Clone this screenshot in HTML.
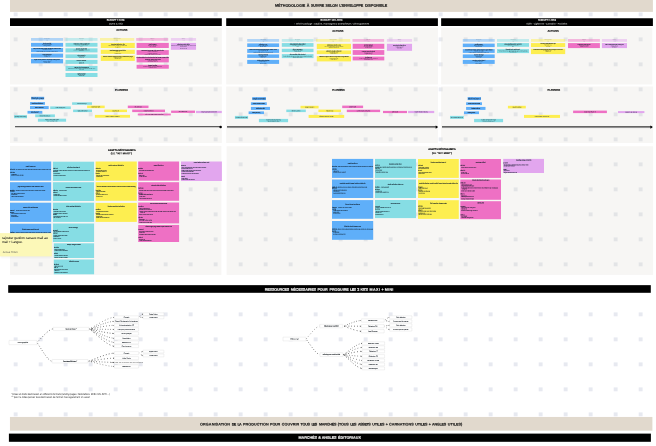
<!DOCTYPE html>
<html lang="fr">
<head>
<meta charset="utf-8">
<title>Méthodologie à suivre selon l'enveloppe disponible</title>
<style>
html,body{margin:0;padding:0;background:#fff;}
body{width:656px;height:446px;overflow:hidden;font-family:"Liberation Sans",sans-serif;}
svg{display:block;position:absolute;left:0;top:0;}
.k{stroke:#0e1a26;stroke-width:.07px;}
.k2{stroke:#000;stroke-width:.08px;}
.r2{stroke:#000;stroke-width:.07px;}
.s{stroke:#1c1c1a;stroke-width:.05px;}
.ak{stroke:#0e1a26;stroke-width:.04px;}
.ar{stroke:#0e1a26;stroke-width:.03px;}
.f{stroke:#222;stroke-width:.03px;}
.h{stroke:#000;stroke-width:.13px;}
.hw{stroke:#fff;stroke-width:.06px;}
.r{stroke:#0e1a26;stroke-width:.07px;}
</style>
</head>
<body>
<svg width="656" height="446" viewBox="0 0 656 446" font-family="'Liberation Sans', sans-serif">
<defs><filter id="bl" x="-20%" y="-20%" width="140%" height="140%"><feGaussianBlur stdDeviation="0.9"/></filter></defs>
<g fill="#e7e9f0"><rect x="13.7" y="12.4" width="3.9" height="3.9"/><rect x="38.7" y="12.4" width="3.9" height="3.9"/><rect x="63.7" y="12.4" width="3.9" height="3.9"/><rect x="88.7" y="12.4" width="3.9" height="3.9"/><rect x="113.7" y="12.4" width="3.9" height="3.9"/><rect x="138.7" y="12.4" width="3.9" height="3.9"/><rect x="163.7" y="12.4" width="3.9" height="3.9"/><rect x="188.7" y="12.4" width="3.9" height="3.9"/><rect x="213.7" y="12.4" width="3.9" height="3.9"/><rect x="238.7" y="12.4" width="3.9" height="3.9"/><rect x="263.7" y="12.4" width="3.9" height="3.9"/><rect x="288.7" y="12.4" width="3.9" height="3.9"/><rect x="313.7" y="12.4" width="3.9" height="3.9"/><rect x="338.7" y="12.4" width="3.9" height="3.9"/><rect x="363.7" y="12.4" width="3.9" height="3.9"/><rect x="388.7" y="12.4" width="3.9" height="3.9"/><rect x="413.7" y="12.4" width="3.9" height="3.9"/><rect x="438.7" y="12.4" width="3.9" height="3.9"/><rect x="463.7" y="12.4" width="3.9" height="3.9"/><rect x="488.7" y="12.4" width="3.9" height="3.9"/><rect x="513.7" y="12.4" width="3.9" height="3.9"/><rect x="538.7" y="12.4" width="3.9" height="3.9"/><rect x="563.7" y="12.4" width="3.9" height="3.9"/><rect x="588.7" y="12.4" width="3.9" height="3.9"/><rect x="613.7" y="12.4" width="3.9" height="3.9"/><rect x="638.7" y="12.4" width="3.9" height="3.9"/><rect x="13.7" y="37.4" width="3.9" height="3.9"/><rect x="38.7" y="37.4" width="3.9" height="3.9"/><rect x="63.7" y="37.4" width="3.9" height="3.9"/><rect x="88.7" y="37.4" width="3.9" height="3.9"/><rect x="113.7" y="37.4" width="3.9" height="3.9"/><rect x="138.7" y="37.4" width="3.9" height="3.9"/><rect x="163.7" y="37.4" width="3.9" height="3.9"/><rect x="188.7" y="37.4" width="3.9" height="3.9"/><rect x="213.7" y="37.4" width="3.9" height="3.9"/><rect x="238.7" y="37.4" width="3.9" height="3.9"/><rect x="263.7" y="37.4" width="3.9" height="3.9"/><rect x="288.7" y="37.4" width="3.9" height="3.9"/><rect x="313.7" y="37.4" width="3.9" height="3.9"/><rect x="338.7" y="37.4" width="3.9" height="3.9"/><rect x="363.7" y="37.4" width="3.9" height="3.9"/><rect x="388.7" y="37.4" width="3.9" height="3.9"/><rect x="413.7" y="37.4" width="3.9" height="3.9"/><rect x="438.7" y="37.4" width="3.9" height="3.9"/><rect x="463.7" y="37.4" width="3.9" height="3.9"/><rect x="488.7" y="37.4" width="3.9" height="3.9"/><rect x="513.7" y="37.4" width="3.9" height="3.9"/><rect x="538.7" y="37.4" width="3.9" height="3.9"/><rect x="563.7" y="37.4" width="3.9" height="3.9"/><rect x="588.7" y="37.4" width="3.9" height="3.9"/><rect x="613.7" y="37.4" width="3.9" height="3.9"/><rect x="638.7" y="37.4" width="3.9" height="3.9"/><rect x="13.7" y="62.4" width="3.9" height="3.9"/><rect x="38.7" y="62.4" width="3.9" height="3.9"/><rect x="63.7" y="62.4" width="3.9" height="3.9"/><rect x="88.7" y="62.4" width="3.9" height="3.9"/><rect x="113.7" y="62.4" width="3.9" height="3.9"/><rect x="138.7" y="62.4" width="3.9" height="3.9"/><rect x="163.7" y="62.4" width="3.9" height="3.9"/><rect x="188.7" y="62.4" width="3.9" height="3.9"/><rect x="213.7" y="62.4" width="3.9" height="3.9"/><rect x="238.7" y="62.4" width="3.9" height="3.9"/><rect x="263.7" y="62.4" width="3.9" height="3.9"/><rect x="288.7" y="62.4" width="3.9" height="3.9"/><rect x="313.7" y="62.4" width="3.9" height="3.9"/><rect x="338.7" y="62.4" width="3.9" height="3.9"/><rect x="363.7" y="62.4" width="3.9" height="3.9"/><rect x="388.7" y="62.4" width="3.9" height="3.9"/><rect x="413.7" y="62.4" width="3.9" height="3.9"/><rect x="438.7" y="62.4" width="3.9" height="3.9"/><rect x="463.7" y="62.4" width="3.9" height="3.9"/><rect x="488.7" y="62.4" width="3.9" height="3.9"/><rect x="513.7" y="62.4" width="3.9" height="3.9"/><rect x="538.7" y="62.4" width="3.9" height="3.9"/><rect x="563.7" y="62.4" width="3.9" height="3.9"/><rect x="588.7" y="62.4" width="3.9" height="3.9"/><rect x="613.7" y="62.4" width="3.9" height="3.9"/><rect x="638.7" y="62.4" width="3.9" height="3.9"/><rect x="13.7" y="87.4" width="3.9" height="3.9"/><rect x="38.7" y="87.4" width="3.9" height="3.9"/><rect x="63.7" y="87.4" width="3.9" height="3.9"/><rect x="88.7" y="87.4" width="3.9" height="3.9"/><rect x="113.7" y="87.4" width="3.9" height="3.9"/><rect x="138.7" y="87.4" width="3.9" height="3.9"/><rect x="163.7" y="87.4" width="3.9" height="3.9"/><rect x="188.7" y="87.4" width="3.9" height="3.9"/><rect x="213.7" y="87.4" width="3.9" height="3.9"/><rect x="238.7" y="87.4" width="3.9" height="3.9"/><rect x="263.7" y="87.4" width="3.9" height="3.9"/><rect x="288.7" y="87.4" width="3.9" height="3.9"/><rect x="313.7" y="87.4" width="3.9" height="3.9"/><rect x="338.7" y="87.4" width="3.9" height="3.9"/><rect x="363.7" y="87.4" width="3.9" height="3.9"/><rect x="388.7" y="87.4" width="3.9" height="3.9"/><rect x="413.7" y="87.4" width="3.9" height="3.9"/><rect x="438.7" y="87.4" width="3.9" height="3.9"/><rect x="463.7" y="87.4" width="3.9" height="3.9"/><rect x="488.7" y="87.4" width="3.9" height="3.9"/><rect x="513.7" y="87.4" width="3.9" height="3.9"/><rect x="538.7" y="87.4" width="3.9" height="3.9"/><rect x="563.7" y="87.4" width="3.9" height="3.9"/><rect x="588.7" y="87.4" width="3.9" height="3.9"/><rect x="613.7" y="87.4" width="3.9" height="3.9"/><rect x="638.7" y="87.4" width="3.9" height="3.9"/><rect x="13.7" y="112.4" width="3.9" height="3.9"/><rect x="38.7" y="112.4" width="3.9" height="3.9"/><rect x="63.7" y="112.4" width="3.9" height="3.9"/><rect x="88.7" y="112.4" width="3.9" height="3.9"/><rect x="113.7" y="112.4" width="3.9" height="3.9"/><rect x="138.7" y="112.4" width="3.9" height="3.9"/><rect x="163.7" y="112.4" width="3.9" height="3.9"/><rect x="188.7" y="112.4" width="3.9" height="3.9"/><rect x="213.7" y="112.4" width="3.9" height="3.9"/><rect x="238.7" y="112.4" width="3.9" height="3.9"/><rect x="263.7" y="112.4" width="3.9" height="3.9"/><rect x="288.7" y="112.4" width="3.9" height="3.9"/><rect x="313.7" y="112.4" width="3.9" height="3.9"/><rect x="338.7" y="112.4" width="3.9" height="3.9"/><rect x="363.7" y="112.4" width="3.9" height="3.9"/><rect x="388.7" y="112.4" width="3.9" height="3.9"/><rect x="413.7" y="112.4" width="3.9" height="3.9"/><rect x="438.7" y="112.4" width="3.9" height="3.9"/><rect x="463.7" y="112.4" width="3.9" height="3.9"/><rect x="488.7" y="112.4" width="3.9" height="3.9"/><rect x="513.7" y="112.4" width="3.9" height="3.9"/><rect x="538.7" y="112.4" width="3.9" height="3.9"/><rect x="563.7" y="112.4" width="3.9" height="3.9"/><rect x="588.7" y="112.4" width="3.9" height="3.9"/><rect x="613.7" y="112.4" width="3.9" height="3.9"/><rect x="638.7" y="112.4" width="3.9" height="3.9"/><rect x="13.7" y="137.4" width="3.9" height="3.9"/><rect x="38.7" y="137.4" width="3.9" height="3.9"/><rect x="63.7" y="137.4" width="3.9" height="3.9"/><rect x="88.7" y="137.4" width="3.9" height="3.9"/><rect x="113.7" y="137.4" width="3.9" height="3.9"/><rect x="138.7" y="137.4" width="3.9" height="3.9"/><rect x="163.7" y="137.4" width="3.9" height="3.9"/><rect x="188.7" y="137.4" width="3.9" height="3.9"/><rect x="213.7" y="137.4" width="3.9" height="3.9"/><rect x="238.7" y="137.4" width="3.9" height="3.9"/><rect x="263.7" y="137.4" width="3.9" height="3.9"/><rect x="288.7" y="137.4" width="3.9" height="3.9"/><rect x="313.7" y="137.4" width="3.9" height="3.9"/><rect x="338.7" y="137.4" width="3.9" height="3.9"/><rect x="363.7" y="137.4" width="3.9" height="3.9"/><rect x="388.7" y="137.4" width="3.9" height="3.9"/><rect x="413.7" y="137.4" width="3.9" height="3.9"/><rect x="438.7" y="137.4" width="3.9" height="3.9"/><rect x="463.7" y="137.4" width="3.9" height="3.9"/><rect x="488.7" y="137.4" width="3.9" height="3.9"/><rect x="513.7" y="137.4" width="3.9" height="3.9"/><rect x="538.7" y="137.4" width="3.9" height="3.9"/><rect x="563.7" y="137.4" width="3.9" height="3.9"/><rect x="588.7" y="137.4" width="3.9" height="3.9"/><rect x="613.7" y="137.4" width="3.9" height="3.9"/><rect x="638.7" y="137.4" width="3.9" height="3.9"/><rect x="13.7" y="162.4" width="3.9" height="3.9"/><rect x="38.7" y="162.4" width="3.9" height="3.9"/><rect x="63.7" y="162.4" width="3.9" height="3.9"/><rect x="88.7" y="162.4" width="3.9" height="3.9"/><rect x="113.7" y="162.4" width="3.9" height="3.9"/><rect x="138.7" y="162.4" width="3.9" height="3.9"/><rect x="163.7" y="162.4" width="3.9" height="3.9"/><rect x="188.7" y="162.4" width="3.9" height="3.9"/><rect x="213.7" y="162.4" width="3.9" height="3.9"/><rect x="238.7" y="162.4" width="3.9" height="3.9"/><rect x="263.7" y="162.4" width="3.9" height="3.9"/><rect x="288.7" y="162.4" width="3.9" height="3.9"/><rect x="313.7" y="162.4" width="3.9" height="3.9"/><rect x="338.7" y="162.4" width="3.9" height="3.9"/><rect x="363.7" y="162.4" width="3.9" height="3.9"/><rect x="388.7" y="162.4" width="3.9" height="3.9"/><rect x="413.7" y="162.4" width="3.9" height="3.9"/><rect x="438.7" y="162.4" width="3.9" height="3.9"/><rect x="463.7" y="162.4" width="3.9" height="3.9"/><rect x="488.7" y="162.4" width="3.9" height="3.9"/><rect x="513.7" y="162.4" width="3.9" height="3.9"/><rect x="538.7" y="162.4" width="3.9" height="3.9"/><rect x="563.7" y="162.4" width="3.9" height="3.9"/><rect x="588.7" y="162.4" width="3.9" height="3.9"/><rect x="613.7" y="162.4" width="3.9" height="3.9"/><rect x="638.7" y="162.4" width="3.9" height="3.9"/><rect x="13.7" y="187.4" width="3.9" height="3.9"/><rect x="38.7" y="187.4" width="3.9" height="3.9"/><rect x="63.7" y="187.4" width="3.9" height="3.9"/><rect x="88.7" y="187.4" width="3.9" height="3.9"/><rect x="113.7" y="187.4" width="3.9" height="3.9"/><rect x="138.7" y="187.4" width="3.9" height="3.9"/><rect x="163.7" y="187.4" width="3.9" height="3.9"/><rect x="188.7" y="187.4" width="3.9" height="3.9"/><rect x="213.7" y="187.4" width="3.9" height="3.9"/><rect x="238.7" y="187.4" width="3.9" height="3.9"/><rect x="263.7" y="187.4" width="3.9" height="3.9"/><rect x="288.7" y="187.4" width="3.9" height="3.9"/><rect x="313.7" y="187.4" width="3.9" height="3.9"/><rect x="338.7" y="187.4" width="3.9" height="3.9"/><rect x="363.7" y="187.4" width="3.9" height="3.9"/><rect x="388.7" y="187.4" width="3.9" height="3.9"/><rect x="413.7" y="187.4" width="3.9" height="3.9"/><rect x="438.7" y="187.4" width="3.9" height="3.9"/><rect x="463.7" y="187.4" width="3.9" height="3.9"/><rect x="488.7" y="187.4" width="3.9" height="3.9"/><rect x="513.7" y="187.4" width="3.9" height="3.9"/><rect x="538.7" y="187.4" width="3.9" height="3.9"/><rect x="563.7" y="187.4" width="3.9" height="3.9"/><rect x="588.7" y="187.4" width="3.9" height="3.9"/><rect x="613.7" y="187.4" width="3.9" height="3.9"/><rect x="638.7" y="187.4" width="3.9" height="3.9"/><rect x="13.7" y="212.4" width="3.9" height="3.9"/><rect x="38.7" y="212.4" width="3.9" height="3.9"/><rect x="63.7" y="212.4" width="3.9" height="3.9"/><rect x="88.7" y="212.4" width="3.9" height="3.9"/><rect x="113.7" y="212.4" width="3.9" height="3.9"/><rect x="138.7" y="212.4" width="3.9" height="3.9"/><rect x="163.7" y="212.4" width="3.9" height="3.9"/><rect x="188.7" y="212.4" width="3.9" height="3.9"/><rect x="213.7" y="212.4" width="3.9" height="3.9"/><rect x="238.7" y="212.4" width="3.9" height="3.9"/><rect x="263.7" y="212.4" width="3.9" height="3.9"/><rect x="288.7" y="212.4" width="3.9" height="3.9"/><rect x="313.7" y="212.4" width="3.9" height="3.9"/><rect x="338.7" y="212.4" width="3.9" height="3.9"/><rect x="363.7" y="212.4" width="3.9" height="3.9"/><rect x="388.7" y="212.4" width="3.9" height="3.9"/><rect x="413.7" y="212.4" width="3.9" height="3.9"/><rect x="438.7" y="212.4" width="3.9" height="3.9"/><rect x="463.7" y="212.4" width="3.9" height="3.9"/><rect x="488.7" y="212.4" width="3.9" height="3.9"/><rect x="513.7" y="212.4" width="3.9" height="3.9"/><rect x="538.7" y="212.4" width="3.9" height="3.9"/><rect x="563.7" y="212.4" width="3.9" height="3.9"/><rect x="588.7" y="212.4" width="3.9" height="3.9"/><rect x="613.7" y="212.4" width="3.9" height="3.9"/><rect x="638.7" y="212.4" width="3.9" height="3.9"/><rect x="13.7" y="237.4" width="3.9" height="3.9"/><rect x="38.7" y="237.4" width="3.9" height="3.9"/><rect x="63.7" y="237.4" width="3.9" height="3.9"/><rect x="88.7" y="237.4" width="3.9" height="3.9"/><rect x="113.7" y="237.4" width="3.9" height="3.9"/><rect x="138.7" y="237.4" width="3.9" height="3.9"/><rect x="163.7" y="237.4" width="3.9" height="3.9"/><rect x="188.7" y="237.4" width="3.9" height="3.9"/><rect x="213.7" y="237.4" width="3.9" height="3.9"/><rect x="238.7" y="237.4" width="3.9" height="3.9"/><rect x="263.7" y="237.4" width="3.9" height="3.9"/><rect x="288.7" y="237.4" width="3.9" height="3.9"/><rect x="313.7" y="237.4" width="3.9" height="3.9"/><rect x="338.7" y="237.4" width="3.9" height="3.9"/><rect x="363.7" y="237.4" width="3.9" height="3.9"/><rect x="388.7" y="237.4" width="3.9" height="3.9"/><rect x="413.7" y="237.4" width="3.9" height="3.9"/><rect x="438.7" y="237.4" width="3.9" height="3.9"/><rect x="463.7" y="237.4" width="3.9" height="3.9"/><rect x="488.7" y="237.4" width="3.9" height="3.9"/><rect x="513.7" y="237.4" width="3.9" height="3.9"/><rect x="538.7" y="237.4" width="3.9" height="3.9"/><rect x="563.7" y="237.4" width="3.9" height="3.9"/><rect x="588.7" y="237.4" width="3.9" height="3.9"/><rect x="613.7" y="237.4" width="3.9" height="3.9"/><rect x="638.7" y="237.4" width="3.9" height="3.9"/><rect x="13.7" y="262.4" width="3.9" height="3.9"/><rect x="38.7" y="262.4" width="3.9" height="3.9"/><rect x="63.7" y="262.4" width="3.9" height="3.9"/><rect x="88.7" y="262.4" width="3.9" height="3.9"/><rect x="113.7" y="262.4" width="3.9" height="3.9"/><rect x="138.7" y="262.4" width="3.9" height="3.9"/><rect x="163.7" y="262.4" width="3.9" height="3.9"/><rect x="188.7" y="262.4" width="3.9" height="3.9"/><rect x="213.7" y="262.4" width="3.9" height="3.9"/><rect x="238.7" y="262.4" width="3.9" height="3.9"/><rect x="263.7" y="262.4" width="3.9" height="3.9"/><rect x="288.7" y="262.4" width="3.9" height="3.9"/><rect x="313.7" y="262.4" width="3.9" height="3.9"/><rect x="338.7" y="262.4" width="3.9" height="3.9"/><rect x="363.7" y="262.4" width="3.9" height="3.9"/><rect x="388.7" y="262.4" width="3.9" height="3.9"/><rect x="413.7" y="262.4" width="3.9" height="3.9"/><rect x="438.7" y="262.4" width="3.9" height="3.9"/><rect x="463.7" y="262.4" width="3.9" height="3.9"/><rect x="488.7" y="262.4" width="3.9" height="3.9"/><rect x="513.7" y="262.4" width="3.9" height="3.9"/><rect x="538.7" y="262.4" width="3.9" height="3.9"/><rect x="563.7" y="262.4" width="3.9" height="3.9"/><rect x="588.7" y="262.4" width="3.9" height="3.9"/><rect x="613.7" y="262.4" width="3.9" height="3.9"/><rect x="638.7" y="262.4" width="3.9" height="3.9"/><rect x="13.7" y="287.4" width="3.9" height="3.9"/><rect x="38.7" y="287.4" width="3.9" height="3.9"/><rect x="63.7" y="287.4" width="3.9" height="3.9"/><rect x="88.7" y="287.4" width="3.9" height="3.9"/><rect x="113.7" y="287.4" width="3.9" height="3.9"/><rect x="138.7" y="287.4" width="3.9" height="3.9"/><rect x="163.7" y="287.4" width="3.9" height="3.9"/><rect x="188.7" y="287.4" width="3.9" height="3.9"/><rect x="213.7" y="287.4" width="3.9" height="3.9"/><rect x="238.7" y="287.4" width="3.9" height="3.9"/><rect x="263.7" y="287.4" width="3.9" height="3.9"/><rect x="288.7" y="287.4" width="3.9" height="3.9"/><rect x="313.7" y="287.4" width="3.9" height="3.9"/><rect x="338.7" y="287.4" width="3.9" height="3.9"/><rect x="363.7" y="287.4" width="3.9" height="3.9"/><rect x="388.7" y="287.4" width="3.9" height="3.9"/><rect x="413.7" y="287.4" width="3.9" height="3.9"/><rect x="438.7" y="287.4" width="3.9" height="3.9"/><rect x="463.7" y="287.4" width="3.9" height="3.9"/><rect x="488.7" y="287.4" width="3.9" height="3.9"/><rect x="513.7" y="287.4" width="3.9" height="3.9"/><rect x="538.7" y="287.4" width="3.9" height="3.9"/><rect x="563.7" y="287.4" width="3.9" height="3.9"/><rect x="588.7" y="287.4" width="3.9" height="3.9"/><rect x="613.7" y="287.4" width="3.9" height="3.9"/><rect x="638.7" y="287.4" width="3.9" height="3.9"/><rect x="13.7" y="312.4" width="3.9" height="3.9"/><rect x="38.7" y="312.4" width="3.9" height="3.9"/><rect x="63.7" y="312.4" width="3.9" height="3.9"/><rect x="88.7" y="312.4" width="3.9" height="3.9"/><rect x="113.7" y="312.4" width="3.9" height="3.9"/><rect x="138.7" y="312.4" width="3.9" height="3.9"/><rect x="163.7" y="312.4" width="3.9" height="3.9"/><rect x="188.7" y="312.4" width="3.9" height="3.9"/><rect x="213.7" y="312.4" width="3.9" height="3.9"/><rect x="238.7" y="312.4" width="3.9" height="3.9"/><rect x="263.7" y="312.4" width="3.9" height="3.9"/><rect x="288.7" y="312.4" width="3.9" height="3.9"/><rect x="313.7" y="312.4" width="3.9" height="3.9"/><rect x="338.7" y="312.4" width="3.9" height="3.9"/><rect x="363.7" y="312.4" width="3.9" height="3.9"/><rect x="388.7" y="312.4" width="3.9" height="3.9"/><rect x="413.7" y="312.4" width="3.9" height="3.9"/><rect x="438.7" y="312.4" width="3.9" height="3.9"/><rect x="463.7" y="312.4" width="3.9" height="3.9"/><rect x="488.7" y="312.4" width="3.9" height="3.9"/><rect x="513.7" y="312.4" width="3.9" height="3.9"/><rect x="538.7" y="312.4" width="3.9" height="3.9"/><rect x="563.7" y="312.4" width="3.9" height="3.9"/><rect x="588.7" y="312.4" width="3.9" height="3.9"/><rect x="613.7" y="312.4" width="3.9" height="3.9"/><rect x="638.7" y="312.4" width="3.9" height="3.9"/><rect x="13.7" y="337.4" width="3.9" height="3.9"/><rect x="38.7" y="337.4" width="3.9" height="3.9"/><rect x="63.7" y="337.4" width="3.9" height="3.9"/><rect x="88.7" y="337.4" width="3.9" height="3.9"/><rect x="113.7" y="337.4" width="3.9" height="3.9"/><rect x="138.7" y="337.4" width="3.9" height="3.9"/><rect x="163.7" y="337.4" width="3.9" height="3.9"/><rect x="188.7" y="337.4" width="3.9" height="3.9"/><rect x="213.7" y="337.4" width="3.9" height="3.9"/><rect x="238.7" y="337.4" width="3.9" height="3.9"/><rect x="263.7" y="337.4" width="3.9" height="3.9"/><rect x="288.7" y="337.4" width="3.9" height="3.9"/><rect x="313.7" y="337.4" width="3.9" height="3.9"/><rect x="338.7" y="337.4" width="3.9" height="3.9"/><rect x="363.7" y="337.4" width="3.9" height="3.9"/><rect x="388.7" y="337.4" width="3.9" height="3.9"/><rect x="413.7" y="337.4" width="3.9" height="3.9"/><rect x="438.7" y="337.4" width="3.9" height="3.9"/><rect x="463.7" y="337.4" width="3.9" height="3.9"/><rect x="488.7" y="337.4" width="3.9" height="3.9"/><rect x="513.7" y="337.4" width="3.9" height="3.9"/><rect x="538.7" y="337.4" width="3.9" height="3.9"/><rect x="563.7" y="337.4" width="3.9" height="3.9"/><rect x="588.7" y="337.4" width="3.9" height="3.9"/><rect x="613.7" y="337.4" width="3.9" height="3.9"/><rect x="638.7" y="337.4" width="3.9" height="3.9"/><rect x="13.7" y="362.4" width="3.9" height="3.9"/><rect x="38.7" y="362.4" width="3.9" height="3.9"/><rect x="63.7" y="362.4" width="3.9" height="3.9"/><rect x="88.7" y="362.4" width="3.9" height="3.9"/><rect x="113.7" y="362.4" width="3.9" height="3.9"/><rect x="138.7" y="362.4" width="3.9" height="3.9"/><rect x="163.7" y="362.4" width="3.9" height="3.9"/><rect x="188.7" y="362.4" width="3.9" height="3.9"/><rect x="213.7" y="362.4" width="3.9" height="3.9"/><rect x="238.7" y="362.4" width="3.9" height="3.9"/><rect x="263.7" y="362.4" width="3.9" height="3.9"/><rect x="288.7" y="362.4" width="3.9" height="3.9"/><rect x="313.7" y="362.4" width="3.9" height="3.9"/><rect x="338.7" y="362.4" width="3.9" height="3.9"/><rect x="363.7" y="362.4" width="3.9" height="3.9"/><rect x="388.7" y="362.4" width="3.9" height="3.9"/><rect x="413.7" y="362.4" width="3.9" height="3.9"/><rect x="438.7" y="362.4" width="3.9" height="3.9"/><rect x="463.7" y="362.4" width="3.9" height="3.9"/><rect x="488.7" y="362.4" width="3.9" height="3.9"/><rect x="513.7" y="362.4" width="3.9" height="3.9"/><rect x="538.7" y="362.4" width="3.9" height="3.9"/><rect x="563.7" y="362.4" width="3.9" height="3.9"/><rect x="588.7" y="362.4" width="3.9" height="3.9"/><rect x="613.7" y="362.4" width="3.9" height="3.9"/><rect x="638.7" y="362.4" width="3.9" height="3.9"/><rect x="13.7" y="387.4" width="3.9" height="3.9"/><rect x="38.7" y="387.4" width="3.9" height="3.9"/><rect x="63.7" y="387.4" width="3.9" height="3.9"/><rect x="88.7" y="387.4" width="3.9" height="3.9"/><rect x="113.7" y="387.4" width="3.9" height="3.9"/><rect x="138.7" y="387.4" width="3.9" height="3.9"/><rect x="163.7" y="387.4" width="3.9" height="3.9"/><rect x="188.7" y="387.4" width="3.9" height="3.9"/><rect x="213.7" y="387.4" width="3.9" height="3.9"/><rect x="238.7" y="387.4" width="3.9" height="3.9"/><rect x="263.7" y="387.4" width="3.9" height="3.9"/><rect x="288.7" y="387.4" width="3.9" height="3.9"/><rect x="313.7" y="387.4" width="3.9" height="3.9"/><rect x="338.7" y="387.4" width="3.9" height="3.9"/><rect x="363.7" y="387.4" width="3.9" height="3.9"/><rect x="388.7" y="387.4" width="3.9" height="3.9"/><rect x="413.7" y="387.4" width="3.9" height="3.9"/><rect x="438.7" y="387.4" width="3.9" height="3.9"/><rect x="463.7" y="387.4" width="3.9" height="3.9"/><rect x="488.7" y="387.4" width="3.9" height="3.9"/><rect x="513.7" y="387.4" width="3.9" height="3.9"/><rect x="538.7" y="387.4" width="3.9" height="3.9"/><rect x="563.7" y="387.4" width="3.9" height="3.9"/><rect x="588.7" y="387.4" width="3.9" height="3.9"/><rect x="613.7" y="387.4" width="3.9" height="3.9"/><rect x="638.7" y="387.4" width="3.9" height="3.9"/><rect x="13.7" y="412.4" width="3.9" height="3.9"/><rect x="38.7" y="412.4" width="3.9" height="3.9"/><rect x="63.7" y="412.4" width="3.9" height="3.9"/><rect x="88.7" y="412.4" width="3.9" height="3.9"/><rect x="113.7" y="412.4" width="3.9" height="3.9"/><rect x="138.7" y="412.4" width="3.9" height="3.9"/><rect x="163.7" y="412.4" width="3.9" height="3.9"/><rect x="188.7" y="412.4" width="3.9" height="3.9"/><rect x="213.7" y="412.4" width="3.9" height="3.9"/><rect x="238.7" y="412.4" width="3.9" height="3.9"/><rect x="263.7" y="412.4" width="3.9" height="3.9"/><rect x="288.7" y="412.4" width="3.9" height="3.9"/><rect x="313.7" y="412.4" width="3.9" height="3.9"/><rect x="338.7" y="412.4" width="3.9" height="3.9"/><rect x="363.7" y="412.4" width="3.9" height="3.9"/><rect x="388.7" y="412.4" width="3.9" height="3.9"/><rect x="413.7" y="412.4" width="3.9" height="3.9"/><rect x="438.7" y="412.4" width="3.9" height="3.9"/><rect x="463.7" y="412.4" width="3.9" height="3.9"/><rect x="488.7" y="412.4" width="3.9" height="3.9"/><rect x="513.7" y="412.4" width="3.9" height="3.9"/><rect x="538.7" y="412.4" width="3.9" height="3.9"/><rect x="563.7" y="412.4" width="3.9" height="3.9"/><rect x="588.7" y="412.4" width="3.9" height="3.9"/><rect x="613.7" y="412.4" width="3.9" height="3.9"/><rect x="638.7" y="412.4" width="3.9" height="3.9"/><rect x="13.7" y="437.4" width="3.9" height="3.9"/><rect x="38.7" y="437.4" width="3.9" height="3.9"/><rect x="63.7" y="437.4" width="3.9" height="3.9"/><rect x="88.7" y="437.4" width="3.9" height="3.9"/><rect x="113.7" y="437.4" width="3.9" height="3.9"/><rect x="138.7" y="437.4" width="3.9" height="3.9"/><rect x="163.7" y="437.4" width="3.9" height="3.9"/><rect x="188.7" y="437.4" width="3.9" height="3.9"/><rect x="213.7" y="437.4" width="3.9" height="3.9"/><rect x="238.7" y="437.4" width="3.9" height="3.9"/><rect x="263.7" y="437.4" width="3.9" height="3.9"/><rect x="288.7" y="437.4" width="3.9" height="3.9"/><rect x="313.7" y="437.4" width="3.9" height="3.9"/><rect x="338.7" y="437.4" width="3.9" height="3.9"/><rect x="363.7" y="437.4" width="3.9" height="3.9"/><rect x="388.7" y="437.4" width="3.9" height="3.9"/><rect x="413.7" y="437.4" width="3.9" height="3.9"/><rect x="438.7" y="437.4" width="3.9" height="3.9"/><rect x="463.7" y="437.4" width="3.9" height="3.9"/><rect x="488.7" y="437.4" width="3.9" height="3.9"/><rect x="513.7" y="437.4" width="3.9" height="3.9"/><rect x="538.7" y="437.4" width="3.9" height="3.9"/><rect x="563.7" y="437.4" width="3.9" height="3.9"/><rect x="588.7" y="437.4" width="3.9" height="3.9"/><rect x="613.7" y="437.4" width="3.9" height="3.9"/><rect x="638.7" y="437.4" width="3.9" height="3.9"/></g>
<rect x="10" y="0" width="642.9" height="11.9" fill="#e1d9cd"/>
<text y="6.85" font-size="3.75" transform="matrix(1 0.0005 0 1 0 -0.1656)" font-weight="700" fill="#111" stroke="#111" stroke-width="0.14"><tspan x="274.9" textLength="30.5" lengthAdjust="spacing">MÉTHODOLOGIE</tspan> <tspan x="306.7" textLength="2.9" lengthAdjust="spacing">À</tspan> <tspan x="310.9" textLength="13.4" lengthAdjust="spacing">SUIVRE</tspan> <tspan x="325.6" textLength="12.2" lengthAdjust="spacing">SELON</tspan> <tspan x="339.3" textLength="24.1" lengthAdjust="spacing">L'ENVELOPPE</tspan> <tspan x="364.9" textLength="22.4" lengthAdjust="spacing">DISPONIBLE</tspan></text>
<rect x="10" y="18.25" width="211.8" height="7.75" fill="#000"/>
<rect x="226.2" y="18.25" width="211.7" height="7.75" fill="#000"/>
<rect x="441.15" y="18.25" width="211.75" height="7.75" fill="#000"/>
<defs><clipPath id="pc"><rect x="10" y="27.7" width="211.8" height="56.75"/><rect x="10" y="86.45" width="211.8" height="56.6"/><rect x="226.2" y="27.7" width="211.7" height="56.75"/><rect x="226.2" y="86.45" width="211.7" height="56.6"/><rect x="441.15" y="27.7" width="211.15" height="56.75"/><rect x="441.15" y="86.45" width="211.95" height="56.6"/><rect x="10" y="145.9" width="211.4" height="129"/><rect x="226.6" y="146.25" width="426.5" height="128.65"/></clipPath></defs>
<rect x="10" y="27.7" width="211.8" height="56.75" fill="#f7f6f4"/>
<rect x="10" y="86.45" width="211.8" height="56.6" fill="#f7f6f4"/>
<rect x="226.2" y="27.7" width="211.7" height="56.75" fill="#f7f6f4"/>
<rect x="226.2" y="86.45" width="211.7" height="56.6" fill="#f7f6f4"/>
<rect x="441.15" y="27.7" width="211.15" height="56.75" fill="#f7f6f4"/>
<rect x="441.15" y="86.45" width="211.95" height="56.6" fill="#f7f6f4"/>
<rect x="10" y="145.9" width="211.4" height="129" fill="#f7f6f4"/>
<rect x="226.6" y="146.25" width="426.5" height="128.65" fill="#f7f6f4"/>
<g fill="#e3e4e6" clip-path="url(#pc)"><rect x="13.7" y="12.4" width="3.9" height="3.9"/><rect x="38.7" y="12.4" width="3.9" height="3.9"/><rect x="63.7" y="12.4" width="3.9" height="3.9"/><rect x="88.7" y="12.4" width="3.9" height="3.9"/><rect x="113.7" y="12.4" width="3.9" height="3.9"/><rect x="138.7" y="12.4" width="3.9" height="3.9"/><rect x="163.7" y="12.4" width="3.9" height="3.9"/><rect x="188.7" y="12.4" width="3.9" height="3.9"/><rect x="213.7" y="12.4" width="3.9" height="3.9"/><rect x="238.7" y="12.4" width="3.9" height="3.9"/><rect x="263.7" y="12.4" width="3.9" height="3.9"/><rect x="288.7" y="12.4" width="3.9" height="3.9"/><rect x="313.7" y="12.4" width="3.9" height="3.9"/><rect x="338.7" y="12.4" width="3.9" height="3.9"/><rect x="363.7" y="12.4" width="3.9" height="3.9"/><rect x="388.7" y="12.4" width="3.9" height="3.9"/><rect x="413.7" y="12.4" width="3.9" height="3.9"/><rect x="438.7" y="12.4" width="3.9" height="3.9"/><rect x="463.7" y="12.4" width="3.9" height="3.9"/><rect x="488.7" y="12.4" width="3.9" height="3.9"/><rect x="513.7" y="12.4" width="3.9" height="3.9"/><rect x="538.7" y="12.4" width="3.9" height="3.9"/><rect x="563.7" y="12.4" width="3.9" height="3.9"/><rect x="588.7" y="12.4" width="3.9" height="3.9"/><rect x="613.7" y="12.4" width="3.9" height="3.9"/><rect x="638.7" y="12.4" width="3.9" height="3.9"/><rect x="13.7" y="37.4" width="3.9" height="3.9"/><rect x="38.7" y="37.4" width="3.9" height="3.9"/><rect x="63.7" y="37.4" width="3.9" height="3.9"/><rect x="88.7" y="37.4" width="3.9" height="3.9"/><rect x="113.7" y="37.4" width="3.9" height="3.9"/><rect x="138.7" y="37.4" width="3.9" height="3.9"/><rect x="163.7" y="37.4" width="3.9" height="3.9"/><rect x="188.7" y="37.4" width="3.9" height="3.9"/><rect x="213.7" y="37.4" width="3.9" height="3.9"/><rect x="238.7" y="37.4" width="3.9" height="3.9"/><rect x="263.7" y="37.4" width="3.9" height="3.9"/><rect x="288.7" y="37.4" width="3.9" height="3.9"/><rect x="313.7" y="37.4" width="3.9" height="3.9"/><rect x="338.7" y="37.4" width="3.9" height="3.9"/><rect x="363.7" y="37.4" width="3.9" height="3.9"/><rect x="388.7" y="37.4" width="3.9" height="3.9"/><rect x="413.7" y="37.4" width="3.9" height="3.9"/><rect x="438.7" y="37.4" width="3.9" height="3.9"/><rect x="463.7" y="37.4" width="3.9" height="3.9"/><rect x="488.7" y="37.4" width="3.9" height="3.9"/><rect x="513.7" y="37.4" width="3.9" height="3.9"/><rect x="538.7" y="37.4" width="3.9" height="3.9"/><rect x="563.7" y="37.4" width="3.9" height="3.9"/><rect x="588.7" y="37.4" width="3.9" height="3.9"/><rect x="613.7" y="37.4" width="3.9" height="3.9"/><rect x="638.7" y="37.4" width="3.9" height="3.9"/><rect x="13.7" y="62.4" width="3.9" height="3.9"/><rect x="38.7" y="62.4" width="3.9" height="3.9"/><rect x="63.7" y="62.4" width="3.9" height="3.9"/><rect x="88.7" y="62.4" width="3.9" height="3.9"/><rect x="113.7" y="62.4" width="3.9" height="3.9"/><rect x="138.7" y="62.4" width="3.9" height="3.9"/><rect x="163.7" y="62.4" width="3.9" height="3.9"/><rect x="188.7" y="62.4" width="3.9" height="3.9"/><rect x="213.7" y="62.4" width="3.9" height="3.9"/><rect x="238.7" y="62.4" width="3.9" height="3.9"/><rect x="263.7" y="62.4" width="3.9" height="3.9"/><rect x="288.7" y="62.4" width="3.9" height="3.9"/><rect x="313.7" y="62.4" width="3.9" height="3.9"/><rect x="338.7" y="62.4" width="3.9" height="3.9"/><rect x="363.7" y="62.4" width="3.9" height="3.9"/><rect x="388.7" y="62.4" width="3.9" height="3.9"/><rect x="413.7" y="62.4" width="3.9" height="3.9"/><rect x="438.7" y="62.4" width="3.9" height="3.9"/><rect x="463.7" y="62.4" width="3.9" height="3.9"/><rect x="488.7" y="62.4" width="3.9" height="3.9"/><rect x="513.7" y="62.4" width="3.9" height="3.9"/><rect x="538.7" y="62.4" width="3.9" height="3.9"/><rect x="563.7" y="62.4" width="3.9" height="3.9"/><rect x="588.7" y="62.4" width="3.9" height="3.9"/><rect x="613.7" y="62.4" width="3.9" height="3.9"/><rect x="638.7" y="62.4" width="3.9" height="3.9"/><rect x="13.7" y="87.4" width="3.9" height="3.9"/><rect x="38.7" y="87.4" width="3.9" height="3.9"/><rect x="63.7" y="87.4" width="3.9" height="3.9"/><rect x="88.7" y="87.4" width="3.9" height="3.9"/><rect x="113.7" y="87.4" width="3.9" height="3.9"/><rect x="138.7" y="87.4" width="3.9" height="3.9"/><rect x="163.7" y="87.4" width="3.9" height="3.9"/><rect x="188.7" y="87.4" width="3.9" height="3.9"/><rect x="213.7" y="87.4" width="3.9" height="3.9"/><rect x="238.7" y="87.4" width="3.9" height="3.9"/><rect x="263.7" y="87.4" width="3.9" height="3.9"/><rect x="288.7" y="87.4" width="3.9" height="3.9"/><rect x="313.7" y="87.4" width="3.9" height="3.9"/><rect x="338.7" y="87.4" width="3.9" height="3.9"/><rect x="363.7" y="87.4" width="3.9" height="3.9"/><rect x="388.7" y="87.4" width="3.9" height="3.9"/><rect x="413.7" y="87.4" width="3.9" height="3.9"/><rect x="438.7" y="87.4" width="3.9" height="3.9"/><rect x="463.7" y="87.4" width="3.9" height="3.9"/><rect x="488.7" y="87.4" width="3.9" height="3.9"/><rect x="513.7" y="87.4" width="3.9" height="3.9"/><rect x="538.7" y="87.4" width="3.9" height="3.9"/><rect x="563.7" y="87.4" width="3.9" height="3.9"/><rect x="588.7" y="87.4" width="3.9" height="3.9"/><rect x="613.7" y="87.4" width="3.9" height="3.9"/><rect x="638.7" y="87.4" width="3.9" height="3.9"/><rect x="13.7" y="112.4" width="3.9" height="3.9"/><rect x="38.7" y="112.4" width="3.9" height="3.9"/><rect x="63.7" y="112.4" width="3.9" height="3.9"/><rect x="88.7" y="112.4" width="3.9" height="3.9"/><rect x="113.7" y="112.4" width="3.9" height="3.9"/><rect x="138.7" y="112.4" width="3.9" height="3.9"/><rect x="163.7" y="112.4" width="3.9" height="3.9"/><rect x="188.7" y="112.4" width="3.9" height="3.9"/><rect x="213.7" y="112.4" width="3.9" height="3.9"/><rect x="238.7" y="112.4" width="3.9" height="3.9"/><rect x="263.7" y="112.4" width="3.9" height="3.9"/><rect x="288.7" y="112.4" width="3.9" height="3.9"/><rect x="313.7" y="112.4" width="3.9" height="3.9"/><rect x="338.7" y="112.4" width="3.9" height="3.9"/><rect x="363.7" y="112.4" width="3.9" height="3.9"/><rect x="388.7" y="112.4" width="3.9" height="3.9"/><rect x="413.7" y="112.4" width="3.9" height="3.9"/><rect x="438.7" y="112.4" width="3.9" height="3.9"/><rect x="463.7" y="112.4" width="3.9" height="3.9"/><rect x="488.7" y="112.4" width="3.9" height="3.9"/><rect x="513.7" y="112.4" width="3.9" height="3.9"/><rect x="538.7" y="112.4" width="3.9" height="3.9"/><rect x="563.7" y="112.4" width="3.9" height="3.9"/><rect x="588.7" y="112.4" width="3.9" height="3.9"/><rect x="613.7" y="112.4" width="3.9" height="3.9"/><rect x="638.7" y="112.4" width="3.9" height="3.9"/><rect x="13.7" y="137.4" width="3.9" height="3.9"/><rect x="38.7" y="137.4" width="3.9" height="3.9"/><rect x="63.7" y="137.4" width="3.9" height="3.9"/><rect x="88.7" y="137.4" width="3.9" height="3.9"/><rect x="113.7" y="137.4" width="3.9" height="3.9"/><rect x="138.7" y="137.4" width="3.9" height="3.9"/><rect x="163.7" y="137.4" width="3.9" height="3.9"/><rect x="188.7" y="137.4" width="3.9" height="3.9"/><rect x="213.7" y="137.4" width="3.9" height="3.9"/><rect x="238.7" y="137.4" width="3.9" height="3.9"/><rect x="263.7" y="137.4" width="3.9" height="3.9"/><rect x="288.7" y="137.4" width="3.9" height="3.9"/><rect x="313.7" y="137.4" width="3.9" height="3.9"/><rect x="338.7" y="137.4" width="3.9" height="3.9"/><rect x="363.7" y="137.4" width="3.9" height="3.9"/><rect x="388.7" y="137.4" width="3.9" height="3.9"/><rect x="413.7" y="137.4" width="3.9" height="3.9"/><rect x="438.7" y="137.4" width="3.9" height="3.9"/><rect x="463.7" y="137.4" width="3.9" height="3.9"/><rect x="488.7" y="137.4" width="3.9" height="3.9"/><rect x="513.7" y="137.4" width="3.9" height="3.9"/><rect x="538.7" y="137.4" width="3.9" height="3.9"/><rect x="563.7" y="137.4" width="3.9" height="3.9"/><rect x="588.7" y="137.4" width="3.9" height="3.9"/><rect x="613.7" y="137.4" width="3.9" height="3.9"/><rect x="638.7" y="137.4" width="3.9" height="3.9"/><rect x="13.7" y="162.4" width="3.9" height="3.9"/><rect x="38.7" y="162.4" width="3.9" height="3.9"/><rect x="63.7" y="162.4" width="3.9" height="3.9"/><rect x="88.7" y="162.4" width="3.9" height="3.9"/><rect x="113.7" y="162.4" width="3.9" height="3.9"/><rect x="138.7" y="162.4" width="3.9" height="3.9"/><rect x="163.7" y="162.4" width="3.9" height="3.9"/><rect x="188.7" y="162.4" width="3.9" height="3.9"/><rect x="213.7" y="162.4" width="3.9" height="3.9"/><rect x="238.7" y="162.4" width="3.9" height="3.9"/><rect x="263.7" y="162.4" width="3.9" height="3.9"/><rect x="288.7" y="162.4" width="3.9" height="3.9"/><rect x="313.7" y="162.4" width="3.9" height="3.9"/><rect x="338.7" y="162.4" width="3.9" height="3.9"/><rect x="363.7" y="162.4" width="3.9" height="3.9"/><rect x="388.7" y="162.4" width="3.9" height="3.9"/><rect x="413.7" y="162.4" width="3.9" height="3.9"/><rect x="438.7" y="162.4" width="3.9" height="3.9"/><rect x="463.7" y="162.4" width="3.9" height="3.9"/><rect x="488.7" y="162.4" width="3.9" height="3.9"/><rect x="513.7" y="162.4" width="3.9" height="3.9"/><rect x="538.7" y="162.4" width="3.9" height="3.9"/><rect x="563.7" y="162.4" width="3.9" height="3.9"/><rect x="588.7" y="162.4" width="3.9" height="3.9"/><rect x="613.7" y="162.4" width="3.9" height="3.9"/><rect x="638.7" y="162.4" width="3.9" height="3.9"/><rect x="13.7" y="187.4" width="3.9" height="3.9"/><rect x="38.7" y="187.4" width="3.9" height="3.9"/><rect x="63.7" y="187.4" width="3.9" height="3.9"/><rect x="88.7" y="187.4" width="3.9" height="3.9"/><rect x="113.7" y="187.4" width="3.9" height="3.9"/><rect x="138.7" y="187.4" width="3.9" height="3.9"/><rect x="163.7" y="187.4" width="3.9" height="3.9"/><rect x="188.7" y="187.4" width="3.9" height="3.9"/><rect x="213.7" y="187.4" width="3.9" height="3.9"/><rect x="238.7" y="187.4" width="3.9" height="3.9"/><rect x="263.7" y="187.4" width="3.9" height="3.9"/><rect x="288.7" y="187.4" width="3.9" height="3.9"/><rect x="313.7" y="187.4" width="3.9" height="3.9"/><rect x="338.7" y="187.4" width="3.9" height="3.9"/><rect x="363.7" y="187.4" width="3.9" height="3.9"/><rect x="388.7" y="187.4" width="3.9" height="3.9"/><rect x="413.7" y="187.4" width="3.9" height="3.9"/><rect x="438.7" y="187.4" width="3.9" height="3.9"/><rect x="463.7" y="187.4" width="3.9" height="3.9"/><rect x="488.7" y="187.4" width="3.9" height="3.9"/><rect x="513.7" y="187.4" width="3.9" height="3.9"/><rect x="538.7" y="187.4" width="3.9" height="3.9"/><rect x="563.7" y="187.4" width="3.9" height="3.9"/><rect x="588.7" y="187.4" width="3.9" height="3.9"/><rect x="613.7" y="187.4" width="3.9" height="3.9"/><rect x="638.7" y="187.4" width="3.9" height="3.9"/><rect x="13.7" y="212.4" width="3.9" height="3.9"/><rect x="38.7" y="212.4" width="3.9" height="3.9"/><rect x="63.7" y="212.4" width="3.9" height="3.9"/><rect x="88.7" y="212.4" width="3.9" height="3.9"/><rect x="113.7" y="212.4" width="3.9" height="3.9"/><rect x="138.7" y="212.4" width="3.9" height="3.9"/><rect x="163.7" y="212.4" width="3.9" height="3.9"/><rect x="188.7" y="212.4" width="3.9" height="3.9"/><rect x="213.7" y="212.4" width="3.9" height="3.9"/><rect x="238.7" y="212.4" width="3.9" height="3.9"/><rect x="263.7" y="212.4" width="3.9" height="3.9"/><rect x="288.7" y="212.4" width="3.9" height="3.9"/><rect x="313.7" y="212.4" width="3.9" height="3.9"/><rect x="338.7" y="212.4" width="3.9" height="3.9"/><rect x="363.7" y="212.4" width="3.9" height="3.9"/><rect x="388.7" y="212.4" width="3.9" height="3.9"/><rect x="413.7" y="212.4" width="3.9" height="3.9"/><rect x="438.7" y="212.4" width="3.9" height="3.9"/><rect x="463.7" y="212.4" width="3.9" height="3.9"/><rect x="488.7" y="212.4" width="3.9" height="3.9"/><rect x="513.7" y="212.4" width="3.9" height="3.9"/><rect x="538.7" y="212.4" width="3.9" height="3.9"/><rect x="563.7" y="212.4" width="3.9" height="3.9"/><rect x="588.7" y="212.4" width="3.9" height="3.9"/><rect x="613.7" y="212.4" width="3.9" height="3.9"/><rect x="638.7" y="212.4" width="3.9" height="3.9"/><rect x="13.7" y="237.4" width="3.9" height="3.9"/><rect x="38.7" y="237.4" width="3.9" height="3.9"/><rect x="63.7" y="237.4" width="3.9" height="3.9"/><rect x="88.7" y="237.4" width="3.9" height="3.9"/><rect x="113.7" y="237.4" width="3.9" height="3.9"/><rect x="138.7" y="237.4" width="3.9" height="3.9"/><rect x="163.7" y="237.4" width="3.9" height="3.9"/><rect x="188.7" y="237.4" width="3.9" height="3.9"/><rect x="213.7" y="237.4" width="3.9" height="3.9"/><rect x="238.7" y="237.4" width="3.9" height="3.9"/><rect x="263.7" y="237.4" width="3.9" height="3.9"/><rect x="288.7" y="237.4" width="3.9" height="3.9"/><rect x="313.7" y="237.4" width="3.9" height="3.9"/><rect x="338.7" y="237.4" width="3.9" height="3.9"/><rect x="363.7" y="237.4" width="3.9" height="3.9"/><rect x="388.7" y="237.4" width="3.9" height="3.9"/><rect x="413.7" y="237.4" width="3.9" height="3.9"/><rect x="438.7" y="237.4" width="3.9" height="3.9"/><rect x="463.7" y="237.4" width="3.9" height="3.9"/><rect x="488.7" y="237.4" width="3.9" height="3.9"/><rect x="513.7" y="237.4" width="3.9" height="3.9"/><rect x="538.7" y="237.4" width="3.9" height="3.9"/><rect x="563.7" y="237.4" width="3.9" height="3.9"/><rect x="588.7" y="237.4" width="3.9" height="3.9"/><rect x="613.7" y="237.4" width="3.9" height="3.9"/><rect x="638.7" y="237.4" width="3.9" height="3.9"/><rect x="13.7" y="262.4" width="3.9" height="3.9"/><rect x="38.7" y="262.4" width="3.9" height="3.9"/><rect x="63.7" y="262.4" width="3.9" height="3.9"/><rect x="88.7" y="262.4" width="3.9" height="3.9"/><rect x="113.7" y="262.4" width="3.9" height="3.9"/><rect x="138.7" y="262.4" width="3.9" height="3.9"/><rect x="163.7" y="262.4" width="3.9" height="3.9"/><rect x="188.7" y="262.4" width="3.9" height="3.9"/><rect x="213.7" y="262.4" width="3.9" height="3.9"/><rect x="238.7" y="262.4" width="3.9" height="3.9"/><rect x="263.7" y="262.4" width="3.9" height="3.9"/><rect x="288.7" y="262.4" width="3.9" height="3.9"/><rect x="313.7" y="262.4" width="3.9" height="3.9"/><rect x="338.7" y="262.4" width="3.9" height="3.9"/><rect x="363.7" y="262.4" width="3.9" height="3.9"/><rect x="388.7" y="262.4" width="3.9" height="3.9"/><rect x="413.7" y="262.4" width="3.9" height="3.9"/><rect x="438.7" y="262.4" width="3.9" height="3.9"/><rect x="463.7" y="262.4" width="3.9" height="3.9"/><rect x="488.7" y="262.4" width="3.9" height="3.9"/><rect x="513.7" y="262.4" width="3.9" height="3.9"/><rect x="538.7" y="262.4" width="3.9" height="3.9"/><rect x="563.7" y="262.4" width="3.9" height="3.9"/><rect x="588.7" y="262.4" width="3.9" height="3.9"/><rect x="613.7" y="262.4" width="3.9" height="3.9"/><rect x="638.7" y="262.4" width="3.9" height="3.9"/><rect x="13.7" y="287.4" width="3.9" height="3.9"/><rect x="38.7" y="287.4" width="3.9" height="3.9"/><rect x="63.7" y="287.4" width="3.9" height="3.9"/><rect x="88.7" y="287.4" width="3.9" height="3.9"/><rect x="113.7" y="287.4" width="3.9" height="3.9"/><rect x="138.7" y="287.4" width="3.9" height="3.9"/><rect x="163.7" y="287.4" width="3.9" height="3.9"/><rect x="188.7" y="287.4" width="3.9" height="3.9"/><rect x="213.7" y="287.4" width="3.9" height="3.9"/><rect x="238.7" y="287.4" width="3.9" height="3.9"/><rect x="263.7" y="287.4" width="3.9" height="3.9"/><rect x="288.7" y="287.4" width="3.9" height="3.9"/><rect x="313.7" y="287.4" width="3.9" height="3.9"/><rect x="338.7" y="287.4" width="3.9" height="3.9"/><rect x="363.7" y="287.4" width="3.9" height="3.9"/><rect x="388.7" y="287.4" width="3.9" height="3.9"/><rect x="413.7" y="287.4" width="3.9" height="3.9"/><rect x="438.7" y="287.4" width="3.9" height="3.9"/><rect x="463.7" y="287.4" width="3.9" height="3.9"/><rect x="488.7" y="287.4" width="3.9" height="3.9"/><rect x="513.7" y="287.4" width="3.9" height="3.9"/><rect x="538.7" y="287.4" width="3.9" height="3.9"/><rect x="563.7" y="287.4" width="3.9" height="3.9"/><rect x="588.7" y="287.4" width="3.9" height="3.9"/><rect x="613.7" y="287.4" width="3.9" height="3.9"/><rect x="638.7" y="287.4" width="3.9" height="3.9"/><rect x="13.7" y="312.4" width="3.9" height="3.9"/><rect x="38.7" y="312.4" width="3.9" height="3.9"/><rect x="63.7" y="312.4" width="3.9" height="3.9"/><rect x="88.7" y="312.4" width="3.9" height="3.9"/><rect x="113.7" y="312.4" width="3.9" height="3.9"/><rect x="138.7" y="312.4" width="3.9" height="3.9"/><rect x="163.7" y="312.4" width="3.9" height="3.9"/><rect x="188.7" y="312.4" width="3.9" height="3.9"/><rect x="213.7" y="312.4" width="3.9" height="3.9"/><rect x="238.7" y="312.4" width="3.9" height="3.9"/><rect x="263.7" y="312.4" width="3.9" height="3.9"/><rect x="288.7" y="312.4" width="3.9" height="3.9"/><rect x="313.7" y="312.4" width="3.9" height="3.9"/><rect x="338.7" y="312.4" width="3.9" height="3.9"/><rect x="363.7" y="312.4" width="3.9" height="3.9"/><rect x="388.7" y="312.4" width="3.9" height="3.9"/><rect x="413.7" y="312.4" width="3.9" height="3.9"/><rect x="438.7" y="312.4" width="3.9" height="3.9"/><rect x="463.7" y="312.4" width="3.9" height="3.9"/><rect x="488.7" y="312.4" width="3.9" height="3.9"/><rect x="513.7" y="312.4" width="3.9" height="3.9"/><rect x="538.7" y="312.4" width="3.9" height="3.9"/><rect x="563.7" y="312.4" width="3.9" height="3.9"/><rect x="588.7" y="312.4" width="3.9" height="3.9"/><rect x="613.7" y="312.4" width="3.9" height="3.9"/><rect x="638.7" y="312.4" width="3.9" height="3.9"/><rect x="13.7" y="337.4" width="3.9" height="3.9"/><rect x="38.7" y="337.4" width="3.9" height="3.9"/><rect x="63.7" y="337.4" width="3.9" height="3.9"/><rect x="88.7" y="337.4" width="3.9" height="3.9"/><rect x="113.7" y="337.4" width="3.9" height="3.9"/><rect x="138.7" y="337.4" width="3.9" height="3.9"/><rect x="163.7" y="337.4" width="3.9" height="3.9"/><rect x="188.7" y="337.4" width="3.9" height="3.9"/><rect x="213.7" y="337.4" width="3.9" height="3.9"/><rect x="238.7" y="337.4" width="3.9" height="3.9"/><rect x="263.7" y="337.4" width="3.9" height="3.9"/><rect x="288.7" y="337.4" width="3.9" height="3.9"/><rect x="313.7" y="337.4" width="3.9" height="3.9"/><rect x="338.7" y="337.4" width="3.9" height="3.9"/><rect x="363.7" y="337.4" width="3.9" height="3.9"/><rect x="388.7" y="337.4" width="3.9" height="3.9"/><rect x="413.7" y="337.4" width="3.9" height="3.9"/><rect x="438.7" y="337.4" width="3.9" height="3.9"/><rect x="463.7" y="337.4" width="3.9" height="3.9"/><rect x="488.7" y="337.4" width="3.9" height="3.9"/><rect x="513.7" y="337.4" width="3.9" height="3.9"/><rect x="538.7" y="337.4" width="3.9" height="3.9"/><rect x="563.7" y="337.4" width="3.9" height="3.9"/><rect x="588.7" y="337.4" width="3.9" height="3.9"/><rect x="613.7" y="337.4" width="3.9" height="3.9"/><rect x="638.7" y="337.4" width="3.9" height="3.9"/><rect x="13.7" y="362.4" width="3.9" height="3.9"/><rect x="38.7" y="362.4" width="3.9" height="3.9"/><rect x="63.7" y="362.4" width="3.9" height="3.9"/><rect x="88.7" y="362.4" width="3.9" height="3.9"/><rect x="113.7" y="362.4" width="3.9" height="3.9"/><rect x="138.7" y="362.4" width="3.9" height="3.9"/><rect x="163.7" y="362.4" width="3.9" height="3.9"/><rect x="188.7" y="362.4" width="3.9" height="3.9"/><rect x="213.7" y="362.4" width="3.9" height="3.9"/><rect x="238.7" y="362.4" width="3.9" height="3.9"/><rect x="263.7" y="362.4" width="3.9" height="3.9"/><rect x="288.7" y="362.4" width="3.9" height="3.9"/><rect x="313.7" y="362.4" width="3.9" height="3.9"/><rect x="338.7" y="362.4" width="3.9" height="3.9"/><rect x="363.7" y="362.4" width="3.9" height="3.9"/><rect x="388.7" y="362.4" width="3.9" height="3.9"/><rect x="413.7" y="362.4" width="3.9" height="3.9"/><rect x="438.7" y="362.4" width="3.9" height="3.9"/><rect x="463.7" y="362.4" width="3.9" height="3.9"/><rect x="488.7" y="362.4" width="3.9" height="3.9"/><rect x="513.7" y="362.4" width="3.9" height="3.9"/><rect x="538.7" y="362.4" width="3.9" height="3.9"/><rect x="563.7" y="362.4" width="3.9" height="3.9"/><rect x="588.7" y="362.4" width="3.9" height="3.9"/><rect x="613.7" y="362.4" width="3.9" height="3.9"/><rect x="638.7" y="362.4" width="3.9" height="3.9"/><rect x="13.7" y="387.4" width="3.9" height="3.9"/><rect x="38.7" y="387.4" width="3.9" height="3.9"/><rect x="63.7" y="387.4" width="3.9" height="3.9"/><rect x="88.7" y="387.4" width="3.9" height="3.9"/><rect x="113.7" y="387.4" width="3.9" height="3.9"/><rect x="138.7" y="387.4" width="3.9" height="3.9"/><rect x="163.7" y="387.4" width="3.9" height="3.9"/><rect x="188.7" y="387.4" width="3.9" height="3.9"/><rect x="213.7" y="387.4" width="3.9" height="3.9"/><rect x="238.7" y="387.4" width="3.9" height="3.9"/><rect x="263.7" y="387.4" width="3.9" height="3.9"/><rect x="288.7" y="387.4" width="3.9" height="3.9"/><rect x="313.7" y="387.4" width="3.9" height="3.9"/><rect x="338.7" y="387.4" width="3.9" height="3.9"/><rect x="363.7" y="387.4" width="3.9" height="3.9"/><rect x="388.7" y="387.4" width="3.9" height="3.9"/><rect x="413.7" y="387.4" width="3.9" height="3.9"/><rect x="438.7" y="387.4" width="3.9" height="3.9"/><rect x="463.7" y="387.4" width="3.9" height="3.9"/><rect x="488.7" y="387.4" width="3.9" height="3.9"/><rect x="513.7" y="387.4" width="3.9" height="3.9"/><rect x="538.7" y="387.4" width="3.9" height="3.9"/><rect x="563.7" y="387.4" width="3.9" height="3.9"/><rect x="588.7" y="387.4" width="3.9" height="3.9"/><rect x="613.7" y="387.4" width="3.9" height="3.9"/><rect x="638.7" y="387.4" width="3.9" height="3.9"/><rect x="13.7" y="412.4" width="3.9" height="3.9"/><rect x="38.7" y="412.4" width="3.9" height="3.9"/><rect x="63.7" y="412.4" width="3.9" height="3.9"/><rect x="88.7" y="412.4" width="3.9" height="3.9"/><rect x="113.7" y="412.4" width="3.9" height="3.9"/><rect x="138.7" y="412.4" width="3.9" height="3.9"/><rect x="163.7" y="412.4" width="3.9" height="3.9"/><rect x="188.7" y="412.4" width="3.9" height="3.9"/><rect x="213.7" y="412.4" width="3.9" height="3.9"/><rect x="238.7" y="412.4" width="3.9" height="3.9"/><rect x="263.7" y="412.4" width="3.9" height="3.9"/><rect x="288.7" y="412.4" width="3.9" height="3.9"/><rect x="313.7" y="412.4" width="3.9" height="3.9"/><rect x="338.7" y="412.4" width="3.9" height="3.9"/><rect x="363.7" y="412.4" width="3.9" height="3.9"/><rect x="388.7" y="412.4" width="3.9" height="3.9"/><rect x="413.7" y="412.4" width="3.9" height="3.9"/><rect x="438.7" y="412.4" width="3.9" height="3.9"/><rect x="463.7" y="412.4" width="3.9" height="3.9"/><rect x="488.7" y="412.4" width="3.9" height="3.9"/><rect x="513.7" y="412.4" width="3.9" height="3.9"/><rect x="538.7" y="412.4" width="3.9" height="3.9"/><rect x="563.7" y="412.4" width="3.9" height="3.9"/><rect x="588.7" y="412.4" width="3.9" height="3.9"/><rect x="613.7" y="412.4" width="3.9" height="3.9"/><rect x="638.7" y="412.4" width="3.9" height="3.9"/><rect x="13.7" y="437.4" width="3.9" height="3.9"/><rect x="38.7" y="437.4" width="3.9" height="3.9"/><rect x="63.7" y="437.4" width="3.9" height="3.9"/><rect x="88.7" y="437.4" width="3.9" height="3.9"/><rect x="113.7" y="437.4" width="3.9" height="3.9"/><rect x="138.7" y="437.4" width="3.9" height="3.9"/><rect x="163.7" y="437.4" width="3.9" height="3.9"/><rect x="188.7" y="437.4" width="3.9" height="3.9"/><rect x="213.7" y="437.4" width="3.9" height="3.9"/><rect x="238.7" y="437.4" width="3.9" height="3.9"/><rect x="263.7" y="437.4" width="3.9" height="3.9"/><rect x="288.7" y="437.4" width="3.9" height="3.9"/><rect x="313.7" y="437.4" width="3.9" height="3.9"/><rect x="338.7" y="437.4" width="3.9" height="3.9"/><rect x="363.7" y="437.4" width="3.9" height="3.9"/><rect x="388.7" y="437.4" width="3.9" height="3.9"/><rect x="413.7" y="437.4" width="3.9" height="3.9"/><rect x="438.7" y="437.4" width="3.9" height="3.9"/><rect x="463.7" y="437.4" width="3.9" height="3.9"/><rect x="488.7" y="437.4" width="3.9" height="3.9"/><rect x="513.7" y="437.4" width="3.9" height="3.9"/><rect x="538.7" y="437.4" width="3.9" height="3.9"/><rect x="563.7" y="437.4" width="3.9" height="3.9"/><rect x="588.7" y="437.4" width="3.9" height="3.9"/><rect x="613.7" y="437.4" width="3.9" height="3.9"/><rect x="638.7" y="437.4" width="3.9" height="3.9"/></g>
<text x="106.8" y="20.75" font-size="2.33" transform="matrix(1 0.0005 0 1 0 -0.0534)" class="hw" font-weight="700" fill="#fff" textLength="17.8" lengthAdjust="spacing">BUDGET &lt; 10K€</text>
<text x="109" y="24.5" font-size="2.3" transform="matrix(1 0.0005 0 1 0 -0.0545)" fill="#e8e8e8" textLength="13.6" lengthAdjust="spacing">Guest &amp; Visit</text>
<text x="320.6" y="20.75" font-size="2.33" transform="matrix(1 0.0005 0 1 0 -0.1603)" class="hw" font-weight="700" fill="#fff" textLength="21.9" lengthAdjust="spacing">BUDGET 10K-20K€</text>
<text x="294" y="24.5" font-size="2.3" transform="matrix(1 0.0005 0 1 0 -0.147)" fill="#e8e8e8" textLength="75.2" lengthAdjust="spacing">+ Whole package : Studios, reportages &amp; Entrepôteurs - photogrammes</text>
<text x="538.3" y="20.75" font-size="2.33" transform="matrix(1 0.0005 0 1 0 -0.2692)" class="hw" font-weight="700" fill="#fff" textLength="17.7" lengthAdjust="spacing">BUDGET &gt; 20K€</text>
<text x="526.3" y="24.5" font-size="2.3" transform="matrix(1 0.0005 0 1 0 -0.2631)" fill="#e8e8e8" textLength="40.9" lengthAdjust="spacing">Vidéo - Lightroom - Carnation - Packshot</text>
<text x="116.2" y="30.85" font-size="2.5" transform="matrix(1 0.0005 0 1 0 -0.0581)" class="h" font-weight="700" fill="#000" textLength="11.2" lengthAdjust="spacing">ACTIONS</text>
<text x="332.3" y="31.65" font-size="2.5" transform="matrix(1 0.0005 0 1 0 -0.1662)" class="h" font-weight="700" fill="#000" textLength="11.2" lengthAdjust="spacing">ACTIONS</text>
<text x="547.5" y="31.65" font-size="2.5" transform="matrix(1 0.0005 0 1 0 -0.2737)" class="h" font-weight="700" fill="#000" textLength="11.2" lengthAdjust="spacing">ACTIONS</text>
<text x="115" y="90.85" font-size="2.48" transform="matrix(1 0.0005 0 1 0 -0.0575)" class="h" font-weight="700" fill="#000" textLength="12.9" lengthAdjust="spacing">PLANNING</text>
<text x="332.2" y="90.85" font-size="2.48" transform="matrix(1 0.0005 0 1 0 -0.1661)" class="h" font-weight="700" fill="#000" textLength="12.4" lengthAdjust="spacing">PLANNING</text>
<text x="547.5" y="90.85" font-size="2.48" transform="matrix(1 0.0005 0 1 0 -0.2737)" class="h" font-weight="700" fill="#000" textLength="12.7" lengthAdjust="spacing">PLANNING</text>
<rect x="31" y="38" width="32.1" height="2.8" fill="#5faff9" fill-opacity="0.47"/>
<text x="44.34" y="38.87" font-size="1.05" transform="matrix(1 0.0005 0 1 0 -0.0222)" fill="#3a4652" textLength="5.43" lengthAdjust="spacing" fill-opacity="0.7">Préparation</text>
<text x="46.15" y="40.4" font-size="0.95" transform="matrix(1 0.0005 0 1 0 -0.0231)" fill="#3a4652" textLength="1.9" lengthAdjust="spacing" fill-opacity="0.65">1 à 3</text>
<rect x="31" y="42.9" width="32.1" height="3.8" fill="#5faff9"/>
<text x="43.04" y="43.86" font-size="1.2" transform="matrix(1 0.0005 0 1 0 -0.0215)" class="ak" font-weight="700" fill="#0e1a26" textLength="8.03" lengthAdjust="spacing">droits marché</text>
<text x="42.23" y="44.98" font-size="1.1" transform="matrix(1 0.0005 0 1 0 -0.0211)" class="ar" fill="#0e1a26" textLength="9.63" lengthAdjust="spacing">droits marque collecti</text>
<text x="43.52" y="45.88" font-size="1.1" transform="matrix(1 0.0005 0 1 0 -0.0218)" class="ar" fill="#0e1a26" textLength="7.06" lengthAdjust="spacing">landing newslet</text>
<rect x="31" y="48" width="32.1" height="4.1" fill="#5faff9"/>
<text x="33.25" y="48.91" font-size="1.2" transform="matrix(1 0.0005 0 1 0 -0.0166)" class="ak" font-weight="700" fill="#0e1a26" textLength="27.61" lengthAdjust="spacing">marque durée clés images newsletter ambiance droi</text>
<text x="42.56" y="49.78" font-size="1.1" transform="matrix(1 0.0005 0 1 0 -0.0213)" class="ar" fill="#0e1a26" textLength="8.99" lengthAdjust="spacing">décor format produi</text>
<text x="36.62" y="51.73" font-size="1.1" transform="matrix(1 0.0005 0 1 0 -0.0183)" class="ar" fill="#0e1a26" textLength="20.87" lengthAdjust="spacing">éditorial budget clés reportage sélection livrai</text>
<rect x="31" y="53.6" width="32.1" height="4" fill="#5faff9"/>
<text x="42.56" y="54.96" font-size="1.2" transform="matrix(1 0.0005 0 1 0 -0.0213)" class="ak" font-weight="700" fill="#0e1a26" textLength="8.99" lengthAdjust="spacing">droits interne im</text>
<text x="43.84" y="55.93" font-size="1.1" transform="matrix(1 0.0005 0 1 0 -0.0219)" class="ar" fill="#0e1a26" textLength="6.42" lengthAdjust="spacing">interne social</text>
<text x="44.48" y="56.73" font-size="1.1" transform="matrix(1 0.0005 0 1 0 -0.0222)" class="ar" fill="#0e1a26" textLength="5.14" lengthAdjust="spacing">images sh</text>
<rect x="31" y="59" width="32.1" height="4.4" fill="#5faff9"/>
<text x="34.21" y="60.06" font-size="1.2" transform="matrix(1 0.0005 0 1 0 -0.0171)" class="ak" font-weight="700" fill="#0e1a26" textLength="25.68" lengthAdjust="spacing">angle visuels packshot reportage landing banni</text>
<text x="43.04" y="61.83" font-size="1.1" transform="matrix(1 0.0005 0 1 0 -0.0215)" class="ar" fill="#0e1a26" textLength="8.03" lengthAdjust="spacing">sélection studio u</text>
<text x="43.84" y="62.63" font-size="1.1" transform="matrix(1 0.0005 0 1 0 -0.0219)" class="ar" fill="#0e1a26" textLength="6.42" lengthAdjust="spacing">modèle droits</text>
<rect x="65.5" y="38" width="32" height="2.8" fill="#86dde4" fill-opacity="0.47"/>
<text x="78.99" y="38.87" font-size="1.05" transform="matrix(1 0.0005 0 1 0 -0.0395)" fill="#3a4652" textLength="5.02" lengthAdjust="spacing" fill-opacity="0.7">Production</text>
<text x="80.6" y="40.4" font-size="0.95" transform="matrix(1 0.0005 0 1 0 -0.0403)" fill="#3a4652" textLength="1.9" lengthAdjust="spacing" fill-opacity="0.65">1 à 3</text>
<rect x="65.5" y="42.9" width="32" height="3.8" fill="#86dde4"/>
<text x="73.5" y="44.36" font-size="1.2" transform="matrix(1 0.0005 0 1 0 -0.0367)" class="ak" font-weight="700" fill="#0e1a26" textLength="16" lengthAdjust="spacing">collection landing angle site</text>
<text x="75.1" y="45.13" font-size="1.1" transform="matrix(1 0.0005 0 1 0 -0.0376)" class="ar" fill="#0e1a26" textLength="12.8" lengthAdjust="spacing">clés lumière contenu shooti</text>
<text x="80.54" y="46.53" font-size="1.1" transform="matrix(1 0.0005 0 1 0 -0.0403)" class="ar" fill="#0e1a26" textLength="1.92" lengthAdjust="spacing">ext</text>
<rect x="65.5" y="48.3" width="32" height="4.1" fill="#86dde4"/>
<text x="75.9" y="49.36" font-size="1.2" transform="matrix(1 0.0005 0 1 0 -0.038)" class="ak" font-weight="700" fill="#0e1a26" textLength="11.2" lengthAdjust="spacing">produit usage intern</text>
<text x="73.5" y="50.23" font-size="1.1" transform="matrix(1 0.0005 0 1 0 -0.0367)" class="ar" fill="#0e1a26" textLength="16" lengthAdjust="spacing">carnation déclinaison marché prod</text>
<text x="79.1" y="51.03" font-size="1.1" transform="matrix(1 0.0005 0 1 0 -0.0395)" class="ar" fill="#0e1a26" textLength="4.8" lengthAdjust="spacing">retouche</text>
<rect x="65.5" y="54.4" width="32" height="3.7" fill="#86dde4"/>
<text x="77.5" y="55.76" font-size="1.2" transform="matrix(1 0.0005 0 1 0 -0.0387)" class="ak" font-weight="700" fill="#0e1a26" textLength="8" lengthAdjust="spacing">site marque lu</text>
<text x="78.3" y="56.73" font-size="1.1" transform="matrix(1 0.0005 0 1 0 -0.0391)" class="ar" fill="#0e1a26" textLength="6.4" lengthAdjust="spacing">studio visuels</text>
<text x="79.1" y="57.53" font-size="1.1" transform="matrix(1 0.0005 0 1 0 -0.0395)" class="ar" fill="#0e1a26" textLength="4.8" lengthAdjust="spacing">saison am</text>
<rect x="65.5" y="59.9" width="32" height="4" fill="#86dde4"/>
<text x="76.7" y="60.96" font-size="1.2" transform="matrix(1 0.0005 0 1 0 -0.0384)" class="ak" font-weight="700" fill="#0e1a26" textLength="9.6" lengthAdjust="spacing">livraison ambianc</text>
<text x="78.94" y="62.63" font-size="1.1" transform="matrix(1 0.0005 0 1 0 -0.0395)" class="ar" fill="#0e1a26" textLength="5.12" lengthAdjust="spacing">lumière val</text>
<text x="78.94" y="63.43" font-size="1.1" transform="matrix(1 0.0005 0 1 0 -0.0395)" class="ar" fill="#0e1a26" textLength="5.12" lengthAdjust="spacing">visuels stu</text>
<rect x="65.5" y="65.9" width="32" height="5.1" fill="#86dde4"/>
<text x="74.3" y="67.76" font-size="1.2" transform="matrix(1 0.0005 0 1 0 -0.0372)" class="ak" font-weight="700" fill="#0e1a26" textLength="14.4" lengthAdjust="spacing">agence shooting page pag</text>
<text x="67.9" y="68.83" font-size="1.1" transform="matrix(1 0.0005 0 1 0 -0.034)" class="ar" fill="#0e1a26" textLength="27.2" lengthAdjust="spacing">packshot durée validation livraison déclinaison visuels saiso</text>
<text x="79.1" y="69.73" font-size="1.1" transform="matrix(1 0.0005 0 1 0 -0.0395)" class="ar" fill="#0e1a26" textLength="4.8" lengthAdjust="spacing">clés landi</text>
<rect x="65.5" y="73" width="32" height="4" fill="#86dde4"/>
<text x="77.5" y="74.16" font-size="1.2" transform="matrix(1 0.0005 0 1 0 -0.0387)" class="ak" font-weight="700" fill="#0e1a26" textLength="8" lengthAdjust="spacing">agence carnati</text>
<text x="77.98" y="75.13" font-size="1.1" transform="matrix(1 0.0005 0 1 0 -0.039)" class="ar" fill="#0e1a26" textLength="7.04" lengthAdjust="spacing">casting produit</text>
<text x="78.94" y="76.03" font-size="1.1" transform="matrix(1 0.0005 0 1 0 -0.0395)" class="ar" fill="#0e1a26" textLength="5.12" lengthAdjust="spacing">décor casti</text>
<rect x="100" y="38" width="34.2" height="2.8" fill="#fdee50" fill-opacity="0.47"/>
<text x="113.42" y="38.87" font-size="1.05" transform="matrix(1 0.0005 0 1 0 -0.0567)" fill="#3a4652" textLength="7.35" lengthAdjust="spacing" fill-opacity="0.7">Post-production</text>
<text x="116.2" y="40.4" font-size="0.95" transform="matrix(1 0.0005 0 1 0 -0.0581)" fill="#3a4652" textLength="1.9" lengthAdjust="spacing" fill-opacity="0.65">1 à 3</text>
<rect x="100.8" y="42.9" width="34" height="5.1" fill="#fdee50"/>
<text x="111" y="44.76" font-size="1.2" transform="matrix(1 0.0005 0 1 0 -0.0555)" class="ak" font-weight="700" fill="#0e1a26" textLength="13.6" lengthAdjust="spacing">shooting déclinaison life</text>
<text x="108.45" y="45.83" font-size="1.1" transform="matrix(1 0.0005 0 1 0 -0.0542)" class="ar" fill="#0e1a26" textLength="18.7" lengthAdjust="spacing">vidéo bannière ambiance shooting packs</text>
<text x="115.25" y="47.23" font-size="1.1" transform="matrix(1 0.0005 0 1 0 -0.0576)" class="ar" fill="#0e1a26" textLength="5.1" lengthAdjust="spacing">usage cont</text>
<rect x="100.8" y="49.8" width="34" height="4.1" fill="#fdee50"/>
<text x="109.81" y="50.71" font-size="1.2" transform="matrix(1 0.0005 0 1 0 -0.0549)" class="ak" font-weight="700" fill="#0e1a26" textLength="15.98" lengthAdjust="spacing">newsletter agence marché lan</text>
<text x="115.76" y="51.93" font-size="1.1" transform="matrix(1 0.0005 0 1 0 -0.0579)" class="ar" fill="#0e1a26" textLength="4.08" lengthAdjust="spacing">droits m</text>
<text x="114.4" y="53.63" font-size="1.1" transform="matrix(1 0.0005 0 1 0 -0.0572)" class="ar" fill="#0e1a26" textLength="6.8" lengthAdjust="spacing">landing vidéo</text>
<rect x="100.8" y="55.6" width="34" height="5.3" fill="#fdee50"/>
<text x="103.01" y="56.96" font-size="1.2" transform="matrix(1 0.0005 0 1 0 -0.0515)" class="ak" font-weight="700" fill="#0e1a26" textLength="29.58" lengthAdjust="spacing">interne validation lifestyle livraison déclinaison page</text>
<text x="113.55" y="57.93" font-size="1.1" transform="matrix(1 0.0005 0 1 0 -0.0568)" class="ar" fill="#0e1a26" textLength="8.5" lengthAdjust="spacing">shooting carnation</text>
<text x="114.4" y="58.93" font-size="1.1" transform="matrix(1 0.0005 0 1 0 -0.0572)" class="ar" fill="#0e1a26" textLength="6.8" lengthAdjust="spacing">collection déco</text>
<rect x="136.2" y="38" width="32" height="2.8" fill="#ee70c4" fill-opacity="0.47"/>
<text x="150.17" y="38.87" font-size="1.05" transform="matrix(1 0.0005 0 1 0 -0.0751)" fill="#3a4652" textLength="4.07" lengthAdjust="spacing" fill-opacity="0.7">Diffusion</text>
<text x="151.3" y="40.4" font-size="0.95" transform="matrix(1 0.0005 0 1 0 -0.0756)" fill="#3a4652" textLength="1.9" lengthAdjust="spacing" fill-opacity="0.65">1 à 3</text>
<rect x="136.6" y="42.9" width="32.2" height="5.1" fill="#ee70c4"/>
<text x="148.84" y="44.86" font-size="1.2" transform="matrix(1 0.0005 0 1 0 -0.0744)" class="ak" font-weight="700" fill="#0e1a26" textLength="7.73" lengthAdjust="spacing">studio page n</text>
<text x="148.19" y="45.83" font-size="1.1" transform="matrix(1 0.0005 0 1 0 -0.0741)" class="ar" fill="#0e1a26" textLength="9.02" lengthAdjust="spacing">livraison sélection i</text>
<text x="149.48" y="46.83" font-size="1.1" transform="matrix(1 0.0005 0 1 0 -0.0747)" class="ar" fill="#0e1a26" textLength="6.44" lengthAdjust="spacing">saison ambia</text>
<rect x="136.6" y="50.1" width="32.2" height="4.8" fill="#ee70c4"/>
<text x="141.43" y="50.76" font-size="1.2" transform="matrix(1 0.0005 0 1 0 -0.0707)" class="ak" font-weight="700" fill="#0e1a26" textLength="22.54" lengthAdjust="spacing">reportage format page droits retouche sho</text>
<text x="147.87" y="51.73" font-size="1.1" transform="matrix(1 0.0005 0 1 0 -0.0739)" class="ar" fill="#0e1a26" textLength="9.66" lengthAdjust="spacing">images casting lumiè</text>
<text x="147.87" y="53.73" font-size="1.1" transform="matrix(1 0.0005 0 1 0 -0.0739)" class="ar" fill="#0e1a26" textLength="9.66" lengthAdjust="spacing">validation visuels vis</text>
<text x="144.65" y="54.63" font-size="1.1" transform="matrix(1 0.0005 0 1 0 -0.0723)" class="ar" fill="#0e1a26" textLength="16.1" lengthAdjust="spacing">produit page collection clés bannièr</text>
<rect x="136.6" y="56.9" width="32.2" height="5.5" fill="#ee70c4"/>
<text x="136.6" y="57.76" font-size="1.2" transform="matrix(1 0.0005 0 1 0 -0.0683)" class="ak" font-weight="700" fill="#0e1a26" textLength="32.2" lengthAdjust="spacing">shooting sélection planning planning images usage vidéo</text>
<text x="144.97" y="59.96" font-size="1.2" transform="matrix(1 0.0005 0 1 0 -0.0725)" class="ak" font-weight="700" fill="#0e1a26" textLength="15.46" lengthAdjust="spacing">collection durée saison vidé</text>
<text x="147.87" y="60.93" font-size="1.1" transform="matrix(1 0.0005 0 1 0 -0.0739)" class="ar" fill="#0e1a26" textLength="9.66" lengthAdjust="spacing">validation newsletter</text>
<text x="147.87" y="61.73" font-size="1.1" transform="matrix(1 0.0005 0 1 0 -0.0739)" class="ar" fill="#0e1a26" textLength="9.66" lengthAdjust="spacing">clés format décor sit</text>
<rect x="136.6" y="64.8" width="32.2" height="3.9" fill="#ee70c4"/>
<text x="148.19" y="65.86" font-size="1.2" transform="matrix(1 0.0005 0 1 0 -0.0741)" class="ak" font-weight="700" fill="#0e1a26" textLength="9.02" lengthAdjust="spacing">images bannière</text>
<text x="143.36" y="66.83" font-size="1.1" transform="matrix(1 0.0005 0 1 0 -0.0717)" class="ar" fill="#0e1a26" textLength="18.68" lengthAdjust="spacing">landing social clés marché landing agenc</text>
<text x="148.84" y="67.83" font-size="1.1" transform="matrix(1 0.0005 0 1 0 -0.0744)" class="ar" fill="#0e1a26" textLength="7.73" lengthAdjust="spacing">validation durée</text>
<rect x="170.9" y="38" width="25.15" height="2.8" fill="#e2a6ee" fill-opacity="0.47"/>
<text x="181.67" y="38.87" font-size="1.05" transform="matrix(1 0.0005 0 1 0 -0.0908)" fill="#3a4652" textLength="3.62" lengthAdjust="spacing" fill-opacity="0.7">Options</text>
<text x="182.58" y="40.4" font-size="0.95" transform="matrix(1 0.0005 0 1 0 -0.0913)" fill="#3a4652" textLength="1.9" lengthAdjust="spacing" fill-opacity="0.65">1 à 3</text>
<rect x="170.9" y="42.9" width="25.15" height="6.9" fill="#e2a6ee"/>
<text x="177.19" y="44.86" font-size="1.2" transform="matrix(1 0.0005 0 1 0 -0.0886)" class="ak" font-weight="700" fill="#0e1a26" textLength="12.58" lengthAdjust="spacing">sélection produit déclin</text>
<text x="170.9" y="45.83" font-size="1.1" transform="matrix(1 0.0005 0 1 0 -0.0855)" class="ar" fill="#0e1a26" textLength="25.15" lengthAdjust="spacing">packshot ambiance ambiance reportage marque retouc</text>
<text x="179.95" y="46.83" font-size="1.1" transform="matrix(1 0.0005 0 1 0 -0.09)" class="ar" fill="#0e1a26" textLength="7.04" lengthAdjust="spacing">bannière livrais</text>
<text x="179.95" y="48.83" font-size="1.1" transform="matrix(1 0.0005 0 1 0 -0.09)" class="ar" fill="#0e1a26" textLength="7.04" lengthAdjust="spacing">retouche déclin</text>
<rect x="247.2" y="39" width="31.9" height="2.8" fill="#5faff9" fill-opacity="0.47"/>
<text x="260.44" y="39.87" font-size="1.05" transform="matrix(1 0.0005 0 1 0 -0.1302)" fill="#3a4652" textLength="5.43" lengthAdjust="spacing" fill-opacity="0.7">Préparation</text>
<text x="262.25" y="41.4" font-size="0.95" transform="matrix(1 0.0005 0 1 0 -0.1311)" fill="#3a4652" textLength="1.9" lengthAdjust="spacing" fill-opacity="0.65">1 à 3</text>
<rect x="247.2" y="43.4" width="31.9" height="3.6" fill="#5faff9"/>
<text x="259.16" y="44.66" font-size="1.2" transform="matrix(1 0.0005 0 1 0 -0.1296)" class="ak" font-weight="700" fill="#0e1a26" textLength="7.98" lengthAdjust="spacing">sélection cont</text>
<text x="258.36" y="45.63" font-size="1.1" transform="matrix(1 0.0005 0 1 0 -0.1292)" class="ar" fill="#0e1a26" textLength="9.57" lengthAdjust="spacing">lumière angle newsle</text>
<text x="259.96" y="46.53" font-size="1.1" transform="matrix(1 0.0005 0 1 0 -0.13)" class="ar" fill="#0e1a26" textLength="6.38" lengthAdjust="spacing">visuels vidéo</text>
<rect x="247.2" y="49" width="31.9" height="3.9" fill="#5faff9"/>
<text x="249.43" y="50.06" font-size="1.2" transform="matrix(1 0.0005 0 1 0 -0.1247)" class="ak" font-weight="700" fill="#0e1a26" textLength="27.43" lengthAdjust="spacing">durée marché interne images images visuels carnat</text>
<text x="258.36" y="51.03" font-size="1.1" transform="matrix(1 0.0005 0 1 0 -0.1292)" class="ar" fill="#0e1a26" textLength="9.57" lengthAdjust="spacing">page page studio vis</text>
<text x="253.26" y="52.53" font-size="1.1" transform="matrix(1 0.0005 0 1 0 -0.1266)" class="ar" fill="#0e1a26" textLength="19.78" lengthAdjust="spacing">carnation déclinaison droits bannière packs</text>
<rect x="247.2" y="54.4" width="31.9" height="3.5" fill="#5faff9"/>
<text x="258.36" y="55.36" font-size="1.2" transform="matrix(1 0.0005 0 1 0 -0.1292)" class="ak" font-weight="700" fill="#0e1a26" textLength="9.57" lengthAdjust="spacing">reportage newslet</text>
<text x="259.64" y="56.43" font-size="1.1" transform="matrix(1 0.0005 0 1 0 -0.1298)" class="ar" fill="#0e1a26" textLength="7.02" lengthAdjust="spacing">lumière plannin</text>
<text x="260.6" y="57.33" font-size="1.1" transform="matrix(1 0.0005 0 1 0 -0.1303)" class="ar" fill="#0e1a26" textLength="5.1" lengthAdjust="spacing">angle sais</text>
<rect x="247.2" y="59.9" width="31.9" height="4" fill="#5faff9"/>
<text x="257.09" y="60.86" font-size="1.2" transform="matrix(1 0.0005 0 1 0 -0.1285)" class="ak" font-weight="700" fill="#0e1a26" textLength="12.12" lengthAdjust="spacing">vidéo produit planning</text>
<text x="259.64" y="61.83" font-size="1.1" transform="matrix(1 0.0005 0 1 0 -0.1298)" class="ar" fill="#0e1a26" textLength="7.02" lengthAdjust="spacing">vidéo droits ca</text>
<text x="259.96" y="63.53" font-size="1.1" transform="matrix(1 0.0005 0 1 0 -0.13)" class="ar" fill="#0e1a26" textLength="6.38" lengthAdjust="spacing">externe budg</text>
<rect x="281.8" y="39" width="31.7" height="2.8" fill="#86dde4" fill-opacity="0.47"/>
<text x="295.14" y="39.87" font-size="1.05" transform="matrix(1 0.0005 0 1 0 -0.1476)" fill="#3a4652" textLength="5.02" lengthAdjust="spacing" fill-opacity="0.7">Production</text>
<text x="296.75" y="41.4" font-size="0.95" transform="matrix(1 0.0005 0 1 0 -0.1484)" fill="#3a4652" textLength="1.9" lengthAdjust="spacing" fill-opacity="0.65">1 à 3</text>
<rect x="281.8" y="43.1" width="31.7" height="3.7" fill="#86dde4"/>
<text x="289.72" y="44.56" font-size="1.2" transform="matrix(1 0.0005 0 1 0 -0.1449)" class="ak" font-weight="700" fill="#0e1a26" textLength="15.85" lengthAdjust="spacing">angle collection vidéo collecti</text>
<text x="292.1" y="45.33" font-size="1.1" transform="matrix(1 0.0005 0 1 0 -0.1461)" class="ar" fill="#0e1a26" textLength="11.09" lengthAdjust="spacing">reportage studio durée</text>
<text x="296.7" y="46.73" font-size="1.1" transform="matrix(1 0.0005 0 1 0 -0.1483)" class="ar" fill="#0e1a26" textLength="1.9" lengthAdjust="spacing">bud</text>
<rect x="281.8" y="48.8" width="31.7" height="3.3" fill="#86dde4"/>
<text x="292.89" y="49.86" font-size="1.2" transform="matrix(1 0.0005 0 1 0 -0.1464)" class="ak" font-weight="700" fill="#0e1a26" textLength="9.51" lengthAdjust="spacing">décor reportage s</text>
<text x="292.89" y="50.83" font-size="1.1" transform="matrix(1 0.0005 0 1 0 -0.1464)" class="ar" fill="#0e1a26" textLength="9.51" lengthAdjust="spacing">sélection clés visuel</text>
<text x="294.48" y="51.73" font-size="1.1" transform="matrix(1 0.0005 0 1 0 -0.1472)" class="ar" fill="#0e1a26" textLength="6.34" lengthAdjust="spacing">durée visuels</text>
<rect x="281.8" y="54.1" width="31.7" height="4" fill="#86dde4"/>
<text x="289.72" y="54.76" font-size="1.2" transform="matrix(1 0.0005 0 1 0 -0.1449)" class="ak" font-weight="700" fill="#0e1a26" textLength="15.85" lengthAdjust="spacing">décor modèle vidéo visuels vi</text>
<text x="283.38" y="56.53" font-size="1.1" transform="matrix(1 0.0005 0 1 0 -0.1417)" class="ar" fill="#0e1a26" textLength="28.53" lengthAdjust="spacing">droits éditorial planning reportage vidéo casting brief produit</text>
<text x="292.89" y="57.43" font-size="1.1" transform="matrix(1 0.0005 0 1 0 -0.1464)" class="ar" fill="#0e1a26" textLength="9.51" lengthAdjust="spacing">agence durée visuel</text>
<rect x="316" y="39" width="34.2" height="2.8" fill="#fdee50" fill-opacity="0.47"/>
<text x="329.42" y="39.87" font-size="1.05" transform="matrix(1 0.0005 0 1 0 -0.1647)" fill="#3a4652" textLength="7.35" lengthAdjust="spacing" fill-opacity="0.7">Post-production</text>
<text x="332.2" y="41.4" font-size="0.95" transform="matrix(1 0.0005 0 1 0 -0.1661)" fill="#3a4652" textLength="1.9" lengthAdjust="spacing" fill-opacity="0.65">1 à 3</text>
<rect x="316.8" y="43.8" width="34.2" height="5.3" fill="#fdee50"/>
<text x="327.06" y="45.56" font-size="1.2" transform="matrix(1 0.0005 0 1 0 -0.1635)" class="ak" font-weight="700" fill="#0e1a26" textLength="13.68" lengthAdjust="spacing">déclinaison studio conte</text>
<text x="324.5" y="46.63" font-size="1.1" transform="matrix(1 0.0005 0 1 0 -0.1622)" class="ar" fill="#0e1a26" textLength="18.81" lengthAdjust="spacing">saison shooting images externe validatio</text>
<text x="328.77" y="47.83" font-size="1.1" transform="matrix(1 0.0005 0 1 0 -0.1644)" class="ar" fill="#0e1a26" textLength="10.26" lengthAdjust="spacing">validation collection sh</text>
<rect x="316.8" y="50.4" width="34.2" height="3.7" fill="#fdee50"/>
<text x="326.2" y="51.46" font-size="1.2" transform="matrix(1 0.0005 0 1 0 -0.1631)" class="ak" font-weight="700" fill="#0e1a26" textLength="15.39" lengthAdjust="spacing">sélection visuels produit pro</text>
<text x="329.62" y="53.03" font-size="1.1" transform="matrix(1 0.0005 0 1 0 -0.1648)" class="ar" fill="#0e1a26" textLength="8.55" lengthAdjust="spacing">clés lifestyle retou</text>
<text x="330.48" y="53.93" font-size="1.1" transform="matrix(1 0.0005 0 1 0 -0.1652)" class="ar" fill="#0e1a26" textLength="6.84" lengthAdjust="spacing">déclinaison ca</text>
<rect x="316.8" y="56.1" width="34.2" height="5.3" fill="#fdee50"/>
<text x="319.02" y="57.06" font-size="1.2" transform="matrix(1 0.0005 0 1 0 -0.1595)" class="ak" font-weight="700" fill="#0e1a26" textLength="29.75" lengthAdjust="spacing">validation budget collection usage droits usage éditoria</text>
<text x="329.62" y="59.03" font-size="1.1" transform="matrix(1 0.0005 0 1 0 -0.1648)" class="ar" fill="#0e1a26" textLength="8.55" lengthAdjust="spacing">produit angle marq</text>
<text x="330.48" y="60.03" font-size="1.1" transform="matrix(1 0.0005 0 1 0 -0.1652)" class="ar" fill="#0e1a26" textLength="6.84" lengthAdjust="spacing">studio décor s</text>
<rect x="352.5" y="39" width="31.6" height="2.8" fill="#ee70c4" fill-opacity="0.47"/>
<text x="366.27" y="39.87" font-size="1.05" transform="matrix(1 0.0005 0 1 0 -0.1831)" fill="#3a4652" textLength="4.07" lengthAdjust="spacing" fill-opacity="0.7">Diffusion</text>
<text x="367.4" y="41.4" font-size="0.95" transform="matrix(1 0.0005 0 1 0 -0.1837)" fill="#3a4652" textLength="1.9" lengthAdjust="spacing" fill-opacity="0.65">1 à 3</text>
<rect x="352.7" y="43.8" width="31.6" height="5" fill="#ee70c4"/>
<text x="364.08" y="45.46" font-size="1.2" transform="matrix(1 0.0005 0 1 0 -0.182)" class="ak" font-weight="700" fill="#0e1a26" textLength="8.85" lengthAdjust="spacing">produit durée st</text>
<text x="363.76" y="46.43" font-size="1.1" transform="matrix(1 0.0005 0 1 0 -0.1819)" class="ar" fill="#0e1a26" textLength="9.48" lengthAdjust="spacing">site budget lifestyle c</text>
<text x="365.34" y="47.43" font-size="1.1" transform="matrix(1 0.0005 0 1 0 -0.1827)" class="ar" fill="#0e1a26" textLength="6.32" lengthAdjust="spacing">images exter</text>
<rect x="352.7" y="50.1" width="31.6" height="4.8" fill="#ee70c4"/>
<text x="361.86" y="51.76" font-size="1.2" transform="matrix(1 0.0005 0 1 0 -0.1809)" class="ak" font-weight="700" fill="#0e1a26" textLength="13.27" lengthAdjust="spacing">contenu retouche shooti</text>
<text x="364.08" y="53.13" font-size="1.1" transform="matrix(1 0.0005 0 1 0 -0.182)" class="ar" fill="#0e1a26" textLength="8.85" lengthAdjust="spacing">planning décor for</text>
<text x="365.34" y="54.03" font-size="1.1" transform="matrix(1 0.0005 0 1 0 -0.1827)" class="ar" fill="#0e1a26" textLength="6.32" lengthAdjust="spacing">agence imag</text>
<rect x="352.7" y="56.6" width="31.6" height="3.8" fill="#ee70c4"/>
<text x="365.34" y="57.86" font-size="1.2" transform="matrix(1 0.0005 0 1 0 -0.1827)" class="ak" font-weight="700" fill="#0e1a26" textLength="6.32" lengthAdjust="spacing">landing ang</text>
<text x="359.34" y="58.83" font-size="1.1" transform="matrix(1 0.0005 0 1 0 -0.1797)" class="ar" fill="#0e1a26" textLength="18.33" lengthAdjust="spacing">social casting externe droits contenu ba</text>
<text x="364.08" y="59.83" font-size="1.1" transform="matrix(1 0.0005 0 1 0 -0.182)" class="ar" fill="#0e1a26" textLength="8.85" lengthAdjust="spacing">modèle livraison ex</text>
<rect x="386.9" y="39" width="25.15" height="2.8" fill="#e2a6ee" fill-opacity="0.47"/>
<text x="397.67" y="39.87" font-size="1.05" transform="matrix(1 0.0005 0 1 0 -0.1988)" fill="#3a4652" textLength="3.62" lengthAdjust="spacing" fill-opacity="0.7">Options</text>
<text x="398.58" y="41.4" font-size="0.95" transform="matrix(1 0.0005 0 1 0 -0.1993)" fill="#3a4652" textLength="1.9" lengthAdjust="spacing" fill-opacity="0.65">1 à 3</text>
<rect x="386.9" y="43.8" width="25.15" height="7.05" fill="#e2a6ee"/>
<text x="393.19" y="45.76" font-size="1.2" transform="matrix(1 0.0005 0 1 0 -0.1966)" class="ak" font-weight="700" fill="#0e1a26" textLength="12.58" lengthAdjust="spacing">retouche landing clés e</text>
<text x="395.7" y="47.33" font-size="1.1" transform="matrix(1 0.0005 0 1 0 -0.1979)" class="ar" fill="#0e1a26" textLength="7.55" lengthAdjust="spacing">landing page val</text>
<text x="396.96" y="48.23" font-size="1.1" transform="matrix(1 0.0005 0 1 0 -0.1985)" class="ar" fill="#0e1a26" textLength="5.03" lengthAdjust="spacing">site collecti</text>
<rect x="462.8" y="39" width="31.9" height="2.8" fill="#5faff9" fill-opacity="0.47"/>
<text x="476.04" y="39.87" font-size="1.05" transform="matrix(1 0.0005 0 1 0 -0.238)" fill="#3a4652" textLength="5.43" lengthAdjust="spacing" fill-opacity="0.7">Préparation</text>
<text x="477.85" y="41.4" font-size="0.95" transform="matrix(1 0.0005 0 1 0 -0.2389)" fill="#3a4652" textLength="1.9" lengthAdjust="spacing" fill-opacity="0.65">1 à 3</text>
<rect x="462.8" y="43.6" width="31.9" height="3.5" fill="#5faff9"/>
<text x="474.76" y="44.86" font-size="1.2" transform="matrix(1 0.0005 0 1 0 -0.2374)" class="ak" font-weight="700" fill="#0e1a26" textLength="7.97" lengthAdjust="spacing">modèle page v</text>
<text x="473.97" y="45.83" font-size="1.1" transform="matrix(1 0.0005 0 1 0 -0.237)" class="ar" fill="#0e1a26" textLength="9.57" lengthAdjust="spacing">vidéo contenu brief r</text>
<text x="475.56" y="46.73" font-size="1.1" transform="matrix(1 0.0005 0 1 0 -0.2378)" class="ar" fill="#0e1a26" textLength="6.38" lengthAdjust="spacing">visuels carnat</text>
<rect x="462.8" y="49.1" width="31.9" height="3.8" fill="#5faff9"/>
<text x="465.03" y="50.16" font-size="1.2" transform="matrix(1 0.0005 0 1 0 -0.2325)" class="ak" font-weight="700" fill="#0e1a26" textLength="27.43" lengthAdjust="spacing">social lifestyle droits durée carnation page déclinai</text>
<text x="473.97" y="51.13" font-size="1.1" transform="matrix(1 0.0005 0 1 0 -0.237)" class="ar" fill="#0e1a26" textLength="9.57" lengthAdjust="spacing">validation clés angle</text>
<text x="468.86" y="52.63" font-size="1.1" transform="matrix(1 0.0005 0 1 0 -0.2344)" class="ar" fill="#0e1a26" textLength="19.78" lengthAdjust="spacing">contenu agence modèle images droits mod</text>
<rect x="462.8" y="54.4" width="31.9" height="3.7" fill="#5faff9"/>
<text x="473.97" y="55.36" font-size="1.2" transform="matrix(1 0.0005 0 1 0 -0.237)" class="ak" font-weight="700" fill="#0e1a26" textLength="9.57" lengthAdjust="spacing">visuels reportage</text>
<text x="475.24" y="56.43" font-size="1.1" transform="matrix(1 0.0005 0 1 0 -0.2376)" class="ar" fill="#0e1a26" textLength="7.02" lengthAdjust="spacing">carnation sélec</text>
<text x="476.2" y="57.33" font-size="1.1" transform="matrix(1 0.0005 0 1 0 -0.2381)" class="ar" fill="#0e1a26" textLength="5.1" lengthAdjust="spacing">reportage</text>
<rect x="462.8" y="59.9" width="31.9" height="4" fill="#5faff9"/>
<text x="472.37" y="60.86" font-size="1.2" transform="matrix(1 0.0005 0 1 0 -0.2362)" class="ak" font-weight="700" fill="#0e1a26" textLength="12.76" lengthAdjust="spacing">carnation saison brief d</text>
<text x="474.76" y="61.83" font-size="1.1" transform="matrix(1 0.0005 0 1 0 -0.2374)" class="ar" fill="#0e1a26" textLength="7.97" lengthAdjust="spacing">interne saison st</text>
<text x="475.56" y="63.53" font-size="1.1" transform="matrix(1 0.0005 0 1 0 -0.2378)" class="ar" fill="#0e1a26" textLength="6.38" lengthAdjust="spacing">interne vidéo l</text>
<rect x="497" y="39" width="32" height="2.8" fill="#86dde4" fill-opacity="0.47"/>
<text x="510.49" y="39.87" font-size="1.05" transform="matrix(1 0.0005 0 1 0 -0.2552)" fill="#3a4652" textLength="5.02" lengthAdjust="spacing" fill-opacity="0.7">Production</text>
<text x="512.1" y="41.4" font-size="0.95" transform="matrix(1 0.0005 0 1 0 -0.256)" fill="#3a4652" textLength="1.9" lengthAdjust="spacing" fill-opacity="0.65">1 à 3</text>
<rect x="497" y="43.1" width="32" height="3.7" fill="#86dde4"/>
<text x="504.2" y="44.56" font-size="1.2" transform="matrix(1 0.0005 0 1 0 -0.2521)" class="ak" font-weight="700" fill="#0e1a26" textLength="17.6" lengthAdjust="spacing">usage landing studio carnation</text>
<text x="507.4" y="45.33" font-size="1.1" transform="matrix(1 0.0005 0 1 0 -0.2537)" class="ar" fill="#0e1a26" textLength="11.2" lengthAdjust="spacing">bannière format packsh</text>
<text x="512.04" y="46.73" font-size="1.1" transform="matrix(1 0.0005 0 1 0 -0.256)" class="ar" fill="#0e1a26" textLength="1.92" lengthAdjust="spacing">clés</text>
<rect x="497" y="49.1" width="32" height="4" fill="#86dde4"/>
<text x="505.8" y="49.86" font-size="1.2" transform="matrix(1 0.0005 0 1 0 -0.2529)" class="ak" font-weight="700" fill="#0e1a26" textLength="14.4" lengthAdjust="spacing">lifestyle droits ambiance cl</text>
<text x="498.6" y="51.13" font-size="1.1" transform="matrix(1 0.0005 0 1 0 -0.2493)" class="ar" fill="#0e1a26" textLength="28.8" lengthAdjust="spacing">éditorial interne clés planning visuels agence landing landing</text>
<text x="509" y="52.13" font-size="1.1" transform="matrix(1 0.0005 0 1 0 -0.2545)" class="ar" fill="#0e1a26" textLength="8" lengthAdjust="spacing">durée retouche n</text>
<rect x="531" y="39" width="34.2" height="2.8" fill="#fdee50" fill-opacity="0.47"/>
<text x="544.42" y="39.87" font-size="1.05" transform="matrix(1 0.0005 0 1 0 -0.2722)" fill="#3a4652" textLength="7.35" lengthAdjust="spacing" fill-opacity="0.7">Post-production</text>
<text x="547.2" y="41.4" font-size="0.95" transform="matrix(1 0.0005 0 1 0 -0.2736)" fill="#3a4652" textLength="1.9" lengthAdjust="spacing" fill-opacity="0.65">1 à 3</text>
<rect x="531" y="43.1" width="34.2" height="4" fill="#fdee50"/>
<text x="540.4" y="44.06" font-size="1.2" transform="matrix(1 0.0005 0 1 0 -0.2702)" class="ak" font-weight="700" fill="#0e1a26" textLength="15.39" lengthAdjust="spacing">shooting durée éditorial repo</text>
<text x="544.68" y="45.23" font-size="1.1" transform="matrix(1 0.0005 0 1 0 -0.2723)" class="ar" fill="#0e1a26" textLength="6.84" lengthAdjust="spacing">newsletter site</text>
<text x="546.05" y="46.63" font-size="1.1" transform="matrix(1 0.0005 0 1 0 -0.273)" class="ar" fill="#0e1a26" textLength="4.1" lengthAdjust="spacing">carnatio</text>
<rect x="531" y="48.8" width="34.2" height="5.3" fill="#fdee50"/>
<text x="533.57" y="49.96" font-size="1.2" transform="matrix(1 0.0005 0 1 0 -0.2668)" class="ak" font-weight="700" fill="#0e1a26" textLength="29.07" lengthAdjust="spacing">brief éditorial budget angle marque images social livra</text>
<text x="544.68" y="50.93" font-size="1.1" transform="matrix(1 0.0005 0 1 0 -0.2723)" class="ar" fill="#0e1a26" textLength="6.84" lengthAdjust="spacing">budget site pro</text>
<text x="545.53" y="51.93" font-size="1.1" transform="matrix(1 0.0005 0 1 0 -0.2728)" class="ar" fill="#0e1a26" textLength="5.13" lengthAdjust="spacing">déclinaison</text>
<rect x="568" y="39" width="31.9" height="2.8" fill="#ee70c4" fill-opacity="0.47"/>
<text x="581.92" y="39.87" font-size="1.05" transform="matrix(1 0.0005 0 1 0 -0.291)" fill="#3a4652" textLength="4.07" lengthAdjust="spacing" fill-opacity="0.7">Diffusion</text>
<text x="583.05" y="41.4" font-size="0.95" transform="matrix(1 0.0005 0 1 0 -0.2915)" fill="#3a4652" textLength="1.9" lengthAdjust="spacing" fill-opacity="0.65">1 à 3</text>
<rect x="568" y="43.1" width="31.9" height="5" fill="#ee70c4"/>
<text x="577.57" y="44.96" font-size="1.2" transform="matrix(1 0.0005 0 1 0 -0.2888)" class="ak" font-weight="700" fill="#0e1a26" textLength="12.76" lengthAdjust="spacing">validation vidéo droits</text>
<text x="579.17" y="46.03" font-size="1.1" transform="matrix(1 0.0005 0 1 0 -0.2896)" class="ar" fill="#0e1a26" textLength="9.57" lengthAdjust="spacing">landing clés shooting</text>
<text x="579.96" y="46.93" font-size="1.1" transform="matrix(1 0.0005 0 1 0 -0.29)" class="ar" fill="#0e1a26" textLength="7.97" lengthAdjust="spacing">validation march</text>
<rect x="601.9" y="39" width="25.1" height="2.8" fill="#e2a6ee" fill-opacity="0.47"/>
<text x="612.64" y="39.87" font-size="1.05" transform="matrix(1 0.0005 0 1 0 -0.3063)" fill="#3a4652" textLength="3.62" lengthAdjust="spacing" fill-opacity="0.7">Options</text>
<text x="613.55" y="41.4" font-size="0.95" transform="matrix(1 0.0005 0 1 0 -0.3068)" fill="#3a4652" textLength="1.9" lengthAdjust="spacing" fill-opacity="0.65">1 à 3</text>
<rect x="601.9" y="43.1" width="25.1" height="5" fill="#e2a6ee"/>
<text x="605.04" y="45.06" font-size="1.2" transform="matrix(1 0.0005 0 1 0 -0.3025)" class="ak" font-weight="700" fill="#0e1a26" textLength="18.83" lengthAdjust="spacing">saison interne marque casting usa</text>
<text x="610.69" y="46.33" font-size="1.1" transform="matrix(1 0.0005 0 1 0 -0.3053)" class="ar" fill="#0e1a26" textLength="7.53" lengthAdjust="spacing">modèle interne</text>
<text x="611.94" y="47.23" font-size="1.1" transform="matrix(1 0.0005 0 1 0 -0.306)" class="ar" fill="#0e1a26" textLength="5.02" lengthAdjust="spacing">ambiance i</text>
<rect x="31.1" y="96.8" width="13.1" height="2.8" fill="#5faff9"/>
<text x="31.49" y="98.75" font-size="2" transform="matrix(1 0.0005 0 1 0 -0.0157)" class="k" font-weight="700" fill="#10305c" textLength="12.31" lengthAdjust="spacing" fill-opacity="0.85">lifestyle page</text>
<rect x="30" y="102.1" width="15" height="2.7" fill="#5faff9"/>
<text x="31.8" y="103.81" font-size="1.2" transform="matrix(1 0.0005 0 1 0 -0.0159)" class="k" font-weight="700" fill="#0e1a26" textLength="11.4" lengthAdjust="spacing">bannière validation p</text>
<rect x="30" y="106.1" width="18.7" height="3" fill="#5faff9"/>
<text x="35.14" y="107.96" font-size="1.2" transform="matrix(1 0.0005 0 1 0 -0.0176)" class="k" font-weight="700" fill="#0e1a26" textLength="8.42" lengthAdjust="spacing">décor éditorial</text>
<rect x="27.5" y="110.9" width="14.8" height="2.7" fill="#5faff9"/>
<text x="31.2" y="112.61" font-size="1.2" transform="matrix(1 0.0005 0 1 0 -0.0156)" class="k" font-weight="700" fill="#0e1a26" textLength="7.4" lengthAdjust="spacing">retouche stud</text>
<rect x="50.2" y="106.4" width="20.6" height="2.7" fill="#86dde4"/>
<text x="55.87" y="108.11" font-size="1.2" transform="matrix(1 0.0005 0 1 0 -0.0279)" class="ar" fill="#0e1a26" textLength="9.27" lengthAdjust="spacing">brief marque prod</text>
<rect x="14.05" y="115.1" width="12.95" height="3.1" fill="#86dde4"/>
<text x="14.7" y="117.01" font-size="1.2" transform="matrix(1 0.0005 0 1 0 -0.0073)" class="ar" fill="#0e1a26" textLength="11.65" lengthAdjust="spacing">reportage droits casting</text>
<rect x="35.2" y="114.4" width="19.7" height="2.8" fill="#86dde4"/>
<text x="39.63" y="116.16" font-size="1.2" transform="matrix(1 0.0005 0 1 0 -0.0198)" class="ar" fill="#0e1a26" textLength="10.83" lengthAdjust="spacing">marché déclinaison c</text>
<rect x="37.9" y="118.7" width="28.2" height="3" fill="#86dde4"/>
<text x="44.95" y="120.01" font-size="1.2" transform="matrix(1 0.0005 0 1 0 -0.0225)" class="ar" fill="#0e1a26" textLength="14.1" lengthAdjust="spacing">contenu studio page visuels</text>
<text x="46.36" y="121.14" font-size="1.15" transform="matrix(1 0.0005 0 1 0 -0.0232)" class="ar" fill="#0e1a26" textLength="11.28" lengthAdjust="spacing">export reportage newsl</text>
<rect x="72.1" y="102.3" width="19.9" height="2.5" fill="#86dde4"/>
<text x="77.57" y="103.91" font-size="1.2" transform="matrix(1 0.0005 0 1 0 -0.0388)" class="ar" fill="#0e1a26" textLength="8.96" lengthAdjust="spacing">éditorial casting a</text>
<rect x="73.1" y="109.6" width="18.9" height="2.5" fill="#86dde4"/>
<text x="77.82" y="111.21" font-size="1.2" transform="matrix(1 0.0005 0 1 0 -0.0389)" class="ar" fill="#0e1a26" textLength="9.45" lengthAdjust="spacing">vidéo durée format</text>
<rect x="87.1" y="105.6" width="17.6" height="2.5" fill="#fdee50"/>
<text x="91.5" y="107.21" font-size="1.2" transform="matrix(1 0.0005 0 1 0 -0.0457)" class="ar" fill="#0e1a26" textLength="8.8" lengthAdjust="spacing">angle angle agen</text>
<rect x="104.4" y="109.6" width="22.6" height="2.5" fill="#fdee50"/>
<text x="112.31" y="111.21" font-size="1.2" transform="matrix(1 0.0005 0 1 0 -0.0562)" class="ar" fill="#0e1a26" textLength="6.78" lengthAdjust="spacing">budget droits</text>
<rect x="94.9" y="114.9" width="35.1" height="2.8" fill="#fdee50"/>
<text x="105.43" y="116.66" font-size="1.2" transform="matrix(1 0.0005 0 1 0 -0.0527)" class="ar" fill="#0e1a26" textLength="14.04" lengthAdjust="spacing">contenu collection budget pr</text>
<rect x="127.8" y="105.6" width="20.7" height="2.5" fill="#ee70c4"/>
<text x="134.53" y="107.21" font-size="1.2" transform="matrix(1 0.0005 0 1 0 -0.0673)" class="ar" fill="#0e1a26" textLength="7.25" lengthAdjust="spacing">site droits angl</text>
<rect x="132.2" y="109.6" width="32.8" height="2.5" fill="#ee70c4"/>
<text x="143.68" y="111.21" font-size="1.2" transform="matrix(1 0.0005 0 1 0 -0.0718)" class="ar" fill="#0e1a26" textLength="9.84" lengthAdjust="spacing">marché lumière ma</text>
<rect x="137.8" y="113.6" width="33" height="1.8" fill="#ee70c4"/>
<text x="145.23" y="114.86" font-size="1.2" transform="matrix(1 0.0005 0 1 0 -0.0726)" class="ar" fill="#0e1a26" textLength="18.15" lengthAdjust="spacing">clés social angle marque marché ret</text>
<rect x="171.1" y="110.6" width="23.9" height="2.3" fill="#ee70c4"/>
<text x="178.87" y="112.11" font-size="1.2" transform="matrix(1 0.0005 0 1 0 -0.0894)" class="ar" fill="#0e1a26" textLength="8.37" lengthAdjust="spacing">décor externe va</text>
<rect x="196" y="110.9" width="25.8" height="2.2" fill="#e2a6ee"/>
<text x="201.16" y="112.36" font-size="1.2" transform="matrix(1 0.0005 0 1 0 -0.1006)" class="ar" fill="#0e1a26" textLength="15.48" lengthAdjust="spacing">images page décor format édit</text>
<rect x="252.2" y="97.1" width="13.8" height="3" fill="#5faff9"/>
<text x="252.61" y="99.15" font-size="2" transform="matrix(1 0.0005 0 1 0 -0.1263)" class="k" font-weight="700" fill="#10305c" textLength="12.97" lengthAdjust="spacing" fill-opacity="0.85">angle carnatio</text>
<rect x="250.9" y="102.3" width="15.9" height="2.8" fill="#5faff9"/>
<text x="252.81" y="104.06" font-size="1.2" transform="matrix(1 0.0005 0 1 0 -0.1264)" class="k" font-weight="700" fill="#0e1a26" textLength="12.08" lengthAdjust="spacing">saison contenu landin</text>
<rect x="250.9" y="106.9" width="19.1" height="3" fill="#5faff9"/>
<text x="256.15" y="108.76" font-size="1.2" transform="matrix(1 0.0005 0 1 0 -0.1281)" class="k" font-weight="700" fill="#0e1a26" textLength="8.59" lengthAdjust="spacing">déclinaison édit</text>
<rect x="248.6" y="111.4" width="15.4" height="2.7" fill="#5faff9"/>
<text x="252.45" y="113.11" font-size="1.2" transform="matrix(1 0.0005 0 1 0 -0.1262)" class="k" font-weight="700" fill="#0e1a26" textLength="7.7" lengthAdjust="spacing">lifestyle marq</text>
<rect x="234.9" y="115.9" width="13.2" height="3" fill="#86dde4"/>
<text x="235.56" y="117.76" font-size="1.2" transform="matrix(1 0.0005 0 1 0 -0.1178)" class="ar" fill="#0e1a26" textLength="11.88" lengthAdjust="spacing">shooting sélection valid</text>
<rect x="258.9" y="118.9" width="29.2" height="3.3" fill="#86dde4"/>
<text x="266.2" y="120.36" font-size="1.2" transform="matrix(1 0.0005 0 1 0 -0.1331)" class="ar" fill="#0e1a26" textLength="14.6" lengthAdjust="spacing">studio éditorial reportage ang</text>
<text x="267.66" y="121.5" font-size="1.15" transform="matrix(1 0.0005 0 1 0 -0.1338)" class="ar" fill="#0e1a26" textLength="11.68" lengthAdjust="spacing">livraison éditorial saison</text>
<rect x="286.3" y="109.6" width="19.5" height="2.5" fill="#86dde4"/>
<text x="291.66" y="111.21" font-size="1.2" transform="matrix(1 0.0005 0 1 0 -0.1458)" class="ar" fill="#0e1a26" textLength="8.78" lengthAdjust="spacing">lifestyle contenu</text>
<rect x="300.5" y="105.8" width="18.1" height="2.6" fill="#fdee50"/>
<text x="305.02" y="107.46" font-size="1.2" transform="matrix(1 0.0005 0 1 0 -0.1525)" class="ar" fill="#0e1a26" textLength="9.05" lengthAdjust="spacing">budget social visu</text>
<rect x="318.4" y="109.6" width="22.6" height="2.5" fill="#fdee50"/>
<text x="326.31" y="111.21" font-size="1.2" transform="matrix(1 0.0005 0 1 0 -0.1632)" class="ar" fill="#0e1a26" textLength="6.78" lengthAdjust="spacing">éditorial usag</text>
<rect x="308.6" y="114.9" width="35.6" height="3" fill="#fdee50"/>
<text x="319.28" y="116.76" font-size="1.2" transform="matrix(1 0.0005 0 1 0 -0.1596)" class="ar" fill="#0e1a26" textLength="14.24" lengthAdjust="spacing">déclinaison livraison carnatio</text>
<rect x="342.2" y="105.6" width="20.9" height="2.5" fill="#ee70c4"/>
<text x="348.99" y="107.21" font-size="1.2" transform="matrix(1 0.0005 0 1 0 -0.1745)" class="ar" fill="#0e1a26" textLength="7.32" lengthAdjust="spacing">bannière duré</text>
<rect x="346.8" y="109.7" width="33.3" height="2.4" fill="#ee70c4"/>
<text x="356.79" y="111.26" font-size="1.2" transform="matrix(1 0.0005 0 1 0 -0.1784)" class="ar" fill="#0e1a26" textLength="13.32" lengthAdjust="spacing">contenu vidéo casting exp</text>
<rect x="383" y="110.9" width="24" height="2.2" fill="#ee70c4"/>
<text x="392" y="112.36" font-size="1.2" transform="matrix(1 0.0005 0 1 0 -0.196)" class="ar" fill="#0e1a26" textLength="6" lengthAdjust="spacing">durée angle</text>
<rect x="408.1" y="110.9" width="26.1" height="2.2" fill="#e2a6ee"/>
<text x="414.62" y="112.36" font-size="1.2" transform="matrix(1 0.0005 0 1 0 -0.2073)" class="ar" fill="#0e1a26" textLength="13.05" lengthAdjust="spacing">modèle ambiance landing</text>
<rect x="467.6" y="97.1" width="13.4" height="3" fill="#5faff9"/>
<text x="468" y="99.15" font-size="2" transform="matrix(1 0.0005 0 1 0 -0.234)" class="k" font-weight="700" fill="#10305c" textLength="12.6" lengthAdjust="spacing" fill-opacity="0.85">déclinaison i</text>
<rect x="466.1" y="102.3" width="15.9" height="2.8" fill="#5faff9"/>
<text x="468.01" y="104.06" font-size="1.2" transform="matrix(1 0.0005 0 1 0 -0.234)" class="k" font-weight="700" fill="#0e1a26" textLength="12.08" lengthAdjust="spacing">studio retouche vidéo</text>
<rect x="466.1" y="106.9" width="19.4" height="3" fill="#5faff9"/>
<text x="471.44" y="108.76" font-size="1.2" transform="matrix(1 0.0005 0 1 0 -0.2357)" class="k" font-weight="700" fill="#0e1a26" textLength="8.73" lengthAdjust="spacing">budget studio re</text>
<rect x="464" y="111.4" width="15" height="2.7" fill="#5faff9"/>
<text x="467.75" y="113.11" font-size="1.2" transform="matrix(1 0.0005 0 1 0 -0.2339)" class="k" font-weight="700" fill="#0e1a26" textLength="7.5" lengthAdjust="spacing">landing forma</text>
<rect x="450.1" y="115.9" width="13.7" height="3" fill="#86dde4"/>
<text x="450.79" y="117.76" font-size="1.2" transform="matrix(1 0.0005 0 1 0 -0.2254)" class="ar" fill="#0e1a26" textLength="12.33" lengthAdjust="spacing">site shooting agence lum</text>
<rect x="474.1" y="118.9" width="29" height="3.3" fill="#86dde4"/>
<text x="481.35" y="120.36" font-size="1.2" transform="matrix(1 0.0005 0 1 0 -0.2407)" class="ar" fill="#0e1a26" textLength="14.5" lengthAdjust="spacing">modèle brief bannière image</text>
<text x="482.8" y="121.5" font-size="1.15" transform="matrix(1 0.0005 0 1 0 -0.2414)" class="ar" fill="#0e1a26" textLength="11.6" lengthAdjust="spacing">contenu ambiance cont</text>
<rect x="507.9" y="105.8" width="17.9" height="2.6" fill="#fdee50"/>
<text x="512.37" y="107.46" font-size="1.2" transform="matrix(1 0.0005 0 1 0 -0.2562)" class="ar" fill="#0e1a26" textLength="8.95" lengthAdjust="spacing">collection lifestyle</text>
<rect x="524" y="114.9" width="36" height="3" fill="#fdee50"/>
<text x="534.8" y="116.76" font-size="1.2" transform="matrix(1 0.0005 0 1 0 -0.2674)" class="ar" fill="#0e1a26" textLength="14.4" lengthAdjust="spacing">marque images retouche lan</text>
<rect x="573.1" y="110.6" width="33.8" height="2.5" fill="#ee70c4"/>
<text x="584.09" y="112.21" font-size="1.2" transform="matrix(1 0.0005 0 1 0 -0.292)" class="ar" fill="#0e1a26" textLength="11.83" lengthAdjust="spacing">budget angle export stu</text>
<rect x="618" y="111.1" width="26.4" height="2" fill="#e2a6ee"/>
<text x="625.26" y="112.46" font-size="1.2" transform="matrix(1 0.0005 0 1 0 -0.3126)" class="ar" fill="#0e1a26" textLength="11.88" lengthAdjust="spacing">validation clés déclinais</text>
<line x1="15.05" y1="126.6" x2="220.4" y2="126.6" stroke="#222" stroke-width="0.85"/>
<line x1="15.05" y1="127.11" x2="220.4" y2="127.11" stroke="#8c8c8c" stroke-width="0.45"/>
<circle cx="220.65" cy="126.9" r="1.25" fill="#000"/>
<line x1="227" y1="126.95" x2="436.7" y2="126.95" stroke="#333" stroke-width="1.2"/>
<line x1="227" y1="127.63" x2="436.7" y2="127.63" stroke="#8c8c8c" stroke-width="0.45"/>
<path d="M435.7 125.4 L438.2 127.1 L435.7 128.8 Z" fill="#000"/>
<line x1="442" y1="126.95" x2="651.4" y2="126.95" stroke="#333" stroke-width="1.2"/>
<line x1="442" y1="127.63" x2="651.4" y2="127.63" stroke="#8c8c8c" stroke-width="0.45"/>
<path d="M650.4 125.4 L652.9 127.1 L650.4 128.8 Z" fill="#000"/>
<text x="107.9" y="151" font-size="2.42" transform="matrix(1 0.0005 0 1 0 -0.054)" class="h" font-weight="700" fill="#000" textLength="27.6" lengthAdjust="spacing">ASSETS NÉCESSAIRES</text>
<text x="110.8" y="154.2" font-size="2.6" transform="matrix(1 0.0005 0 1 0 -0.0554)" class="h" font-weight="700" fill="#000" textLength="21" lengthAdjust="spacing">(LE "KIT MAXI")</text>
<text x="428.3" y="149.9" font-size="2.42" transform="matrix(1 0.0005 0 1 0 -0.2142)" class="h" font-weight="700" fill="#000" textLength="27.2" lengthAdjust="spacing">ASSETS NÉCESSAIRES</text>
<text x="432" y="153.9" font-size="2.6" transform="matrix(1 0.0005 0 1 0 -0.216)" class="h" font-weight="700" fill="#000" textLength="19.8" lengthAdjust="spacing">(LE "KIT MINI")</text>
<rect x="10" y="161.5" width="41.2" height="19.2" fill="#5faff9"/>
<text x="25.75" y="166.79" font-size="1.3" transform="matrix(1 0.0005 0 1 0 -0.0129)" class="k" font-weight="700" fill="#0e1a26" textLength="9.7" lengthAdjust="spacing">angle images so</text>
<text x="10.1" y="169.76" font-size="1.2" transform="matrix(1 0.0005 0 1 0 -0.005)" class="k" font-weight="700" fill="#0e1a26" textLength="5" lengthAdjust="spacing">éditorial</text>
<text x="15.7" y="169.74" font-size="1.12" transform="matrix(1 0.0005 0 1 0 -0.0078)" class="r" fill="#0e1a26" textLength="35.2" lengthAdjust="spacing">clés éditorial clés page angle page éditorial images collection vidéo site</text>
<text x="10.1" y="172.66" font-size="1.2" transform="matrix(1 0.0005 0 1 0 -0.005)" class="k" font-weight="700" fill="#0e1a26" textLength="4.7" lengthAdjust="spacing">clés brie</text>
<text x="11.3" y="174.64" font-size="1.12" transform="matrix(1 0.0005 0 1 0 -0.0056)" class="r" fill="#0e1a26" textLength="5.6" lengthAdjust="spacing">newsletter</text>
<text x="11.3" y="175.54" font-size="1.12" transform="matrix(1 0.0005 0 1 0 -0.0056)" class="r" fill="#0e1a26" textLength="12.2" lengthAdjust="spacing">sélection modèle landing</text>
<text x="11.3" y="176.53" font-size="1.1" transform="matrix(1 0.0005 0 1 0 -0.0056)" fill="#0e1a26" fill-opacity="0.8">–</text>
<rect x="10" y="182.2" width="41.2" height="18.6" fill="#5faff9"/>
<text x="17.65" y="186.89" font-size="1.3" transform="matrix(1 0.0005 0 1 0 -0.0088)" class="k" font-weight="700" fill="#0e1a26" textLength="25.9" lengthAdjust="spacing">page landing ambiance vidéo bannière vidéo</text>
<text x="10.1" y="190.76" font-size="1.2" transform="matrix(1 0.0005 0 1 0 -0.005)" class="k" font-weight="700" fill="#0e1a26" textLength="5" lengthAdjust="spacing">produit r</text>
<text x="15.7" y="190.74" font-size="1.12" transform="matrix(1 0.0005 0 1 0 -0.0078)" class="r" fill="#0e1a26" textLength="29.5" lengthAdjust="spacing">validation ambiance export déclinaison éditorial vidéo landing</text>
<text x="10.1" y="191.56" font-size="1.2" transform="matrix(1 0.0005 0 1 0 -0.005)" class="k" font-weight="700" fill="#0e1a26" textLength="4.7" lengthAdjust="spacing">livraison</text>
<text x="11.3" y="193.74" font-size="1.12" transform="matrix(1 0.0005 0 1 0 -0.0056)" class="r" fill="#0e1a26" textLength="13.5" lengthAdjust="spacing">clés agence studio ambiance</text>
<text x="11.3" y="194.74" font-size="1.12" transform="matrix(1 0.0005 0 1 0 -0.0056)" class="r" fill="#0e1a26" textLength="6.1" lengthAdjust="spacing">landing saiso</text>
<text x="11.3" y="195.63" font-size="1.1" transform="matrix(1 0.0005 0 1 0 -0.0056)" fill="#0e1a26" fill-opacity="0.8">–</text>
<text x="11.3" y="196.64" font-size="1.12" transform="matrix(1 0.0005 0 1 0 -0.0056)" class="r" fill="#0e1a26" textLength="12.2" lengthAdjust="spacing">agence brief planning lifes</text>
<rect x="10" y="202.7" width="41.2" height="19.2" fill="#5faff9"/>
<text x="23.1" y="207.69" font-size="1.3" transform="matrix(1 0.0005 0 1 0 -0.0116)" class="k" font-weight="700" fill="#0e1a26" textLength="15" lengthAdjust="spacing">marque clés casting marq</text>
<text x="10.1" y="210.76" font-size="1.2" transform="matrix(1 0.0005 0 1 0 -0.005)" class="k" font-weight="700" fill="#0e1a26" textLength="4.7" lengthAdjust="spacing">agence l</text>
<text x="16.1" y="210.74" font-size="1.12" transform="matrix(1 0.0005 0 1 0 -0.0081)" class="r" fill="#0e1a26" textLength="13.5" lengthAdjust="spacing">visuels durée ambiance studi</text>
<text x="10.1" y="212.66" font-size="1.2" transform="matrix(1 0.0005 0 1 0 -0.005)" class="k" font-weight="700" fill="#0e1a26" textLength="4" lengthAdjust="spacing">reporta</text>
<text x="11.3" y="213.74" font-size="1.12" transform="matrix(1 0.0005 0 1 0 -0.0056)" class="r" fill="#0e1a26" textLength="14.6" lengthAdjust="spacing">marché images marque saison</text>
<text x="11.3" y="215.64" font-size="1.12" transform="matrix(1 0.0005 0 1 0 -0.0056)" class="r" fill="#0e1a26" textLength="5.6" lengthAdjust="spacing">durée forma</text>
<text x="11.3" y="216.64" font-size="1.12" transform="matrix(1 0.0005 0 1 0 -0.0056)" class="r" fill="#0e1a26" textLength="7" lengthAdjust="spacing">landing newsle</text>
<text x="11.3" y="217.63" font-size="1.1" transform="matrix(1 0.0005 0 1 0 -0.0056)" fill="#0e1a26" fill-opacity="0.8">–</text>
<rect x="10" y="223.7" width="41.2" height="18.3" fill="#5faff9"/>
<text x="22.2" y="229.79" font-size="1.3" transform="matrix(1 0.0005 0 1 0 -0.0111)" class="k" font-weight="700" fill="#0e1a26" textLength="16.8" lengthAdjust="spacing">lifestyle page newsletter soci</text>
<text x="10.1" y="232.66" font-size="1.2" transform="matrix(1 0.0005 0 1 0 -0.005)" class="k" font-weight="700" fill="#0e1a26" textLength="5" lengthAdjust="spacing">lumière a</text>
<text x="15.7" y="232.64" font-size="1.12" transform="matrix(1 0.0005 0 1 0 -0.0078)" class="r" fill="#0e1a26" textLength="35.2" lengthAdjust="spacing">ambiance collection packshot vidéo agence usage visuels ambiance modèle</text>
<text x="10.1" y="234.56" font-size="1.2" transform="matrix(1 0.0005 0 1 0 -0.005)" class="k" font-weight="700" fill="#0e1a26" textLength="4.2" lengthAdjust="spacing">livraiso</text>
<text x="11.3" y="235.74" font-size="1.12" transform="matrix(1 0.0005 0 1 0 -0.0056)" class="r" fill="#0e1a26" textLength="6.1" lengthAdjust="spacing">usage export</text>
<text x="11.3" y="237.74" font-size="1.12" transform="matrix(1 0.0005 0 1 0 -0.0056)" class="r" fill="#0e1a26" textLength="12.2" lengthAdjust="spacing">marque brief export page</text>
<rect x="52.9" y="161.7" width="41.2" height="19.2" fill="#86dde4"/>
<text x="67" y="167.69" font-size="1.3" transform="matrix(1 0.0005 0 1 0 -0.0335)" class="k" font-weight="700" fill="#0e1a26" textLength="13" lengthAdjust="spacing">sélection planning sh</text>
<text x="53" y="168.76" font-size="1.2" transform="matrix(1 0.0005 0 1 0 -0.0265)" class="k" font-weight="700" fill="#0e1a26" textLength="4.7" lengthAdjust="spacing">clés bud</text>
<text x="53.5" y="170.74" font-size="1.12" transform="matrix(1 0.0005 0 1 0 -0.0267)" class="r" fill="#0e1a26" textLength="36.4" lengthAdjust="spacing">reportage landing newsletter déclinaison usage planning planning livraison</text>
<text x="53" y="171.66" font-size="1.2" transform="matrix(1 0.0005 0 1 0 -0.0265)" class="k" font-weight="700" fill="#0e1a26" textLength="4.5" lengthAdjust="spacing">landing</text>
<text x="53.5" y="173.74" font-size="1.12" transform="matrix(1 0.0005 0 1 0 -0.0267)" class="r" fill="#0e1a26" textLength="6.6" lengthAdjust="spacing">social ambian</text>
<text x="53.5" y="175.64" font-size="1.12" transform="matrix(1 0.0005 0 1 0 -0.0267)" class="r" fill="#0e1a26" textLength="12.2" lengthAdjust="spacing">marque shooting modèle</text>
<rect x="52.9" y="182.2" width="41.2" height="18.8" fill="#86dde4"/>
<text x="65.75" y="187.89" font-size="1.3" transform="matrix(1 0.0005 0 1 0 -0.0329)" class="k" font-weight="700" fill="#0e1a26" textLength="15.5" lengthAdjust="spacing">produit clés livraison sais</text>
<text x="53" y="190.76" font-size="1.2" transform="matrix(1 0.0005 0 1 0 -0.0265)" class="k" font-weight="700" fill="#0e1a26" textLength="5" lengthAdjust="spacing">sélection</text>
<text x="59.1" y="190.74" font-size="1.12" transform="matrix(1 0.0005 0 1 0 -0.0295)" class="r" fill="#0e1a26" textLength="7.7" lengthAdjust="spacing">landing marque</text>
<text x="53" y="192.86" font-size="1.2" transform="matrix(1 0.0005 0 1 0 -0.0265)" class="k" font-weight="700" fill="#0e1a26" textLength="4.5" lengthAdjust="spacing">collecti</text>
<text x="53.5" y="194.74" font-size="1.12" transform="matrix(1 0.0005 0 1 0 -0.0267)" class="r" fill="#0e1a26" textLength="6.3" lengthAdjust="spacing">casting retou</text>
<text x="53.5" y="195.74" font-size="1.12" transform="matrix(1 0.0005 0 1 0 -0.0267)" class="r" fill="#0e1a26" textLength="13.2" lengthAdjust="spacing">carnation lifestyle social livra</text>
<text x="53.5" y="196.73" font-size="1.1" transform="matrix(1 0.0005 0 1 0 -0.0267)" fill="#0e1a26" fill-opacity="0.8">–</text>
<rect x="52.9" y="202.7" width="41.2" height="19.2" fill="#86dde4"/>
<text x="66.15" y="206.79" font-size="1.3" transform="matrix(1 0.0005 0 1 0 -0.0331)" class="k" font-weight="700" fill="#0e1a26" textLength="14.7" lengthAdjust="spacing">vidéo casting éditorial bu</text>
<text x="53" y="209.76" font-size="1.2" transform="matrix(1 0.0005 0 1 0 -0.0265)" class="k" font-weight="700" fill="#0e1a26" textLength="5" lengthAdjust="spacing">planning</text>
<text x="53.5" y="211.64" font-size="1.12" transform="matrix(1 0.0005 0 1 0 -0.0267)" class="r" fill="#0e1a26" textLength="12.2" lengthAdjust="spacing">newsletter livraison page</text>
<text x="53.5" y="213.74" font-size="1.12" transform="matrix(1 0.0005 0 1 0 -0.0267)" class="r" fill="#0e1a26" textLength="14.1" lengthAdjust="spacing">newsletter visuels casting déc</text>
<text x="53" y="214.66" font-size="1.2" transform="matrix(1 0.0005 0 1 0 -0.0265)" class="k" font-weight="700" fill="#0e1a26" textLength="4" lengthAdjust="spacing">durée a</text>
<text x="53.5" y="216.64" font-size="1.12" transform="matrix(1 0.0005 0 1 0 -0.0267)" class="r" fill="#0e1a26" textLength="14.3" lengthAdjust="spacing">shooting brief clés images pac</text>
<text x="53.5" y="217.64" font-size="1.12" transform="matrix(1 0.0005 0 1 0 -0.0267)" class="r" fill="#0e1a26" textLength="7.5" lengthAdjust="spacing">site carnation e</text>
<text x="53.5" y="218.63" font-size="1.1" transform="matrix(1 0.0005 0 1 0 -0.0267)" fill="#0e1a26" fill-opacity="0.8">–</text>
<rect x="52.9" y="223.5" width="41.2" height="18.5" fill="#86dde4"/>
<text x="68.85" y="227.89" font-size="1.3" transform="matrix(1 0.0005 0 1 0 -0.0344)" class="k" font-weight="700" fill="#0e1a26" textLength="9.3" lengthAdjust="spacing">décor casting p</text>
<text x="53" y="230.76" font-size="1.2" transform="matrix(1 0.0005 0 1 0 -0.0265)" class="k" font-weight="700" fill="#0e1a26" textLength="5" lengthAdjust="spacing">externe li</text>
<text x="53.5" y="231.74" font-size="1.12" transform="matrix(1 0.0005 0 1 0 -0.0267)" class="r" fill="#0e1a26" textLength="15.3" lengthAdjust="spacing">saison newsletter éditorial visuel</text>
<text x="53" y="233.56" font-size="1.2" transform="matrix(1 0.0005 0 1 0 -0.0265)" class="k" font-weight="700" fill="#0e1a26" textLength="4.5" lengthAdjust="spacing">validati</text>
<text x="53.5" y="235.64" font-size="1.12" transform="matrix(1 0.0005 0 1 0 -0.0267)" class="r" fill="#0e1a26" textLength="13.8" lengthAdjust="spacing">marque contenu interne page</text>
<text x="53.5" y="236.64" font-size="1.12" transform="matrix(1 0.0005 0 1 0 -0.0267)" class="r" fill="#0e1a26" textLength="5.8" lengthAdjust="spacing">budget lifest</text>
<text x="53.5" y="238.64" font-size="1.12" transform="matrix(1 0.0005 0 1 0 -0.0267)" class="r" fill="#0e1a26" textLength="7.7" lengthAdjust="spacing">livraison saison</text>
<rect x="53.8" y="243.3" width="40.3" height="14.7" fill="#86dde4"/>
<text x="67.05" y="244.89" font-size="1.3" transform="matrix(1 0.0005 0 1 0 -0.0335)" class="k" font-weight="700" fill="#0e1a26" textLength="13.8" lengthAdjust="spacing">lifestyle images ambian</text>
<text x="53.9" y="247.86" font-size="1.2" transform="matrix(1 0.0005 0 1 0 -0.0269)" class="k" font-weight="700" fill="#0e1a26" textLength="5" lengthAdjust="spacing">bannière</text>
<text x="54.4" y="249.74" font-size="1.12" transform="matrix(1 0.0005 0 1 0 -0.0272)" class="r" fill="#0e1a26" textLength="10.4" lengthAdjust="spacing">retouche droits livraiso</text>
<text x="54.4" y="250.74" font-size="1.12" transform="matrix(1 0.0005 0 1 0 -0.0272)" class="r" fill="#0e1a26" textLength="13.4" lengthAdjust="spacing">marque packshot landing int</text>
<text x="53.9" y="253.76" font-size="1.2" transform="matrix(1 0.0005 0 1 0 -0.0269)" class="k" font-weight="700" fill="#0e1a26" textLength="4" lengthAdjust="spacing">validati</text>
<text x="54.4" y="255.74" font-size="1.12" transform="matrix(1 0.0005 0 1 0 -0.0272)" class="r" fill="#0e1a26" textLength="13.4" lengthAdjust="spacing">shooting ambiance retouche</text>
<text x="54.4" y="257.74" font-size="1.12" transform="matrix(1 0.0005 0 1 0 -0.0272)" class="r" fill="#0e1a26" textLength="13.4" lengthAdjust="spacing">retouche carnation casting m</text>
<rect x="53.8" y="259.5" width="40.3" height="14.8" fill="#86dde4"/>
<text x="68.95" y="261.79" font-size="1.3" transform="matrix(1 0.0005 0 1 0 -0.0345)" class="k" font-weight="700" fill="#0e1a26" textLength="10" lengthAdjust="spacing">éditorial marque</text>
<text x="53.9" y="264.86" font-size="1.2" transform="matrix(1 0.0005 0 1 0 -0.0269)" class="k" font-weight="700" fill="#0e1a26" textLength="5" lengthAdjust="spacing">déclinais</text>
<text x="54.4" y="266.54" font-size="1.12" transform="matrix(1 0.0005 0 1 0 -0.0272)" class="r" fill="#0e1a26" textLength="8.5" lengthAdjust="spacing">angle saison ambi</text>
<text x="53.9" y="267.76" font-size="1.2" transform="matrix(1 0.0005 0 1 0 -0.0269)" class="k" font-weight="700" fill="#0e1a26" textLength="4" lengthAdjust="spacing">clés dr</text>
<text x="54.4" y="269.74" font-size="1.12" transform="matrix(1 0.0005 0 1 0 -0.0272)" class="r" fill="#0e1a26" textLength="13.4" lengthAdjust="spacing">interne visuels marché sélect</text>
<text x="54.4" y="270.64" font-size="1.12" transform="matrix(1 0.0005 0 1 0 -0.0272)" class="r" fill="#0e1a26" textLength="4.9" lengthAdjust="spacing">externe re</text>
<text x="54.4" y="272.74" font-size="1.12" transform="matrix(1 0.0005 0 1 0 -0.0272)" class="r" fill="#0e1a26" textLength="13.4" lengthAdjust="spacing">validation social validation d</text>
<rect x="95.6" y="161.5" width="41.2" height="19.2" fill="#fdee50"/>
<text x="108.4" y="165.79" font-size="1.3" transform="matrix(1 0.0005 0 1 0 -0.0542)" class="k" font-weight="700" fill="#0e1a26" textLength="15.6" lengthAdjust="spacing">social contenu éditorial im</text>
<text x="95.7" y="168.76" font-size="1.2" transform="matrix(1 0.0005 0 1 0 -0.0478)" class="k" font-weight="700" fill="#0e1a26" textLength="5" lengthAdjust="spacing">sélection</text>
<text x="96.2" y="170.74" font-size="1.12" transform="matrix(1 0.0005 0 1 0 -0.0481)" class="r" fill="#0e1a26" textLength="10.4" lengthAdjust="spacing">packshot export conte</text>
<text x="96.2" y="171.64" font-size="1.12" transform="matrix(1 0.0005 0 1 0 -0.0481)" class="r" fill="#0e1a26" textLength="10.4" lengthAdjust="spacing">déclinaison lumière an</text>
<text x="96.2" y="172.63" font-size="1.1" transform="matrix(1 0.0005 0 1 0 -0.0481)" fill="#0e1a26" fill-opacity="0.8">–</text>
<text x="95.7" y="173.76" font-size="1.2" transform="matrix(1 0.0005 0 1 0 -0.0478)" class="k" font-weight="700" fill="#0e1a26" textLength="4" lengthAdjust="spacing">livraiso</text>
<text x="96.2" y="175.64" font-size="1.12" transform="matrix(1 0.0005 0 1 0 -0.0481)" class="r" fill="#0e1a26" textLength="13" lengthAdjust="spacing">sélection décor planning an</text>
<text x="96.2" y="176.64" font-size="1.12" transform="matrix(1 0.0005 0 1 0 -0.0481)" class="r" fill="#0e1a26" textLength="6.4" lengthAdjust="spacing">lumière durée</text>
<text x="96.2" y="177.63" font-size="1.1" transform="matrix(1 0.0005 0 1 0 -0.0481)" fill="#0e1a26" fill-opacity="0.8">–</text>
<rect x="95.6" y="182.2" width="41.2" height="18.6" fill="#fdee50"/>
<text x="96.75" y="186.89" font-size="1.3" transform="matrix(1 0.0005 0 1 0 -0.0484)" class="k" font-weight="700" fill="#0e1a26" textLength="38.9" lengthAdjust="spacing">interne carnation marché lumière externe lumière studio shooting</text>
<text x="95.7" y="190.76" font-size="1.2" transform="matrix(1 0.0005 0 1 0 -0.0478)" class="k" font-weight="700" fill="#0e1a26" textLength="5" lengthAdjust="spacing">bannière</text>
<text x="96.2" y="191.74" font-size="1.12" transform="matrix(1 0.0005 0 1 0 -0.0481)" class="r" fill="#0e1a26" textLength="9.2" lengthAdjust="spacing">collection reportage</text>
<text x="95.7" y="193.56" font-size="1.2" transform="matrix(1 0.0005 0 1 0 -0.0478)" class="k" font-weight="700" fill="#0e1a26" textLength="4" lengthAdjust="spacing">clés so</text>
<text x="96.2" y="194.74" font-size="1.12" transform="matrix(1 0.0005 0 1 0 -0.0481)" class="r" fill="#0e1a26" textLength="11.3" lengthAdjust="spacing">déclinaison agence vali</text>
<text x="96.2" y="196.64" font-size="1.12" transform="matrix(1 0.0005 0 1 0 -0.0481)" class="r" fill="#0e1a26" textLength="6.4" lengthAdjust="spacing">packshot mo</text>
<rect x="95.6" y="202.9" width="41.2" height="19" fill="#fdee50"/>
<text x="107.7" y="206.79" font-size="1.3" transform="matrix(1 0.0005 0 1 0 -0.0539)" class="k" font-weight="700" fill="#0e1a26" textLength="17" lengthAdjust="spacing">livraison packshot collection</text>
<text x="95.7" y="209.76" font-size="1.2" transform="matrix(1 0.0005 0 1 0 -0.0478)" class="k" font-weight="700" fill="#0e1a26" textLength="4.9" lengthAdjust="spacing">modèle v</text>
<text x="96.2" y="211.64" font-size="1.12" transform="matrix(1 0.0005 0 1 0 -0.0481)" class="r" fill="#0e1a26" textLength="12.2" lengthAdjust="spacing">site export durée retouche</text>
<text x="95.7" y="213.76" font-size="1.2" transform="matrix(1 0.0005 0 1 0 -0.0478)" class="k" font-weight="700" fill="#0e1a26" textLength="4.2" lengthAdjust="spacing">bannièr</text>
<text x="96.2" y="214.74" font-size="1.12" transform="matrix(1 0.0005 0 1 0 -0.0481)" class="r" fill="#0e1a26" textLength="17.4" lengthAdjust="spacing">reportage angle ambiance usage for</text>
<text x="96.2" y="216.74" font-size="1.12" transform="matrix(1 0.0005 0 1 0 -0.0481)" class="r" fill="#0e1a26" textLength="6.3" lengthAdjust="spacing">bannière séle</text>
<text x="96.2" y="217.64" font-size="1.12" transform="matrix(1 0.0005 0 1 0 -0.0481)" class="r" fill="#0e1a26" textLength="13.2" lengthAdjust="spacing">lifestyle packshot images dé</text>
<text x="96.2" y="218.63" font-size="1.1" transform="matrix(1 0.0005 0 1 0 -0.0481)" fill="#0e1a26" fill-opacity="0.8">–</text>
<rect x="138.2" y="161.5" width="40.9" height="19.2" fill="#ee70c4"/>
<text x="153.65" y="165.79" font-size="1.3" transform="matrix(1 0.0005 0 1 0 -0.0768)" class="k" font-weight="700" fill="#0e1a26" textLength="10" lengthAdjust="spacing">usage lifestyle p</text>
<text x="138.3" y="168.76" font-size="1.2" transform="matrix(1 0.0005 0 1 0 -0.0691)" class="k" font-weight="700" fill="#0e1a26" textLength="4.7" lengthAdjust="spacing">packsho</text>
<text x="139.2" y="170.74" font-size="1.12" transform="matrix(1 0.0005 0 1 0 -0.0696)" class="r" fill="#0e1a26" textLength="14.8" lengthAdjust="spacing">brief angle format lifestyle plann</text>
<text x="138.3" y="173.76" font-size="1.2" transform="matrix(1 0.0005 0 1 0 -0.0691)" class="k" font-weight="700" fill="#0e1a26" textLength="4.7" lengthAdjust="spacing">droits vi</text>
<text x="139.2" y="175.64" font-size="1.12" transform="matrix(1 0.0005 0 1 0 -0.0696)" class="r" fill="#0e1a26" textLength="5.6" lengthAdjust="spacing">externe déc</text>
<text x="139.2" y="176.64" font-size="1.12" transform="matrix(1 0.0005 0 1 0 -0.0696)" class="r" fill="#0e1a26" textLength="7.5" lengthAdjust="spacing">usage sélection</text>
<text x="139.2" y="177.63" font-size="1.1" transform="matrix(1 0.0005 0 1 0 -0.0696)" fill="#0e1a26" fill-opacity="0.8">–</text>
<rect x="138.2" y="182.2" width="40.9" height="18.6" fill="#ee70c4"/>
<text x="151.2" y="185.79" font-size="1.3" transform="matrix(1 0.0005 0 1 0 -0.0756)" class="k" font-weight="700" fill="#0e1a26" textLength="14.9" lengthAdjust="spacing">retouche clés collection a</text>
<text x="138.3" y="188.56" font-size="1.2" transform="matrix(1 0.0005 0 1 0 -0.0691)" class="k" font-weight="700" fill="#0e1a26" textLength="5.2" lengthAdjust="spacing">déclinais</text>
<text x="139.2" y="190.74" font-size="1.12" transform="matrix(1 0.0005 0 1 0 -0.0696)" class="r" fill="#0e1a26" textLength="34.4" lengthAdjust="spacing">planning angle vidéo lumière vidéo bannière durée lifestyle marque décor</text>
<text x="138.3" y="193.56" font-size="1.2" transform="matrix(1 0.0005 0 1 0 -0.0691)" class="k" font-weight="700" fill="#0e1a26" textLength="4.2" lengthAdjust="spacing">marque</text>
<text x="139.2" y="194.76" font-size="1.2" transform="matrix(1 0.0005 0 1 0 -0.0696)" class="k" font-weight="700" fill="#0e1a26" textLength="13.7" lengthAdjust="spacing">images brief carnation ca</text>
<text x="139.2" y="196.64" font-size="1.12" transform="matrix(1 0.0005 0 1 0 -0.0696)" class="r" fill="#0e1a26" textLength="6.1" lengthAdjust="spacing">images agen</text>
<text x="139.2" y="198.64" font-size="1.12" transform="matrix(1 0.0005 0 1 0 -0.0696)" class="r" fill="#0e1a26" textLength="12.7" lengthAdjust="spacing">saison budget collection la</text>
<rect x="138.2" y="202.5" width="40.9" height="20.9" fill="#ee70c4"/>
<text x="150.1" y="203.89" font-size="1.3" transform="matrix(1 0.0005 0 1 0 -0.075)" class="k" font-weight="700" fill="#0e1a26" textLength="17.1" lengthAdjust="spacing">clés carnation bannière landi</text>
<text x="138.3" y="206.76" font-size="1.2" transform="matrix(1 0.0005 0 1 0 -0.0691)" class="k" font-weight="700" fill="#0e1a26" textLength="5.2" lengthAdjust="spacing">bannière</text>
<text x="139.2" y="208.74" font-size="1.12" transform="matrix(1 0.0005 0 1 0 -0.0696)" class="r" fill="#0e1a26" textLength="10.6" lengthAdjust="spacing">interne landing agence</text>
<text x="139.2" y="209.74" font-size="1.12" transform="matrix(1 0.0005 0 1 0 -0.0696)" class="r" fill="#0e1a26" textLength="12.7" lengthAdjust="spacing">reportage clés packshot sh</text>
<text x="139.2" y="211.64" font-size="1.12" transform="matrix(1 0.0005 0 1 0 -0.0696)" class="r" fill="#0e1a26" textLength="36.7" lengthAdjust="spacing">carnation retouche export studio images reportage ambiance site éditorial carna</text>
<text x="140.2" y="212.64" font-size="1.12" transform="matrix(1 0.0005 0 1 0 -0.0701)" class="r" fill="#0e1a26" textLength="4.7" lengthAdjust="spacing">visuels pr</text>
<text x="139.2" y="214.74" font-size="1.12" transform="matrix(1 0.0005 0 1 0 -0.0696)" class="r" fill="#0e1a26" textLength="13.7" lengthAdjust="spacing">agence social marché banniè</text>
<text x="138.3" y="217.66" font-size="1.2" transform="matrix(1 0.0005 0 1 0 -0.0691)" class="k" font-weight="700" fill="#0e1a26" textLength="4.4" lengthAdjust="spacing">clés pla</text>
<text x="139.2" y="219.64" font-size="1.12" transform="matrix(1 0.0005 0 1 0 -0.0696)" class="r" fill="#0e1a26" textLength="5.6" lengthAdjust="spacing">durée durée</text>
<text x="139.2" y="220.54" font-size="1.12" transform="matrix(1 0.0005 0 1 0 -0.0696)" class="r" fill="#0e1a26" textLength="12.7" lengthAdjust="spacing">brief page casting casting</text>
<text x="139.2" y="222.64" font-size="1.12" transform="matrix(1 0.0005 0 1 0 -0.0696)" class="r" fill="#0e1a26" textLength="12.7" lengthAdjust="spacing">contenu vidéo visuels lifest</text>
<rect x="138.2" y="224.9" width="40.9" height="17.1" fill="#ee70c4"/>
<text x="145.6" y="226.89" font-size="1.3" transform="matrix(1 0.0005 0 1 0 -0.0728)" class="k" font-weight="700" fill="#0e1a26" textLength="26.1" lengthAdjust="spacing">droits images page droits export retouche val</text>
<text x="138.3" y="229.76" font-size="1.2" transform="matrix(1 0.0005 0 1 0 -0.0691)" class="k" font-weight="700" fill="#0e1a26" textLength="5.2" lengthAdjust="spacing">format pl</text>
<text x="139.2" y="231.74" font-size="1.12" transform="matrix(1 0.0005 0 1 0 -0.0696)" class="r" fill="#0e1a26" textLength="14.1" lengthAdjust="spacing">format interne sélection modèl</text>
<text x="139.2" y="232.64" font-size="1.12" transform="matrix(1 0.0005 0 1 0 -0.0696)" class="r" fill="#0e1a26" textLength="5.6" lengthAdjust="spacing">lumière mar</text>
<text x="139.2" y="234.74" font-size="1.12" transform="matrix(1 0.0005 0 1 0 -0.0696)" class="r" fill="#0e1a26" textLength="16.3" lengthAdjust="spacing">newsletter export interne planning</text>
<text x="138.3" y="237.76" font-size="1.2" transform="matrix(1 0.0005 0 1 0 -0.0691)" class="k" font-weight="700" fill="#0e1a26" textLength="4.4" lengthAdjust="spacing">collecti</text>
<text x="139.2" y="239.74" font-size="1.12" transform="matrix(1 0.0005 0 1 0 -0.0696)" class="r" fill="#0e1a26" textLength="5.9" lengthAdjust="spacing">ambiance us</text>
<text x="139.2" y="240.64" font-size="1.12" transform="matrix(1 0.0005 0 1 0 -0.0696)" class="r" fill="#0e1a26" textLength="12.2" lengthAdjust="spacing">modèle produit éditorial pr</text>
<rect x="181" y="161.5" width="40.9" height="19.5" fill="#e2a6ee"/>
<text x="193.8" y="162.79" font-size="1.3" transform="matrix(1 0.0005 0 1 0 -0.0969)" class="k" font-weight="700" fill="#0e1a26" textLength="15.3" lengthAdjust="spacing">export saison saison cont</text>
<text x="181.1" y="165.76" font-size="1.2" transform="matrix(1 0.0005 0 1 0 -0.0906)" class="k" font-weight="700" fill="#0e1a26" textLength="4.7" lengthAdjust="spacing">agence</text>
<text x="181.5" y="167.84" font-size="1.12" transform="matrix(1 0.0005 0 1 0 -0.0907)" class="r" fill="#0e1a26" textLength="24.7" lengthAdjust="spacing">décor shooting visuels décor page externe sélection</text>
<text x="181.5" y="168.74" font-size="1.12" transform="matrix(1 0.0005 0 1 0 -0.0907)" class="r" fill="#0e1a26" textLength="11.4" lengthAdjust="spacing">produit budget décor co</text>
<text x="181.5" y="170.74" font-size="1.12" transform="matrix(1 0.0005 0 1 0 -0.0907)" class="r" fill="#0e1a26" textLength="19.5" lengthAdjust="spacing">budget modèle lumière format site brief ex</text>
<text x="181.5" y="171.84" font-size="1.12" transform="matrix(1 0.0005 0 1 0 -0.0907)" class="r" fill="#0e1a26" textLength="12.2" lengthAdjust="spacing">modèle planning lifestyle</text>
<text x="181.5" y="173.74" font-size="1.12" transform="matrix(1 0.0005 0 1 0 -0.0907)" class="r" fill="#0e1a26" textLength="17.3" lengthAdjust="spacing">modèle droits saison sélection agenc</text>
<text x="181.1" y="176.76" font-size="1.2" transform="matrix(1 0.0005 0 1 0 -0.0906)" class="k" font-weight="700" fill="#0e1a26" textLength="3.7" lengthAdjust="spacing">carnati</text>
<text x="181.5" y="178.74" font-size="1.12" transform="matrix(1 0.0005 0 1 0 -0.0907)" class="r" fill="#0e1a26" textLength="6.3" lengthAdjust="spacing">droits angle d</text>
<text x="181.5" y="179.64" font-size="1.12" transform="matrix(1 0.0005 0 1 0 -0.0907)" class="r" fill="#0e1a26" textLength="13.3" lengthAdjust="spacing">usage modèle site livraison</text>
<text x="181.5" y="180.63" font-size="1.1" transform="matrix(1 0.0005 0 1 0 -0.0907)" fill="#0e1a26" fill-opacity="0.8">–</text>
<rect x="332" y="158.9" width="41.2" height="19" fill="#5faff9"/>
<text x="347.75" y="163.74" font-size="1.3" transform="matrix(1 0.0005 0 1 0 -0.1739)" class="k" font-weight="700" fill="#0e1a26" textLength="9.7" lengthAdjust="spacing">angle bannière p</text>
<text x="332.1" y="166.71" font-size="1.2" transform="matrix(1 0.0005 0 1 0 -0.1661)" class="k" font-weight="700" fill="#0e1a26" textLength="5" lengthAdjust="spacing">planning</text>
<text x="337.7" y="166.69" font-size="1.12" transform="matrix(1 0.0005 0 1 0 -0.1689)" class="r" fill="#0e1a26" textLength="35.2" lengthAdjust="spacing">studio planning agence livraison collection validation landing saison planning</text>
<text x="332.1" y="169.61" font-size="1.2" transform="matrix(1 0.0005 0 1 0 -0.1661)" class="k" font-weight="700" fill="#0e1a26" textLength="4.7" lengthAdjust="spacing">validatio</text>
<text x="333.3" y="171.59" font-size="1.12" transform="matrix(1 0.0005 0 1 0 -0.1667)" class="r" fill="#0e1a26" textLength="5.6" lengthAdjust="spacing">éditorial for</text>
<text x="333.3" y="172.49" font-size="1.12" transform="matrix(1 0.0005 0 1 0 -0.1667)" class="r" fill="#0e1a26" textLength="12.2" lengthAdjust="spacing">collection saison newslett</text>
<text x="333.3" y="173.48" font-size="1.1" transform="matrix(1 0.0005 0 1 0 -0.1667)" fill="#0e1a26" fill-opacity="0.8">–</text>
<rect x="332" y="179.5" width="41.2" height="18.5" fill="#5faff9"/>
<text x="339.65" y="183.74" font-size="1.3" transform="matrix(1 0.0005 0 1 0 -0.1698)" class="k" font-weight="700" fill="#0e1a26" textLength="25.9" lengthAdjust="spacing">newsletter produit usage lumière studio site</text>
<text x="332.1" y="187.61" font-size="1.2" transform="matrix(1 0.0005 0 1 0 -0.1661)" class="k" font-weight="700" fill="#0e1a26" textLength="5" lengthAdjust="spacing">angle pa</text>
<text x="337.7" y="187.59" font-size="1.12" transform="matrix(1 0.0005 0 1 0 -0.1689)" class="r" fill="#0e1a26" textLength="29.5" lengthAdjust="spacing">éditorial social saison lumière studio interne export visuels colle</text>
<text x="332.1" y="188.41" font-size="1.2" transform="matrix(1 0.0005 0 1 0 -0.1661)" class="k" font-weight="700" fill="#0e1a26" textLength="4.7" lengthAdjust="spacing">éditorial</text>
<text x="333.3" y="190.59" font-size="1.12" transform="matrix(1 0.0005 0 1 0 -0.1667)" class="r" fill="#0e1a26" textLength="13.5" lengthAdjust="spacing">éditorial produit casting prod</text>
<text x="333.3" y="191.59" font-size="1.12" transform="matrix(1 0.0005 0 1 0 -0.1667)" class="r" fill="#0e1a26" textLength="6.1" lengthAdjust="spacing">carnation am</text>
<text x="333.3" y="192.48" font-size="1.1" transform="matrix(1 0.0005 0 1 0 -0.1667)" fill="#0e1a26" fill-opacity="0.8">–</text>
<text x="333.3" y="193.49" font-size="1.12" transform="matrix(1 0.0005 0 1 0 -0.1667)" class="r" fill="#0e1a26" textLength="12.2" lengthAdjust="spacing">modèle produit studio clés</text>
<rect x="332" y="200.1" width="41.2" height="18.7" fill="#5faff9"/>
<text x="345.1" y="204.64" font-size="1.3" transform="matrix(1 0.0005 0 1 0 -0.1726)" class="k" font-weight="700" fill="#0e1a26" textLength="15" lengthAdjust="spacing">interne format ambiance</text>
<text x="332.1" y="207.71" font-size="1.2" transform="matrix(1 0.0005 0 1 0 -0.1661)" class="k" font-weight="700" fill="#0e1a26" textLength="4.7" lengthAdjust="spacing">interne e</text>
<text x="338.1" y="207.69" font-size="1.12" transform="matrix(1 0.0005 0 1 0 -0.1691)" class="r" fill="#0e1a26" textLength="13.5" lengthAdjust="spacing">bannière site contenu angle</text>
<text x="332.1" y="209.61" font-size="1.2" transform="matrix(1 0.0005 0 1 0 -0.1661)" class="k" font-weight="700" fill="#0e1a26" textLength="4" lengthAdjust="spacing">casting</text>
<text x="333.3" y="210.69" font-size="1.12" transform="matrix(1 0.0005 0 1 0 -0.1667)" class="r" fill="#0e1a26" textLength="14.6" lengthAdjust="spacing">usage livraison brief casting ca</text>
<text x="333.3" y="212.59" font-size="1.12" transform="matrix(1 0.0005 0 1 0 -0.1667)" class="r" fill="#0e1a26" textLength="5.6" lengthAdjust="spacing">agence vidé</text>
<text x="333.3" y="213.59" font-size="1.12" transform="matrix(1 0.0005 0 1 0 -0.1667)" class="r" fill="#0e1a26" textLength="7" lengthAdjust="spacing">contenu conte</text>
<text x="333.3" y="214.58" font-size="1.1" transform="matrix(1 0.0005 0 1 0 -0.1667)" fill="#0e1a26" fill-opacity="0.8">–</text>
<rect x="332" y="221" width="41.2" height="18.8" fill="#5faff9"/>
<text x="344.2" y="226.64" font-size="1.3" transform="matrix(1 0.0005 0 1 0 -0.1721)" class="k" font-weight="700" fill="#0e1a26" textLength="16.8" lengthAdjust="spacing">éditorial visuels images repo</text>
<text x="332.1" y="229.51" font-size="1.2" transform="matrix(1 0.0005 0 1 0 -0.1661)" class="k" font-weight="700" fill="#0e1a26" textLength="5" lengthAdjust="spacing">déclinais</text>
<text x="337.7" y="229.49" font-size="1.12" transform="matrix(1 0.0005 0 1 0 -0.1689)" class="r" fill="#0e1a26" textLength="35.2" lengthAdjust="spacing">externe brief shooting validation produit usage éditorial clés studio angle</text>
<text x="332.1" y="231.41" font-size="1.2" transform="matrix(1 0.0005 0 1 0 -0.1661)" class="k" font-weight="700" fill="#0e1a26" textLength="4.2" lengthAdjust="spacing">plannin</text>
<text x="333.3" y="232.59" font-size="1.12" transform="matrix(1 0.0005 0 1 0 -0.1667)" class="r" fill="#0e1a26" textLength="6.1" lengthAdjust="spacing">shooting lifes</text>
<text x="333.3" y="234.59" font-size="1.12" transform="matrix(1 0.0005 0 1 0 -0.1667)" class="r" fill="#0e1a26" textLength="12.2" lengthAdjust="spacing">déclinaison déclinaison for</text>
<rect x="375" y="158.9" width="41" height="19" fill="#86dde4"/>
<text x="389" y="164.44" font-size="1.3" transform="matrix(1 0.0005 0 1 0 -0.1945)" class="k" font-weight="700" fill="#0e1a26" textLength="13" lengthAdjust="spacing">bannière social clés v</text>
<text x="375.1" y="165.51" font-size="1.2" transform="matrix(1 0.0005 0 1 0 -0.1876)" class="k" font-weight="700" fill="#0e1a26" textLength="4.7" lengthAdjust="spacing">agence</text>
<text x="375.6" y="167.49" font-size="1.12" transform="matrix(1 0.0005 0 1 0 -0.1878)" class="r" fill="#0e1a26" textLength="36.4" lengthAdjust="spacing">modèle page validation export angle lumière carnation packshot durée décor</text>
<text x="375.1" y="168.41" font-size="1.2" transform="matrix(1 0.0005 0 1 0 -0.1876)" class="k" font-weight="700" fill="#0e1a26" textLength="4.5" lengthAdjust="spacing">lifestyle</text>
<text x="375.6" y="170.49" font-size="1.12" transform="matrix(1 0.0005 0 1 0 -0.1878)" class="r" fill="#0e1a26" textLength="6.6" lengthAdjust="spacing">interne format</text>
<text x="375.6" y="172.39" font-size="1.12" transform="matrix(1 0.0005 0 1 0 -0.1878)" class="r" fill="#0e1a26" textLength="12.2" lengthAdjust="spacing">newsletter packshot usag</text>
<rect x="375" y="179.5" width="41" height="18.5" fill="#86dde4"/>
<text x="387.75" y="184.74" font-size="1.3" transform="matrix(1 0.0005 0 1 0 -0.1939)" class="k" font-weight="700" fill="#0e1a26" textLength="15.5" lengthAdjust="spacing">studio collection durée rep</text>
<text x="375.1" y="187.61" font-size="1.2" transform="matrix(1 0.0005 0 1 0 -0.1876)" class="k" font-weight="700" fill="#0e1a26" textLength="5" lengthAdjust="spacing">modèle a</text>
<text x="381.2" y="187.59" font-size="1.12" transform="matrix(1 0.0005 0 1 0 -0.1906)" class="r" fill="#0e1a26" textLength="7.7" lengthAdjust="spacing">landing newslett</text>
<text x="375.1" y="189.71" font-size="1.2" transform="matrix(1 0.0005 0 1 0 -0.1876)" class="k" font-weight="700" fill="#0e1a26" textLength="4.5" lengthAdjust="spacing">brief pa</text>
<text x="375.6" y="191.59" font-size="1.12" transform="matrix(1 0.0005 0 1 0 -0.1878)" class="r" fill="#0e1a26" textLength="6.3" lengthAdjust="spacing">collection ba</text>
<text x="375.6" y="192.59" font-size="1.12" transform="matrix(1 0.0005 0 1 0 -0.1878)" class="r" fill="#0e1a26" textLength="13.2" lengthAdjust="spacing">sélection durée sélection ma</text>
<text x="375.6" y="193.58" font-size="1.1" transform="matrix(1 0.0005 0 1 0 -0.1878)" fill="#0e1a26" fill-opacity="0.8">–</text>
<rect x="375" y="200" width="41" height="18.1" fill="#86dde4"/>
<text x="390.85" y="203.94" font-size="1.3" transform="matrix(1 0.0005 0 1 0 -0.1954)" class="k" font-weight="700" fill="#0e1a26" textLength="9.3" lengthAdjust="spacing">site droits news</text>
<text x="375.1" y="206.81" font-size="1.2" transform="matrix(1 0.0005 0 1 0 -0.1876)" class="k" font-weight="700" fill="#0e1a26" textLength="5" lengthAdjust="spacing">carnatio</text>
<text x="375.6" y="207.79" font-size="1.12" transform="matrix(1 0.0005 0 1 0 -0.1878)" class="r" fill="#0e1a26" textLength="15.3" lengthAdjust="spacing">livraison newsletter décor clés m</text>
<text x="375.1" y="209.61" font-size="1.2" transform="matrix(1 0.0005 0 1 0 -0.1876)" class="k" font-weight="700" fill="#0e1a26" textLength="4.5" lengthAdjust="spacing">marché</text>
<text x="375.6" y="211.69" font-size="1.12" transform="matrix(1 0.0005 0 1 0 -0.1878)" class="r" fill="#0e1a26" textLength="13.8" lengthAdjust="spacing">retouche contenu livraison ca</text>
<text x="375.6" y="212.69" font-size="1.12" transform="matrix(1 0.0005 0 1 0 -0.1878)" class="r" fill="#0e1a26" textLength="5.8" lengthAdjust="spacing">externe mar</text>
<text x="375.6" y="214.69" font-size="1.12" transform="matrix(1 0.0005 0 1 0 -0.1878)" class="r" fill="#0e1a26" textLength="7.7" lengthAdjust="spacing">produit durée sit</text>
<rect x="418" y="159" width="40.8" height="18.9" fill="#fdee50"/>
<text x="430.6" y="162.84" font-size="1.3" transform="matrix(1 0.0005 0 1 0 -0.2153)" class="k" font-weight="700" fill="#0e1a26" textLength="15.6" lengthAdjust="spacing">livraison packshot page vi</text>
<text x="418.1" y="165.81" font-size="1.2" transform="matrix(1 0.0005 0 1 0 -0.2091)" class="k" font-weight="700" fill="#0e1a26" textLength="5" lengthAdjust="spacing">validatio</text>
<text x="418.6" y="167.79" font-size="1.12" transform="matrix(1 0.0005 0 1 0 -0.2093)" class="r" fill="#0e1a26" textLength="10.4" lengthAdjust="spacing">angle angle carnation</text>
<text x="418.6" y="168.69" font-size="1.12" transform="matrix(1 0.0005 0 1 0 -0.2093)" class="r" fill="#0e1a26" textLength="10.4" lengthAdjust="spacing">packshot externe ban</text>
<text x="418.6" y="169.68" font-size="1.1" transform="matrix(1 0.0005 0 1 0 -0.2093)" fill="#0e1a26" fill-opacity="0.8">–</text>
<text x="418.1" y="170.81" font-size="1.2" transform="matrix(1 0.0005 0 1 0 -0.2091)" class="k" font-weight="700" fill="#0e1a26" textLength="4" lengthAdjust="spacing">shooti</text>
<text x="418.6" y="172.69" font-size="1.12" transform="matrix(1 0.0005 0 1 0 -0.2093)" class="r" fill="#0e1a26" textLength="13" lengthAdjust="spacing">durée planning droits banni</text>
<text x="418.6" y="173.69" font-size="1.12" transform="matrix(1 0.0005 0 1 0 -0.2093)" class="r" fill="#0e1a26" textLength="6.4" lengthAdjust="spacing">déclinaison s</text>
<text x="418.6" y="174.68" font-size="1.1" transform="matrix(1 0.0005 0 1 0 -0.2093)" fill="#0e1a26" fill-opacity="0.8">–</text>
<rect x="418" y="179.5" width="40.8" height="18.5" fill="#fdee50"/>
<text x="418.95" y="183.74" font-size="1.3" transform="matrix(1 0.0005 0 1 0 -0.2095)" class="k" font-weight="700" fill="#0e1a26" textLength="38.9" lengthAdjust="spacing">social déclinaison social modèle format retouche angle vidéo clés</text>
<text x="418.1" y="187.61" font-size="1.2" transform="matrix(1 0.0005 0 1 0 -0.2091)" class="k" font-weight="700" fill="#0e1a26" textLength="5" lengthAdjust="spacing">images c</text>
<text x="418.6" y="188.59" font-size="1.12" transform="matrix(1 0.0005 0 1 0 -0.2093)" class="r" fill="#0e1a26" textLength="9.2" lengthAdjust="spacing">angle éditorial pack</text>
<text x="418.1" y="190.41" font-size="1.2" transform="matrix(1 0.0005 0 1 0 -0.2091)" class="k" font-weight="700" fill="#0e1a26" textLength="4" lengthAdjust="spacing">format</text>
<text x="418.6" y="191.59" font-size="1.12" transform="matrix(1 0.0005 0 1 0 -0.2093)" class="r" fill="#0e1a26" textLength="11.3" lengthAdjust="spacing">newsletter shooting pag</text>
<text x="418.6" y="193.49" font-size="1.12" transform="matrix(1 0.0005 0 1 0 -0.2093)" class="r" fill="#0e1a26" textLength="6.4" lengthAdjust="spacing">format vidéo</text>
<rect x="418" y="200.2" width="40.8" height="18.7" fill="#fdee50"/>
<text x="429.9" y="203.64" font-size="1.3" transform="matrix(1 0.0005 0 1 0 -0.215)" class="k" font-weight="700" fill="#0e1a26" textLength="17" lengthAdjust="spacing">brief carnation images angle</text>
<text x="418.1" y="206.61" font-size="1.2" transform="matrix(1 0.0005 0 1 0 -0.2091)" class="k" font-weight="700" fill="#0e1a26" textLength="4.9" lengthAdjust="spacing">ambianc</text>
<text x="418.6" y="208.49" font-size="1.12" transform="matrix(1 0.0005 0 1 0 -0.2093)" class="r" fill="#0e1a26" textLength="12.2" lengthAdjust="spacing">durée budget usage produ</text>
<text x="418.1" y="210.61" font-size="1.2" transform="matrix(1 0.0005 0 1 0 -0.2091)" class="k" font-weight="700" fill="#0e1a26" textLength="4.2" lengthAdjust="spacing">collecti</text>
<text x="418.6" y="211.59" font-size="1.12" transform="matrix(1 0.0005 0 1 0 -0.2093)" class="r" fill="#0e1a26" textLength="17.4" lengthAdjust="spacing">éditorial marque décor studio landing</text>
<text x="418.6" y="213.59" font-size="1.12" transform="matrix(1 0.0005 0 1 0 -0.2093)" class="r" fill="#0e1a26" textLength="6.3" lengthAdjust="spacing">déclinaison la</text>
<text x="418.6" y="214.49" font-size="1.12" transform="matrix(1 0.0005 0 1 0 -0.2093)" class="r" fill="#0e1a26" textLength="13.2" lengthAdjust="spacing">agence produit droits page</text>
<text x="418.6" y="215.48" font-size="1.1" transform="matrix(1 0.0005 0 1 0 -0.2093)" fill="#0e1a26" fill-opacity="0.8">–</text>
<rect x="460.3" y="159" width="40.7" height="18.9" fill="#ee70c4"/>
<text x="475.65" y="162.84" font-size="1.3" transform="matrix(1 0.0005 0 1 0 -0.2378)" class="k" font-weight="700" fill="#0e1a26" textLength="10" lengthAdjust="spacing">reportage éditori</text>
<text x="460.4" y="165.81" font-size="1.2" transform="matrix(1 0.0005 0 1 0 -0.2302)" class="k" font-weight="700" fill="#0e1a26" textLength="4.7" lengthAdjust="spacing">déclinai</text>
<text x="461.3" y="167.79" font-size="1.12" transform="matrix(1 0.0005 0 1 0 -0.2307)" class="r" fill="#0e1a26" textLength="14.8" lengthAdjust="spacing">angle contenu social décor mod</text>
<text x="460.4" y="170.81" font-size="1.2" transform="matrix(1 0.0005 0 1 0 -0.2302)" class="k" font-weight="700" fill="#0e1a26" textLength="4.7" lengthAdjust="spacing">décor liv</text>
<text x="461.3" y="172.69" font-size="1.12" transform="matrix(1 0.0005 0 1 0 -0.2307)" class="r" fill="#0e1a26" textLength="5.6" lengthAdjust="spacing">visuels mar</text>
<text x="461.3" y="173.69" font-size="1.12" transform="matrix(1 0.0005 0 1 0 -0.2307)" class="r" fill="#0e1a26" textLength="7.5" lengthAdjust="spacing">décor usage ext</text>
<text x="461.3" y="174.68" font-size="1.1" transform="matrix(1 0.0005 0 1 0 -0.2307)" fill="#0e1a26" fill-opacity="0.8">–</text>
<rect x="460.3" y="179.5" width="40.7" height="20.3" fill="#ee70c4"/>
<text x="472.1" y="180.44" font-size="1.3" transform="matrix(1 0.0005 0 1 0 -0.236)" class="k" font-weight="700" fill="#0e1a26" textLength="17.1" lengthAdjust="spacing">visuels planning visuels agen</text>
<text x="460.4" y="183.31" font-size="1.2" transform="matrix(1 0.0005 0 1 0 -0.2302)" class="k" font-weight="700" fill="#0e1a26" textLength="5.2" lengthAdjust="spacing">vidéo am</text>
<text x="461.3" y="185.29" font-size="1.12" transform="matrix(1 0.0005 0 1 0 -0.2307)" class="r" fill="#0e1a26" textLength="10.6" lengthAdjust="spacing">externe livraison agen</text>
<text x="461.3" y="186.29" font-size="1.12" transform="matrix(1 0.0005 0 1 0 -0.2307)" class="r" fill="#0e1a26" textLength="12.7" lengthAdjust="spacing">usage lifestyle interne droit</text>
<text x="461.3" y="188.19" font-size="1.12" transform="matrix(1 0.0005 0 1 0 -0.2307)" class="r" fill="#0e1a26" textLength="36.7" lengthAdjust="spacing">shooting validation durée bannière lumière saison lifestyle usage shooting page</text>
<text x="462.3" y="189.19" font-size="1.12" transform="matrix(1 0.0005 0 1 0 -0.2312)" class="r" fill="#0e1a26" textLength="4.7" lengthAdjust="spacing">images fo</text>
<text x="461.3" y="191.29" font-size="1.12" transform="matrix(1 0.0005 0 1 0 -0.2307)" class="r" fill="#0e1a26" textLength="13.7" lengthAdjust="spacing">lumière clés validation éditori</text>
<text x="460.4" y="194.21" font-size="1.2" transform="matrix(1 0.0005 0 1 0 -0.2302)" class="k" font-weight="700" fill="#0e1a26" textLength="4.4" lengthAdjust="spacing">décor c</text>
<text x="461.3" y="196.19" font-size="1.12" transform="matrix(1 0.0005 0 1 0 -0.2307)" class="r" fill="#0e1a26" textLength="5.6" lengthAdjust="spacing">livraison ma</text>
<text x="461.3" y="197.09" font-size="1.12" transform="matrix(1 0.0005 0 1 0 -0.2307)" class="r" fill="#0e1a26" textLength="12.7" lengthAdjust="spacing">externe produit retouche la</text>
<text x="461.3" y="199.19" font-size="1.12" transform="matrix(1 0.0005 0 1 0 -0.2307)" class="r" fill="#0e1a26" textLength="12.7" lengthAdjust="spacing">landing validation lifestyle</text>
<rect x="460.3" y="201.2" width="40.7" height="18" fill="#ee70c4"/>
<text x="477.2" y="203.24" font-size="1.3" transform="matrix(1 0.0005 0 1 0 -0.2386)" class="k" font-weight="700" fill="#0e1a26" textLength="6.9" lengthAdjust="spacing">casting déc</text>
<text x="460.4" y="206.96" font-size="1.2" transform="matrix(1 0.0005 0 1 0 -0.2302)" class="k" font-weight="700" fill="#0e1a26" textLength="5.2" lengthAdjust="spacing">carnation</text>
<text x="461.3" y="208.04" font-size="1.12" transform="matrix(1 0.0005 0 1 0 -0.2307)" class="r" fill="#0e1a26" textLength="14" lengthAdjust="spacing">saison durée clés casting droit</text>
<text x="461.3" y="209.34" font-size="1.12" transform="matrix(1 0.0005 0 1 0 -0.2307)" class="r" fill="#0e1a26" textLength="5.6" lengthAdjust="spacing">validation pr</text>
<text x="461.3" y="211.04" font-size="1.12" transform="matrix(1 0.0005 0 1 0 -0.2307)" class="r" fill="#0e1a26" textLength="16.3" lengthAdjust="spacing">ambiance format images ambiance</text>
<text x="460.4" y="215.26" font-size="1.2" transform="matrix(1 0.0005 0 1 0 -0.2302)" class="k" font-weight="700" fill="#0e1a26" textLength="4.4" lengthAdjust="spacing">vidéo a</text>
<text x="461.3" y="216.44" font-size="1.12" transform="matrix(1 0.0005 0 1 0 -0.2307)" class="r" fill="#0e1a26" textLength="5.9" lengthAdjust="spacing">clés newslet</text>
<text x="461.3" y="217.94" font-size="1.12" transform="matrix(1 0.0005 0 1 0 -0.2307)" class="r" fill="#0e1a26" textLength="12.2" lengthAdjust="spacing">newsletter landing livraiso</text>
<rect x="503.2" y="158.9" width="40.8" height="14.1" fill="#e2a6ee"/>
<text x="515.95" y="160.44" font-size="1.3" transform="matrix(1 0.0005 0 1 0 -0.258)" class="k" font-weight="700" fill="#0e1a26" textLength="15.3" lengthAdjust="spacing">reportage usage collectio</text>
<text x="503.3" y="163.21" font-size="1.2" transform="matrix(1 0.0005 0 1 0 -0.2516)" class="k" font-weight="700" fill="#0e1a26" textLength="4.7" lengthAdjust="spacing">produit</text>
<text x="503.7" y="165.19" font-size="1.12" transform="matrix(1 0.0005 0 1 0 -0.2519)" class="r" fill="#0e1a26" textLength="24.7" lengthAdjust="spacing">site reportage social lifestyle export déclinaison visuel</text>
<text x="503.7" y="166.19" font-size="1.12" transform="matrix(1 0.0005 0 1 0 -0.2519)" class="r" fill="#0e1a26" textLength="11" lengthAdjust="spacing">casting export marque</text>
<text x="503.7" y="167.13" font-size="1.1" transform="matrix(1 0.0005 0 1 0 -0.2519)" fill="#0e1a26" fill-opacity="0.8">–</text>
<text x="503.3" y="170.11" font-size="1.2" transform="matrix(1 0.0005 0 1 0 -0.2516)" class="k" font-weight="700" fill="#0e1a26" textLength="3.7" lengthAdjust="spacing">vidéo i</text>
<text x="503.7" y="171.09" font-size="1.12" transform="matrix(1 0.0005 0 1 0 -0.2519)" class="r" fill="#0e1a26" textLength="5.6" lengthAdjust="spacing">page format</text>
<text x="503.7" y="173.09" font-size="1.12" transform="matrix(1 0.0005 0 1 0 -0.2519)" class="r" fill="#0e1a26" textLength="13.3" lengthAdjust="spacing">budget validation durée casti</text>
<rect x="0.5" y="235" width="51.2" height="22.4" fill="#000" fill-opacity="0.06" filter="url(#bl)"/>
<rect x="0" y="233.1" width="51.95" height="23.3" fill="#fcf8b8"/>
<text x="2.25" y="238.95" font-size="3.28" transform="matrix(1 0.0005 0 1 0 -0.0011)" class="s" fill="#1c1c1a" textLength="45.6" lengthAdjust="spacing">rajouter gestion canaux mail au</text>
<text x="2.25" y="243.05" font-size="3.15" transform="matrix(1 0.0005 0 1 0 -0.0011)" class="s" fill="#1c1c1a" textLength="20.4" lengthAdjust="spacing">mail + Langue.</text>
<text x="2.7" y="252.9" font-size="2.6" transform="matrix(1 0.0005 0 1 0 -0.0014)" fill="#555" textLength="15.2" lengthAdjust="spacing">Anouk Tellier</text>
<rect x="8.2" y="285.15" width="642.6" height="7.65" fill="#000"/>
<text y="290.75" font-size="3.7" transform="matrix(1 0.0005 0 1 0 -0.1646)" font-weight="700" fill="#fff" stroke="#fff" stroke-width="0.14"><tspan x="264.8" textLength="24.5" lengthAdjust="spacing">RESSOURCES</tspan> <tspan x="290.7" textLength="25.3" lengthAdjust="spacing">NÉCESSAIRES</tspan> <tspan x="317.6" textLength="10" lengthAdjust="spacing">POUR</tspan> <tspan x="329.5" textLength="19.3" lengthAdjust="spacing">PRODUIRE</tspan> <tspan x="350.1" textLength="5.9" lengthAdjust="spacing">LES</tspan> <tspan x="357.3" textLength="1.7" lengthAdjust="spacing">2</tspan> <tspan x="360.5" textLength="7.5" lengthAdjust="spacing">KITS</tspan> <tspan x="369.4" textLength="10.6" lengthAdjust="spacing">MAXI</tspan> <tspan x="381.6" textLength="1.9" lengthAdjust="spacing">+</tspan> <tspan x="384.8" textLength="8.6" lengthAdjust="spacing">MINI</tspan></text>
<rect x="9" y="340.4" width="27.9" height="4.3" fill="#fff" stroke="#d6d6d6" stroke-width="0.35" rx="0.25"/>
<text x="17.65" y="343.05" font-size="1.55" transform="matrix(1 0.0005 0 1 0 -0.0088)" class="k" font-weight="700" fill="#111" textLength="10.6" lengthAdjust="spacing">Iconographie</text>
<rect x="53.3" y="327.3" width="35.6" height="3.3" fill="#fff" stroke="#d6d6d6" stroke-width="0.35" rx="0.25"/>
<text x="65.6" y="329.45" font-size="1.55" transform="matrix(1 0.0005 0 1 0 -0.0328)" class="k" font-weight="700" fill="#111" textLength="11" lengthAdjust="spacing">Stock &amp; Direct *</text>
<rect x="52.1" y="359.5" width="35.9" height="3.5" fill="#fff" stroke="#d6d6d6" stroke-width="0.35" rx="0.25"/>
<text x="63.05" y="361.75" font-size="1.55" transform="matrix(1 0.0005 0 1 0 -0.0315)" class="k" font-weight="700" fill="#111" textLength="14" lengthAdjust="spacing">Reportages éditoriaux *</text>
<path d="M37.2 342.2 C43.75 335.55 48.43 329.83 52.8 328.9" fill="none" stroke="#000" stroke-width="0.6" stroke-dasharray="0.87 2.2" stroke-dashoffset="1.82"/>
<path d="M37.2 342.8 C43.25 352 47.57 359.91 51.6 361.2" fill="none" stroke="#000" stroke-width="0.6" stroke-dasharray="0.76 1.95" stroke-dashoffset="1.97"/>
<rect x="114.4" y="315.8" width="24.2" height="3" fill="#fff" stroke="#d6d6d6" stroke-width="0.35" rx="0.25"/>
<text x="123.75" y="317.8" font-size="1.45" transform="matrix(1 0.0005 0 1 0 -0.0619)" class="r" fill="#222" textLength="5.5" lengthAdjust="spacing">Formats</text>
<path d="M89.6 329 C99.81 323.15 107.1 318.12 113.9 317.3" fill="none" stroke="#000" stroke-width="0.6" stroke-dasharray="0.64 2.49" stroke-dashoffset="1.32"/>
<circle cx="113.6" cy="317.3" r="0.4" fill="#111"/>
<rect x="114.4" y="319.8" width="24.2" height="3" fill="#fff" stroke="#d6d6d6" stroke-width="0.35" rx="0.25"/>
<text x="115.25" y="321.8" font-size="1.45" transform="matrix(1 0.0005 0 1 0 -0.0576)" class="r" fill="#222" textLength="22.5" lengthAdjust="spacing">Export / Rendements / Informations</text>
<path d="M89.6 329 C99.81 325.15 107.1 321.84 113.9 321.3" fill="none" stroke="#000" stroke-width="0.6" stroke-dasharray="0.64 1.85" stroke-dashoffset="0.77"/>
<circle cx="113.6" cy="321.3" r="0.4" fill="#111"/>
<rect x="114.4" y="323.8" width="24.2" height="3" fill="#fff" stroke="#d6d6d6" stroke-width="0.35" rx="0.25"/>
<text x="119" y="325.8" font-size="1.45" transform="matrix(1 0.0005 0 1 0 -0.0595)" class="r" fill="#222" textLength="15.01" lengthAdjust="spacing">Kit de présentation CE</text>
<path d="M89.6 329 C99.81 327.15 107.1 325.56 113.9 325.3" fill="none" stroke="#000" stroke-width="0.6" stroke-dasharray="0.7 2.15" stroke-dashoffset="0.51"/>
<circle cx="113.6" cy="325.3" r="0.4" fill="#111"/>
<rect x="114.4" y="327.8" width="24.2" height="3.3" fill="#fff" stroke="#d6d6d6" stroke-width="0.35" rx="0.25"/>
<text x="117.87" y="329.95" font-size="1.45" transform="matrix(1 0.0005 0 1 0 -0.0589)" class="r" fill="#222" textLength="17.26" lengthAdjust="spacing">CE option perso/Influence</text>
<path d="M89.6 329 C99.81 329.23 107.1 329.42 113.9 329.45" fill="none" stroke="#000" stroke-width="0.6" stroke-dasharray="0.67 1.93" stroke-dashoffset="0.26"/>
<circle cx="113.6" cy="329.45" r="0.4" fill="#111"/>
<rect x="114.4" y="331.9" width="24.2" height="3.2" fill="#fff" stroke="#d6d6d6" stroke-width="0.35" rx="0.25"/>
<text x="121.5" y="334" font-size="1.45" transform="matrix(1 0.0005 0 1 0 -0.0607)" class="r" fill="#222" textLength="10.01" lengthAdjust="spacing">Landing Pages</text>
<path d="M89.6 329 C99.81 331.25 107.1 333.19 113.9 333.5" fill="none" stroke="#000" stroke-width="0.6" stroke-dasharray="0.8 1.9" stroke-dashoffset="1.35"/>
<circle cx="113.6" cy="333.5" r="0.4" fill="#111"/>
<rect x="114.4" y="336.6" width="24.2" height="3.3" fill="#fff" stroke="#d6d6d6" stroke-width="0.35" rx="0.25"/>
<text x="122.58" y="338.75" font-size="1.45" transform="matrix(1 0.0005 0 1 0 -0.0613)" class="r" fill="#222" textLength="7.84" lengthAdjust="spacing">Newsletters</text>
<path d="M89.6 329 C99.81 333.62 107.1 337.6 113.9 338.25" fill="none" stroke="#000" stroke-width="0.6" stroke-dasharray="0.65 1.89" stroke-dashoffset="1.53"/>
<circle cx="113.6" cy="338.25" r="0.4" fill="#111"/>
<rect x="114.4" y="340.9" width="24.2" height="3" fill="#fff" stroke="#d6d6d6" stroke-width="0.35" rx="0.25"/>
<text x="121.96" y="342.9" font-size="1.45" transform="matrix(1 0.0005 0 1 0 -0.061)" class="r" fill="#222" textLength="9.09" lengthAdjust="spacing">Réseaux soc.</text>
<path d="M89.6 329 C99.81 335.7 107.1 341.46 113.9 342.4" fill="none" stroke="#000" stroke-width="0.6" stroke-dasharray="0.73 2.16" stroke-dashoffset="0.5"/>
<circle cx="113.6" cy="342.4" r="0.4" fill="#111"/>
<rect x="114.4" y="344.7" width="24.2" height="3" fill="#fff" stroke="#d6d6d6" stroke-width="0.35" rx="0.25"/>
<text x="121.87" y="346.7" font-size="1.45" transform="matrix(1 0.0005 0 1 0 -0.0609)" class="r" fill="#222" textLength="9.25" lengthAdjust="spacing">Event promos</text>
<path d="M89.6 329 C99.81 337.6 107.1 345 113.9 346.2" fill="none" stroke="#000" stroke-width="0.6" stroke-dasharray="0.88 2.5" stroke-dashoffset="1.77"/>
<circle cx="113.6" cy="346.2" r="0.4" fill="#111"/>
<rect x="114.4" y="351.6" width="24.2" height="3.1" fill="#fff" stroke="#d6d6d6" stroke-width="0.35" rx="0.25"/>
<text x="123.75" y="353.65" font-size="1.45" transform="matrix(1 0.0005 0 1 0 -0.0619)" class="r" fill="#222" textLength="5.5" lengthAdjust="spacing">Formats</text>
<path d="M88.8 361.2 C99.34 357.17 106.87 353.71 113.9 353.15" fill="none" stroke="#000" stroke-width="0.6" stroke-dasharray="0.88 2.15" stroke-dashoffset="0.07"/>
<circle cx="113.6" cy="353.15" r="0.4" fill="#111"/>
<rect x="114.4" y="356.6" width="24.2" height="3.1" fill="#fff" stroke="#d6d6d6" stroke-width="0.35" rx="0.25"/>
<text x="122.26" y="358.65" font-size="1.45" transform="matrix(1 0.0005 0 1 0 -0.0611)" class="r" fill="#222" textLength="8.48" lengthAdjust="spacing">Vidéo Studio</text>
<path d="M88.8 361.2 C99.34 359.67 106.87 358.36 113.9 358.15" fill="none" stroke="#000" stroke-width="0.6" stroke-dasharray="0.78 2.32" stroke-dashoffset="0.34"/>
<circle cx="113.6" cy="358.15" r="0.4" fill="#111"/>
<rect x="114.4" y="360.8" width="24.2" height="3.2" fill="#fff" stroke="#dedede" stroke-width="0.3" rx="0.4"/>
<text x="111" y="362.88" font-size="1.4" transform="matrix(1 0.0005 0 1 0 -0.0555)" fill="#222" textLength="32" lengthAdjust="spacing">avec Crédit and autorisations des sites Infomaniak</text>
<path d="M88.8 361.2 C99.34 361.8 106.87 362.32 113.9 362.4" fill="none" stroke="#000" stroke-width="0.6" stroke-dasharray="0.72 2.03" stroke-dashoffset="0.83"/>
<circle cx="113.6" cy="362.4" r="0.4" fill="#111"/>
<rect x="114.4" y="364.9" width="24.2" height="3.2" fill="#fff" stroke="#d6d6d6" stroke-width="0.35" rx="0.25"/>
<text x="122.41" y="367" font-size="1.45" transform="matrix(1 0.0005 0 1 0 -0.0612)" class="r" fill="#222" textLength="8.17" lengthAdjust="spacing">Réalisations</text>
<path d="M88.8 361.2 C99.34 363.85 106.87 366.13 113.9 366.5" fill="none" stroke="#000" stroke-width="0.6" stroke-dasharray="0.58 2.4" stroke-dashoffset="0.67"/>
<circle cx="113.6" cy="366.5" r="0.4" fill="#111"/>
<rect x="143" y="312.8" width="20.9" height="2.7" fill="#fff" stroke="#d6d6d6" stroke-width="0.35" rx="0.25"/>
<text x="149.39" y="314.65" font-size="1.45" transform="matrix(1 0.0005 0 1 0 -0.0747)" class="r" fill="#222" textLength="8.11" lengthAdjust="spacing">Digital Video</text>
<path d="M139 317.3 C140.51 315.73 141.59 314.37 142.6 314.15" fill="none" stroke="#000" stroke-width="0.6" stroke-dasharray="0.86 2.06" stroke-dashoffset="1.82"/>
<circle cx="142.3" cy="314.15" r="0.4" fill="#111"/>
<rect x="143" y="316" width="20.9" height="2.8" fill="#fff" stroke="#d6d6d6" stroke-width="0.35" rx="0.25"/>
<text x="149.43" y="317.9" font-size="1.45" transform="matrix(1 0.0005 0 1 0 -0.0747)" class="r" fill="#222" textLength="8.03" lengthAdjust="spacing">Social Video</text>
<path d="M139 317.3 C140.51 317.35 141.59 317.39 142.6 317.4" fill="none" stroke="#000" stroke-width="0.6" stroke-dasharray="0.63 2.16" stroke-dashoffset="1.37"/>
<circle cx="142.3" cy="317.4" r="0.4" fill="#111"/>
<rect x="143" y="350.1" width="20.9" height="2.9" fill="#fff" stroke="#d6d6d6" stroke-width="0.35" rx="0.25"/>
<text x="149.39" y="352.05" font-size="1.45" transform="matrix(1 0.0005 0 1 0 -0.0747)" class="r" fill="#222" textLength="8.11" lengthAdjust="spacing">Digital Video</text>
<path d="M139 353.2 C140.51 352.38 141.59 351.67 142.6 351.55" fill="none" stroke="#000" stroke-width="0.6" stroke-dasharray="0.57 2.43" stroke-dashoffset="0.42"/>
<circle cx="142.3" cy="351.55" r="0.4" fill="#111"/>
<rect x="143" y="354" width="20.9" height="2.9" fill="#fff" stroke="#d6d6d6" stroke-width="0.35" rx="0.25"/>
<text x="149.43" y="355.95" font-size="1.45" transform="matrix(1 0.0005 0 1 0 -0.0747)" class="r" fill="#222" textLength="8.03" lengthAdjust="spacing">Social Video</text>
<path d="M139 353.2 C140.51 354.32 141.59 355.29 142.6 355.45" fill="none" stroke="#000" stroke-width="0.6" stroke-dasharray="0.81 2.42" stroke-dashoffset="0.84"/>
<circle cx="142.3" cy="355.45" r="0.4" fill="#111"/>
<rect x="283" y="337.1" width="22.9" height="3.8" fill="#fff" stroke="#d6d6d6" stroke-width="0.35" rx="0.25"/>
<text x="290.45" y="339.5" font-size="1.55" transform="matrix(1 0.0005 0 1 0 -0.1452)" class="k" font-weight="700" fill="#111" textLength="8" lengthAdjust="spacing">Éditorial</text>
<rect x="319.8" y="324.3" width="22.9" height="3.5" fill="#fff" stroke="#d6d6d6" stroke-width="0.35" rx="0.25"/>
<text x="324" y="326.55" font-size="1.55" transform="matrix(1 0.0005 0 1 0 -0.162)" class="k" font-weight="700" fill="#111" textLength="14.5" lengthAdjust="spacing">Développeur web (CI)</text>
<rect x="320" y="352.7" width="23" height="3.8" fill="#fff" stroke="#d6d6d6" stroke-width="0.35" rx="0.25"/>
<text x="322.75" y="355.1" font-size="1.55" transform="matrix(1 0.0005 0 1 0 -0.1614)" class="k" font-weight="700" fill="#111" textLength="17.5" lengthAdjust="spacing">Développeur web/mobile</text>
<path d="M306.3 338.8 C311.8 332.45 315.73 326.99 319.4 326.1" fill="none" stroke="#000" stroke-width="0.6" stroke-dasharray="0.6 2.45" stroke-dashoffset="0.01"/>
<path d="M306.3 339.4 C311.89 347 315.88 353.54 319.6 354.6" fill="none" stroke="#000" stroke-width="0.6" stroke-dasharray="0.79 1.99" stroke-dashoffset="1.9"/>
<rect x="361.4" y="318.8" width="22.8" height="3.3" fill="#fff" stroke="#d6d6d6" stroke-width="0.35" rx="0.25"/>
<text x="368.29" y="320.95" font-size="1.45" transform="matrix(1 0.0005 0 1 0 -0.1841)" class="r" fill="#222" textLength="9.03" lengthAdjust="spacing">Rédacteur FR</text>
<path d="M343.4 326.1 C350.79 323.28 356.07 320.85 361 320.45" fill="none" stroke="#000" stroke-width="0.6" stroke-dasharray="0.68 1.83" stroke-dashoffset="1.49"/>
<circle cx="360.7" cy="320.45" r="0.4" fill="#111"/>
<rect x="361.4" y="324.6" width="22.8" height="3.2" fill="#fff" stroke="#d6d6d6" stroke-width="0.35" rx="0.25"/>
<text x="368.25" y="326.7" font-size="1.45" transform="matrix(1 0.0005 0 1 0 -0.1841)" class="r" fill="#222" textLength="9.11" lengthAdjust="spacing">Rédacteur EN</text>
<path d="M343.4 326.1 C350.79 326.15 356.07 326.19 361 326.2" fill="none" stroke="#000" stroke-width="0.6" stroke-dasharray="0.83 2.06" stroke-dashoffset="1.01"/>
<circle cx="360.7" cy="326.2" r="0.4" fill="#111"/>
<rect x="361.4" y="329.6" width="22.8" height="3.3" fill="#fff" stroke="#d6d6d6" stroke-width="0.35" rx="0.25"/>
<text x="367.96" y="331.75" font-size="1.45" transform="matrix(1 0.0005 0 1 0 -0.184)" class="r" fill="#222" textLength="9.67" lengthAdjust="spacing">Head Designer</text>
<path d="M343.4 326.1 C350.79 328.68 356.07 330.89 361 331.25" fill="none" stroke="#000" stroke-width="0.6" stroke-dasharray="0.82 2.44" stroke-dashoffset="2.5"/>
<circle cx="360.7" cy="331.25" r="0.4" fill="#111"/>
<rect x="389.6" y="315.8" width="22.3" height="3" fill="#fff" stroke="#d6d6d6" stroke-width="0.35" rx="0.25"/>
<text x="395.95" y="317.8" font-size="1.45" transform="matrix(1 0.0005 0 1 0 -0.198)" class="r" fill="#222" textLength="9.59" lengthAdjust="spacing">Chef rédacteur</text>
<path d="M384.6 320.4 C386.53 318.85 387.91 317.52 389.2 317.3" fill="none" stroke="#000" stroke-width="0.6" stroke-dasharray="0.6 2.3" stroke-dashoffset="2.12"/>
<circle cx="388.9" cy="317.3" r="0.4" fill="#111"/>
<rect x="389.6" y="319.8" width="22.3" height="3" fill="#fff" stroke="#d6d6d6" stroke-width="0.35" rx="0.25"/>
<text x="393.05" y="321.8" font-size="1.45" transform="matrix(1 0.0005 0 1 0 -0.1965)" class="r" fill="#222" textLength="15.39" lengthAdjust="spacing">Communiqué de presse</text>
<path d="M384.6 320.4 C386.53 320.85 387.91 321.24 389.2 321.3" fill="none" stroke="#000" stroke-width="0.6" stroke-dasharray="0.87 2.19" stroke-dashoffset="1.6"/>
<circle cx="388.9" cy="321.3" r="0.4" fill="#111"/>
<rect x="389.6" y="323.8" width="22.3" height="3" fill="#fff" stroke="#d6d6d6" stroke-width="0.35" rx="0.25"/>
<text x="395.95" y="325.8" font-size="1.45" transform="matrix(1 0.0005 0 1 0 -0.198)" class="r" fill="#222" textLength="9.59" lengthAdjust="spacing">Chef rédacteur</text>
<path d="M384.6 326.2 C386.53 325.75 387.91 325.36 389.2 325.3" fill="none" stroke="#000" stroke-width="0.6" stroke-dasharray="0.82 1.83" stroke-dashoffset="1.03"/>
<circle cx="388.9" cy="325.3" r="0.4" fill="#111"/>
<rect x="389.6" y="327.8" width="22.3" height="3.3" fill="#fff" stroke="#d6d6d6" stroke-width="0.35" rx="0.25"/>
<text x="393.05" y="329.95" font-size="1.45" transform="matrix(1 0.0005 0 1 0 -0.1965)" class="r" fill="#222" textLength="15.39" lengthAdjust="spacing">Communiqué de presse</text>
<path d="M384.6 326.2 C386.53 327.83 387.91 329.22 389.2 329.45" fill="none" stroke="#000" stroke-width="0.6" stroke-dasharray="0.56 2.12" stroke-dashoffset="0.3"/>
<circle cx="388.9" cy="329.45" r="0.4" fill="#111"/>
<rect x="362.1" y="341.8" width="22.5" height="3.2" fill="#fff" stroke="#d6d6d6" stroke-width="0.35" rx="0.25"/>
<text x="367.94" y="343.9" font-size="1.45" transform="matrix(1 0.0005 0 1 0 -0.184)" class="r" fill="#222" textLength="10.83" lengthAdjust="spacing">Rédacteur LT/AT</text>
<path d="M343.6 354.6 C351.2 349 356.63 344.18 361.7 343.4" fill="none" stroke="#000" stroke-width="0.6" stroke-dasharray="0.69 1.97" stroke-dashoffset="0.33"/>
<circle cx="361.4" cy="343.4" r="0.4" fill="#111"/>
<rect x="362.1" y="345.8" width="22.5" height="3.3" fill="#fff" stroke="#d6d6d6" stroke-width="0.35" rx="0.25"/>
<text x="368.8" y="347.95" font-size="1.45" transform="matrix(1 0.0005 0 1 0 -0.1844)" class="r" fill="#222" textLength="9.11" lengthAdjust="spacing">Rédacteur DE</text>
<path d="M343.6 354.6 C351.2 351.03 356.63 347.95 361.7 347.45" fill="none" stroke="#000" stroke-width="0.6" stroke-dasharray="0.64 2.45" stroke-dashoffset="0.13"/>
<circle cx="361.4" cy="347.45" r="0.4" fill="#111"/>
<rect x="362.1" y="349.8" width="22.5" height="3" fill="#fff" stroke="#d6d6d6" stroke-width="0.35" rx="0.25"/>
<text x="369.16" y="351.8" font-size="1.45" transform="matrix(1 0.0005 0 1 0 -0.1846)" class="r" fill="#222" textLength="8.38" lengthAdjust="spacing">Rédacteur IT</text>
<path d="M343.6 354.6 C351.2 352.95 356.63 351.53 361.7 351.3" fill="none" stroke="#000" stroke-width="0.6" stroke-dasharray="0.82 2.28" stroke-dashoffset="1.97"/>
<circle cx="361.4" cy="351.3" r="0.4" fill="#111"/>
<rect x="362.1" y="354.6" width="22.5" height="3.3" fill="#fff" stroke="#d6d6d6" stroke-width="0.35" rx="0.25"/>
<text x="368.84" y="356.75" font-size="1.45" transform="matrix(1 0.0005 0 1 0 -0.1844)" class="r" fill="#222" textLength="9.03" lengthAdjust="spacing">Rédacteur ES</text>
<path d="M343.6 354.6 C351.2 355.43 356.63 356.13 361.7 356.25" fill="none" stroke="#000" stroke-width="0.6" stroke-dasharray="0.69 2.1" stroke-dashoffset="0.26"/>
<circle cx="361.4" cy="356.25" r="0.4" fill="#111"/>
<rect x="362.1" y="358.9" width="22.5" height="3" fill="#fff" stroke="#d6d6d6" stroke-width="0.35" rx="0.25"/>
<text x="367.59" y="360.9" font-size="1.45" transform="matrix(1 0.0005 0 1 0 -0.1838)" class="r" fill="#222" textLength="11.52" lengthAdjust="spacing">Rédacteur CH/FR</text>
<path d="M343.6 354.6 C351.2 357.5 356.63 359.99 361.7 360.4" fill="none" stroke="#000" stroke-width="0.6" stroke-dasharray="0.67 2.42" stroke-dashoffset="2.28"/>
<circle cx="361.4" cy="360.4" r="0.4" fill="#111"/>
<rect x="362.1" y="362.9" width="22.5" height="3" fill="#fff" stroke="#d6d6d6" stroke-width="0.35" rx="0.25"/>
<text x="368.88" y="364.9" font-size="1.45" transform="matrix(1 0.0005 0 1 0 -0.1844)" class="r" fill="#222" textLength="8.95" lengthAdjust="spacing">Rédacteur NL</text>
<path d="M343.6 354.6 C351.2 359.5 356.63 363.71 361.7 364.4" fill="none" stroke="#000" stroke-width="0.6" stroke-dasharray="0.75 2.03" stroke-dashoffset="0.7"/>
<circle cx="361.4" cy="364.4" r="0.4" fill="#111"/>
<rect x="362.1" y="366.9" width="22.5" height="3" fill="#fff" stroke="#d6d6d6" stroke-width="0.35" rx="0.25"/>
<text x="368.77" y="368.9" font-size="1.45" transform="matrix(1 0.0005 0 1 0 -0.1844)" class="r" fill="#222" textLength="9.16" lengthAdjust="spacing">Web Designer</text>
<path d="M343.6 354.6 C351.2 361.5 356.63 367.43 361.7 368.4" fill="none" stroke="#000" stroke-width="0.6" stroke-dasharray="0.86 2.07" stroke-dashoffset="2.26"/>
<circle cx="361.4" cy="368.4" r="0.4" fill="#111"/>
<text x="11.5" y="394.7" font-size="2.2" transform="matrix(1 0.0005 0 1 0 -0.0057)" class="f" fill="#222" textLength="98.3" lengthAdjust="spacing">*prises et droits déclinaison en différents formats (landing pages, Newsletters, RxSx, DS, SITE...)</text>
<text x="11.5" y="397.8" font-size="2.2" transform="matrix(1 0.0005 0 1 0 -0.0057)" class="f" fill="#222" textLength="78.2" lengthAdjust="spacing">** pour la vidéo penser des déclinaison de format mais également un asset</text>
<rect x="9.95" y="416.95" width="642.45" height="13.75" fill="#e1d9cd"/>
<text y="425.55" font-size="3.7" transform="matrix(1 0.0005 0 1 0 -0.1656)" font-weight="700" fill="#111" stroke="#111" stroke-width="0.14"><tspan x="200.1" textLength="29.8" lengthAdjust="spacing">ORGANISATION</tspan> <tspan x="231.8" textLength="4.5" lengthAdjust="spacing">DE</tspan> <tspan x="237.6" textLength="4.1" lengthAdjust="spacing">LA</tspan> <tspan x="243" textLength="25.6" lengthAdjust="spacing">PRODUCTION</tspan> <tspan x="270.1" textLength="10.2" lengthAdjust="spacing">POUR</tspan> <tspan x="281.8" textLength="17.4" lengthAdjust="spacing">COUVRIR</tspan> <tspan x="300.5" textLength="9.6" lengthAdjust="spacing">TOUS</tspan> <tspan x="311.5" textLength="5.8" lengthAdjust="spacing">LES</tspan> <tspan x="318.9" textLength="17.7" lengthAdjust="spacing">MARCHÉS</tspan> <tspan x="337.8" textLength="11" lengthAdjust="spacing">(TOUS</tspan> <tspan x="350.2" textLength="6.2" lengthAdjust="spacing">LES</tspan> <tspan x="358" textLength="12.8" lengthAdjust="spacing">ASSETS</tspan> <tspan x="372.2" textLength="12.2" lengthAdjust="spacing">UTILES</tspan> <tspan x="385.8" textLength="1.8" lengthAdjust="spacing">+</tspan> <tspan x="389" textLength="24.7" lengthAdjust="spacing">CARNATIONS</tspan> <tspan x="415.2" textLength="12.3" lengthAdjust="spacing">UTILES</tspan> <tspan x="428.8" textLength="1.9" lengthAdjust="spacing">+</tspan> <tspan x="432" textLength="14.2" lengthAdjust="spacing">ANGLES</tspan> <tspan x="447.8" textLength="14.4" lengthAdjust="spacing">UTILES)</tspan></text>
<rect x="8.9" y="433.6" width="642" height="8.2" fill="#000"/>
<text y="438.7" font-size="3.7" transform="matrix(1 0.0005 0 1 0 -0.1649)" font-weight="700" fill="#fff" stroke="#fff" stroke-width="0.14"><tspan x="298.5" textLength="18.4" lengthAdjust="spacing">MARCHÉS</tspan> <tspan x="318.3" textLength="2.2" lengthAdjust="spacing">&amp;</tspan> <tspan x="321.7" textLength="14.8" lengthAdjust="spacing">ANGLES</tspan> <tspan x="338" textLength="23" lengthAdjust="spacing">ÉDITORIAUX</tspan></text>
</svg>
</body>
</html>
